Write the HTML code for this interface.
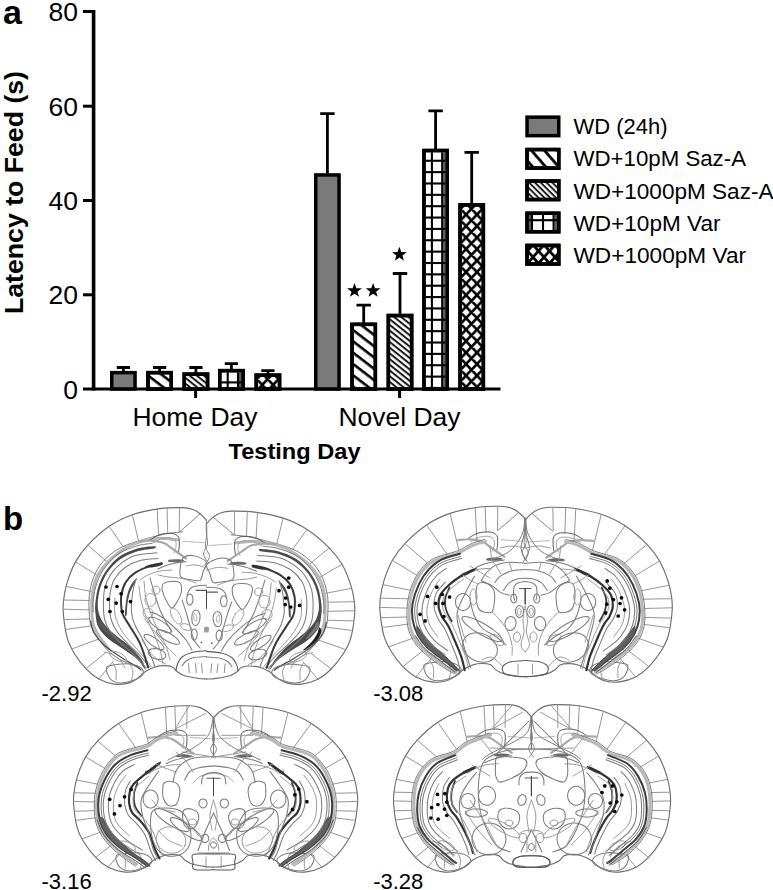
<!DOCTYPE html>
<html><head><meta charset="utf-8">
<style>
html,body{margin:0;padding:0;background:#fff;}
body{width:773px;height:890px;overflow:hidden;}
svg{display:block;}
text{font-family:"Liberation Sans",sans-serif;fill:#000;}
</style></head>
<body>
<svg width="773" height="890" viewBox="0 0 773 890">
<defs>
<pattern id="sazBar" patternUnits="userSpaceOnUse" x="0.00" y="0.00" width="40" height="8.950" patternTransform="rotate(37.60)"><rect x="0" y="0" width="40" height="2.60" fill="#000"/></pattern>
<pattern id="sazLeg" patternUnits="userSpaceOnUse" x="0.00" y="0.00" width="40" height="9.800" patternTransform="rotate(49.00)"><rect x="0" y="0" width="40" height="2.80" fill="#000"/></pattern>
<pattern id="saz1kBar" patternUnits="userSpaceOnUse" x="0.00" y="0.00" width="40" height="4.450" patternTransform="rotate(38.70)"><rect x="0" y="0" width="40" height="2.00" fill="#1a1a1a"/></pattern>
<pattern id="saz1kLeg" patternUnits="userSpaceOnUse" x="0.00" y="0.00" width="40" height="4.100" patternTransform="rotate(45.00)"><rect x="0" y="0" width="40" height="1.90" fill="#1a1a1a"/></pattern>
<clipPath id="c1"><rect x="146.20" y="370.90" width="26.80" height="18.10"/></clipPath>
<clipPath id="c2"><rect x="182.50" y="372.40" width="26.80" height="16.60"/></clipPath>
<clipPath id="c3"><rect x="255.50" y="374.40" width="24.80" height="14.60"/></clipPath>
<pattern id="xh3" patternUnits="userSpaceOnUse" x="251.35" y="373.40" width="10.90" height="11.50"><path d="M0,0 L10.90,11.50 M10.90,0 L0,11.50 M-5.45,5.75 L0,0 M10.90,0.00 L16.35,5.75" stroke="#000" stroke-width="2.60" stroke-linecap="square"/></pattern>
<clipPath id="c4"><rect x="350.30" y="322.60" width="26.80" height="66.40"/></clipPath>
<clipPath id="c5"><rect x="386.60" y="313.80" width="26.80" height="75.20"/></clipPath>
<clipPath id="c6"><rect x="459.30" y="204.10" width="24.80" height="184.90"/></clipPath>
<pattern id="xh6" patternUnits="userSpaceOnUse" x="455.15" y="203.10" width="10.90" height="11.50"><path d="M0,0 L10.90,11.50 M10.90,0 L0,11.50 M-5.45,5.75 L0,0 M10.90,0.00 L16.35,5.75" stroke="#000" stroke-width="2.60" stroke-linecap="square"/></pattern>
<clipPath id="c7"><rect x="525.30" y="147.80" width="35.20" height="22.00"/></clipPath>
<clipPath id="c8"><rect x="525.30" y="179.30" width="35.20" height="22.00"/></clipPath>
<clipPath id="c9"><rect x="525.30" y="211.50" width="35.20" height="22.00"/></clipPath>
<clipPath id="c10"><rect x="525.30" y="243.70" width="35.20" height="22.00"/></clipPath>
<pattern id="xhl" patternUnits="userSpaceOnUse" x="522.00" y="244.80" width="11.00" height="12.40"><path d="M0,0 L11.00,12.40 M11.00,0 L0,12.40 M-5.50,6.20 L0,0 M11.00,0.00 L16.50,6.20" stroke="#000" stroke-width="2.70" stroke-linecap="square"/></pattern>
</defs>

<!-- ===== Panel a ===== -->
<text x="3" y="24" font-size="34" font-weight="bold">a</text>
<text transform="translate(22.8,314) rotate(-90)" font-size="25.5" font-weight="bold" textLength="243" lengthAdjust="spacingAndGlyphs">Latency to Feed (s)</text>
<g font-size="26.5" text-anchor="end">
  <text x="78" y="21">80</text>
  <text x="78" y="115.7">60</text>
  <text x="78" y="210">40</text>
  <text x="78" y="304.4">20</text>
  <text x="78" y="398.6">0</text>
</g>
<g stroke="#000" fill="none">
  <line x1="93.6" y1="10" x2="93.6" y2="390.5" stroke-width="3.6"/>
  <g stroke-width="3">
    <line x1="83" y1="11.5" x2="95" y2="11.5"/>
    <line x1="83" y1="106.2" x2="95" y2="106.2"/>
    <line x1="83" y1="200.5" x2="95" y2="200.5"/>
    <line x1="83" y1="294.8" x2="95" y2="294.8"/>
    <line x1="83" y1="389" x2="500.5" y2="389"/>
    <line x1="195.6" y1="389" x2="195.6" y2="398"/>
    <line x1="399.6" y1="389" x2="399.6" y2="398"/>
  </g>
</g>
<g fill="#000">
  <path id="star" d="M0,-7 L1.75,-2.2 L6.8,-2.1 L2.8,0.95 L4.2,5.8 L0,2.9 L-4.2,5.8 L-2.8,0.95 L-6.8,-2.1 L-1.75,-2.2 Z" transform="translate(354.5,290.6) scale(1.08)"/>
  <use href="#star" x="18.6" y="0"/>
  <use href="#star" x="44.9" y="-36.2"/>
</g>
<text x="132.5" y="425.5" font-size="25" textLength="125" lengthAdjust="spacingAndGlyphs">Home Day</text>
<text x="338.5" y="425.5" font-size="25" textLength="122" lengthAdjust="spacingAndGlyphs">Novel Day</text>
<text x="228.5" y="459" font-size="22" font-weight="bold" textLength="132" lengthAdjust="spacingAndGlyphs">Testing Day</text>
<g font-size="21.5">
  <text x="573.5" y="134" textLength="94" lengthAdjust="spacingAndGlyphs">WD (24h)</text>
  <text x="573.5" y="166.3" textLength="172.5" lengthAdjust="spacingAndGlyphs">WD+10pM Saz-A</text>
  <text x="573.5" y="198.5" textLength="200" lengthAdjust="spacingAndGlyphs">WD+1000pM Saz-A</text>
  <text x="573.5" y="230.8" textLength="147" lengthAdjust="spacingAndGlyphs">WD+10pM Var</text>
  <text x="573.5" y="263" textLength="172.5" lengthAdjust="spacingAndGlyphs">WD+1000pM Var</text>
</g>
<!-- ===== Panel b ===== -->
<text x="3" y="530" font-size="33" font-weight="bold">b</text>
<g font-size="22">
  <text x="41.5" y="701.2">-2.92</text>
  <text x="373.2" y="701.2">-3.08</text>
  <text x="41.5" y="888.8">-3.16</text>
  <text x="373.2" y="888.8">-3.28</text>
</g>

<g>
<rect x="111.75" y="372.65" width="23.30" height="16.35" fill="#7a7a7a" stroke="#000" stroke-width="3.50"/>
<path d="M123.40,371.90 V367.50 M116.80,367.50 H130.00" stroke="#000" stroke-width="2.8" fill="none"/>
<rect x="147.95" y="372.65" width="23.30" height="16.35" fill="#fff" stroke="#000" stroke-width="3.50"/>
<rect x="146.20" y="370.90" width="26.80" height="18.10" fill="url(#sazBar)" clip-path="url(#c1)"/>
<rect x="147.95" y="372.65" width="23.30" height="16.35" fill="none" stroke="#000" stroke-width="3.50"/>
<path d="M159.60,371.90 V367.50 M153.00,367.50 H166.20" stroke="#000" stroke-width="2.8" fill="none"/>
<rect x="184.25" y="374.15" width="23.30" height="14.85" fill="#fff" stroke="#000" stroke-width="3.50"/>
<rect x="182.50" y="372.40" width="26.80" height="16.60" fill="url(#saz1kBar)" clip-path="url(#c2)"/>
<rect x="184.25" y="374.15" width="23.30" height="14.85" fill="none" stroke="#000" stroke-width="3.50"/>
<path d="M195.90,373.40 V367.50 M189.30,367.50 H202.50" stroke="#000" stroke-width="2.8" fill="none"/>
<rect x="219.75" y="370.65" width="23.30" height="18.35" fill="#fff" stroke="#000" stroke-width="3.50"/>
<rect x="239.00" y="372.40" width="3.60" height="16.60" fill="#5c5c5c"/>
<rect x="226.65" y="372.40" width="2.1" height="16.60" fill="#000"/>
<rect x="236.95" y="372.40" width="2.1" height="16.60" fill="#000"/>
<rect x="221.50" y="381.35" width="19.80" height="2.10" fill="#000"/>
<rect x="219.75" y="370.65" width="23.30" height="18.35" fill="none" stroke="#000" stroke-width="3.50"/>
<path d="M231.40,369.90 V363.60 M224.80,363.60 H238.00" stroke="#000" stroke-width="2.8" fill="none"/>
<rect x="256.25" y="375.15" width="23.30" height="13.85" fill="#fff" stroke="#000" stroke-width="3.50"/>
<rect x="254.50" y="373.40" width="26.80" height="15.60" fill="url(#xh3)" clip-path="url(#c3)"/>
<rect x="256.25" y="375.15" width="23.30" height="13.85" fill="none" stroke="#000" stroke-width="3.50"/>
<path d="M267.90,374.40 V370.60 M261.30,370.60 H274.50" stroke="#000" stroke-width="2.8" fill="none"/>
<rect x="315.75" y="174.95" width="23.30" height="214.05" fill="#7a7a7a" stroke="#000" stroke-width="3.50"/>
<path d="M327.40,174.20 V113.60 M320.20,113.60 H334.60" stroke="#000" stroke-width="2.8" fill="none"/>
<rect x="352.05" y="324.35" width="23.30" height="64.65" fill="#fff" stroke="#000" stroke-width="3.50"/>
<rect x="350.30" y="322.60" width="26.80" height="66.40" fill="url(#sazBar)" clip-path="url(#c4)"/>
<rect x="352.05" y="324.35" width="23.30" height="64.65" fill="none" stroke="#000" stroke-width="3.50"/>
<path d="M363.70,323.60 V305.20 M356.50,305.20 H370.90" stroke="#000" stroke-width="2.8" fill="none"/>
<rect x="388.35" y="315.55" width="23.30" height="73.45" fill="#fff" stroke="#000" stroke-width="3.50"/>
<rect x="386.60" y="313.80" width="26.80" height="75.20" fill="url(#saz1kBar)" clip-path="url(#c5)"/>
<rect x="388.35" y="315.55" width="23.30" height="73.45" fill="none" stroke="#000" stroke-width="3.50"/>
<path d="M400.00,314.80 V273.50 M392.80,273.50 H407.20" stroke="#000" stroke-width="2.8" fill="none"/>
<rect x="423.95" y="150.55" width="23.30" height="238.45" fill="#fff" stroke="#000" stroke-width="3.50"/>
<rect x="443.20" y="152.30" width="3.60" height="236.70" fill="#5c5c5c"/>
<rect x="430.85" y="152.30" width="2.1" height="236.70" fill="#000"/>
<rect x="441.15" y="152.30" width="2.1" height="236.70" fill="#000"/>
<rect x="425.70" y="159.71" width="19.80" height="2.10" fill="#000"/>
<rect x="425.70" y="171.07" width="19.80" height="2.10" fill="#000"/>
<rect x="425.70" y="182.43" width="19.80" height="2.10" fill="#000"/>
<rect x="425.70" y="193.79" width="19.80" height="2.10" fill="#000"/>
<rect x="425.70" y="205.15" width="19.80" height="2.10" fill="#000"/>
<rect x="425.70" y="216.51" width="19.80" height="2.10" fill="#000"/>
<rect x="425.70" y="227.87" width="19.80" height="2.10" fill="#000"/>
<rect x="425.70" y="239.23" width="19.80" height="2.10" fill="#000"/>
<rect x="425.70" y="250.59" width="19.80" height="2.10" fill="#000"/>
<rect x="425.70" y="261.95" width="19.80" height="2.10" fill="#000"/>
<rect x="425.70" y="273.31" width="19.80" height="2.10" fill="#000"/>
<rect x="425.70" y="284.67" width="19.80" height="2.10" fill="#000"/>
<rect x="425.70" y="296.03" width="19.80" height="2.10" fill="#000"/>
<rect x="425.70" y="307.39" width="19.80" height="2.10" fill="#000"/>
<rect x="425.70" y="318.75" width="19.80" height="2.10" fill="#000"/>
<rect x="425.70" y="330.11" width="19.80" height="2.10" fill="#000"/>
<rect x="425.70" y="341.47" width="19.80" height="2.10" fill="#000"/>
<rect x="425.70" y="352.83" width="19.80" height="2.10" fill="#000"/>
<rect x="425.70" y="364.19" width="19.80" height="2.10" fill="#000"/>
<rect x="425.70" y="375.55" width="19.80" height="2.10" fill="#000"/>
<rect x="425.70" y="386.91" width="19.80" height="2.09" fill="#000"/>
<rect x="423.95" y="150.55" width="23.30" height="238.45" fill="none" stroke="#000" stroke-width="3.50"/>
<path d="M435.60,149.80 V110.80 M428.40,110.80 H442.80" stroke="#000" stroke-width="2.8" fill="none"/>
<rect x="460.05" y="204.85" width="23.30" height="184.15" fill="#fff" stroke="#000" stroke-width="3.50"/>
<rect x="458.30" y="203.10" width="26.80" height="185.90" fill="url(#xh6)" clip-path="url(#c6)"/>
<rect x="460.05" y="204.85" width="23.30" height="184.15" fill="none" stroke="#000" stroke-width="3.50"/>
<path d="M471.70,204.10 V152.30 M464.50,152.30 H478.90" stroke="#000" stroke-width="2.8" fill="none"/>
<rect x="527.05" y="117.15" width="31.70" height="18.50" fill="#7a7a7a" stroke="#000" stroke-width="3.50"/>
<rect x="527.05" y="149.55" width="31.70" height="18.50" fill="#fff" stroke="#000" stroke-width="3.50"/>
<rect x="525.30" y="147.80" width="35.20" height="22.00" fill="url(#sazLeg)" clip-path="url(#c7)"/>
<rect x="527.05" y="149.55" width="31.70" height="18.50" fill="none" stroke="#000" stroke-width="3.50"/>
<rect x="527.05" y="181.05" width="31.70" height="18.50" fill="#fff" stroke="#000" stroke-width="3.50"/>
<rect x="525.30" y="179.30" width="35.20" height="22.00" fill="url(#saz1kLeg)" clip-path="url(#c8)"/>
<rect x="527.05" y="181.05" width="31.70" height="18.50" fill="none" stroke="#000" stroke-width="3.50"/>
<rect x="527.05" y="213.25" width="31.70" height="18.50" fill="#fff" stroke="#000" stroke-width="3.50"/>
<rect x="528.40" y="215.00" width="2.60" height="15.00" fill="#5c5c5c"/>
<rect x="554.70" y="215.00" width="3.30" height="15.00" fill="#5c5c5c"/>
<rect x="530.95" y="215.00" width="2.1" height="15.00" fill="#000"/>
<rect x="541.95" y="215.00" width="2.1" height="15.00" fill="#000"/>
<rect x="552.55" y="215.00" width="2.1" height="15.00" fill="#000"/>
<rect x="528.80" y="219.15" width="28.20" height="2.1" fill="#000"/>
<rect x="527.05" y="213.25" width="31.70" height="18.50" fill="none" stroke="#000" stroke-width="3.50"/>
<rect x="527.05" y="245.45" width="31.70" height="18.50" fill="#fff" stroke="#000" stroke-width="3.50"/>
<rect x="525.30" y="243.70" width="35.20" height="22.00" fill="url(#xhl)" clip-path="url(#c10)"/>
<rect x="527.05" y="245.45" width="31.70" height="18.50" fill="none" stroke="#000" stroke-width="3.50"/>
</g>

<g stroke-linecap="round" stroke-linejoin="round">
<g>
<path d="M206.5,520.5 C205.6,519.5 203.2,516.3 201.0,514.5 C198.8,512.7 196.2,510.6 193.0,509.5 C189.8,508.4 187.5,507.8 182.0,507.6 C176.5,507.5 168.3,507.4 160.0,508.6 C151.7,509.8 140.9,511.8 132.4,514.7 C123.9,517.7 116.6,521.2 109.2,526.3 C101.8,531.4 93.4,539.2 87.8,545.1 C82.2,551.0 79.0,555.6 75.5,561.9 C72.0,568.1 69.1,576.2 67.1,582.6 C65.1,589.0 64.2,594.7 63.6,600.0 C63.0,605.3 62.8,608.1 63.4,614.4 C64.0,620.7 65.3,631.2 67.1,637.7 C68.9,644.2 71.1,648.0 74.2,653.2 C77.3,658.4 81.8,664.4 85.9,668.7 C90.0,673.0 94.1,676.5 98.8,679.1 C103.5,681.7 109.5,683.4 114.3,684.1 C119.0,684.8 123.7,684.2 127.3,683.4 C130.9,682.6 133.0,681.5 136.0,679.5 C139.0,677.5 142.3,673.6 145.5,671.5 C148.7,669.4 151.9,668.0 155.0,667.0 C158.1,666.0 161.3,665.6 164.2,665.6 C167.1,665.6 170.4,665.9 172.5,666.9 C174.6,667.9 175.1,670.1 177.0,671.5 C178.9,672.9 180.6,674.4 184.0,675.5 C187.4,676.6 193.6,677.7 197.3,678.3 C201.1,678.9 205.0,678.9 206.5,679.0" fill="none" stroke="#6e6e6e" stroke-width="1.15"/>
<path d="M182.7,531.8 C180.6,532.0 173.8,532.6 170.0,533.2 C166.2,533.8 165.4,533.9 160.0,535.2 C154.6,536.5 144.6,538.9 137.6,541.2 C130.6,543.5 124.0,545.5 118.2,549.0 C112.4,552.5 106.8,557.2 102.7,561.9 C98.6,566.6 95.8,571.8 93.6,577.4 C91.4,583.0 90.0,589.4 89.3,595.6 C88.6,601.8 89.0,609.3 89.3,614.4 C89.6,619.5 89.6,621.9 91.2,626.0 C92.8,630.1 96.2,635.1 98.8,639.0 C101.4,642.9 103.7,646.3 106.6,649.3 C109.5,652.3 112.4,654.6 116.0,657.0 C119.6,659.4 124.0,661.8 128.0,663.5 C132.0,665.2 138.0,666.8 140.0,667.5" fill="none" stroke="#7c7c7c" stroke-width="1.00"/>
<path d="M157.2,508.8 L158.5,534.6" fill="none" stroke="#8a8a8a" stroke-width="0.90"/>
<path d="M167.0,507.9 L167.8,533.6" fill="none" stroke="#8a8a8a" stroke-width="0.90"/>
<path d="M179.5,507.7 L179.2,531.6" fill="none" stroke="#8a8a8a" stroke-width="0.90"/>
<path d="M132.4,514.7 L138.5,541.0" fill="none" stroke="#8a8a8a" stroke-width="0.90"/>
<path d="M109.2,526.3 L123.4,547.0" fill="none" stroke="#8a8a8a" stroke-width="0.90"/>
<path d="M87.8,545.1 L107.9,562.6" fill="none" stroke="#8a8a8a" stroke-width="0.90"/>
<path d="M75.5,561.9 L97.5,575.5" fill="none" stroke="#8a8a8a" stroke-width="0.90"/>
<path d="M66.6,586.5 L91.2,591.5" fill="none" stroke="#8a8a8a" stroke-width="0.90"/>
<path d="M63.6,600.0 L89.3,600.5" fill="none" stroke="#8a8a8a" stroke-width="0.90"/>
<path d="M63.5,609.2 L89.3,609.9" fill="none" stroke="#8a8a8a" stroke-width="0.90"/>
<path d="M64.6,619.6 L89.5,618.9" fill="none" stroke="#8a8a8a" stroke-width="0.90"/>
<path d="M66.5,629.3 L90.6,626.0" fill="none" stroke="#8a8a8a" stroke-width="0.90"/>
<path d="M72.3,648.8 L98.8,639.0" fill="none" stroke="#8a8a8a" stroke-width="0.90"/>
<path d="M85.9,668.7 L105.5,652.8" fill="none" stroke="#8a8a8a" stroke-width="0.90"/>
<path d="M98.8,679.1 L113.5,661.0" fill="none" stroke="#8a8a8a" stroke-width="0.90"/>
<path d="M179.9,531.6 L192.0,521.0 L199.8,514.0" fill="none" stroke="#7c7c7c" stroke-width="0.90"/>
<path d="M182.7,541.3 L204.0,542.7" fill="none" stroke="#b0b0b0" stroke-width="0.90"/>
<path d="M206.4,520.5 C206.4,522.2 206.0,527.1 206.2,531.0 C206.4,534.9 207.9,540.2 207.5,544.0 C207.1,547.8 203.3,550.8 203.5,554.0 C203.7,557.2 207.8,561.5 208.6,563.0" fill="none" stroke="#7c7c7c" stroke-width="0.90"/>
<path d="M178.0,540.0 C175.8,539.8 169.2,538.7 165.0,538.5 C160.8,538.3 157.0,537.9 152.5,538.6 C148.0,539.3 142.3,541.1 137.8,542.6 C133.3,544.1 130.6,544.6 125.7,547.7 C120.8,550.8 113.2,556.3 108.3,561.3 C103.4,566.3 99.3,572.0 96.6,577.6 C93.9,583.2 93.0,589.1 92.2,595.2 C91.4,601.3 91.7,608.9 91.9,614.0 C92.2,619.1 92.3,622.0 93.7,626.0 C95.1,630.0 98.0,634.5 100.5,638.3 C103.0,642.0 107.2,646.8 108.5,648.5" fill="none" stroke="#b8b8b8" stroke-width="3.00"/>
<path d="M150.0,540.0 C151.7,539.1 156.3,535.6 160.0,534.5 C163.7,533.4 168.9,533.1 172.0,533.5 C175.1,533.9 177.3,535.1 178.5,537.0 C179.7,538.9 179.3,542.5 179.3,545.0 C179.3,547.5 178.6,550.8 178.5,552.0" fill="none" stroke="#5a5a5a" stroke-width="1.00"/>
<path d="M153.0,543.0 C154.5,542.2 159.0,539.3 162.0,538.5 C165.0,537.7 168.8,537.6 171.0,538.0 C173.2,538.4 174.7,539.5 175.5,541.0 C176.3,542.5 176.2,545.0 176.0,547.0 C175.8,549.0 174.3,552.0 174.0,553.0" fill="none" stroke="#9a9a9a" stroke-width="0.90"/>
<path d="M140.0,541.5 C142.0,541.4 148.0,540.5 152.0,540.8 C156.0,541.0 160.7,541.7 164.0,543.0 C167.3,544.3 169.5,546.8 172.0,548.5 C174.5,550.2 176.7,551.8 179.0,553.5 C181.3,555.2 184.8,557.7 186.0,558.5" fill="none" stroke="#a8a8a8" stroke-width="2.20"/>
<path d="M154.0,546.2 C151.2,546.2 143.1,546.9 137.4,548.6 C131.7,550.3 125.0,552.9 119.9,556.3 C114.9,559.7 110.6,564.5 107.1,569.2 C103.6,573.9 101.0,578.9 99.0,584.4 C97.0,589.9 96.0,597.2 95.4,602.2 C94.8,607.2 95.1,610.2 95.6,614.4 C96.1,618.6 96.3,623.4 98.6,627.6 C100.9,631.8 104.8,635.9 109.2,639.6 C113.6,643.3 120.0,646.7 124.7,650.0 C129.4,653.3 134.1,656.2 137.5,659.5 C140.9,662.8 143.8,667.9 145.2,669.5 C146.5,671.1 146.2,670.7 145.6,669.3 C145.0,667.9 144.3,664.9 141.5,661.0 C138.7,657.1 133.1,650.3 128.6,645.8 C124.1,641.3 118.5,637.8 114.5,634.2 C110.5,630.6 107.0,627.5 104.5,624.2 C102.0,620.9 100.3,618.0 99.2,614.4 C98.1,610.8 97.5,607.1 97.8,602.5 C98.0,597.9 99.0,591.7 100.7,586.5 C102.5,581.3 105.0,575.9 108.3,571.3 C111.6,566.7 115.7,562.4 120.6,559.0 C125.5,555.6 132.0,553.0 137.6,551.2 C143.2,549.5 151.3,549.3 154.0,548.5 C156.7,547.7 156.8,546.2 154.0,546.2 Z" fill="#4a4a4a"/>
<path d="M98.6,624.0 C99.2,625.8 101.6,628.6 104.0,631.0 C106.4,633.4 109.5,635.8 113.0,638.5 C116.5,641.2 121.0,644.2 125.0,647.2 C129.0,650.2 133.9,653.4 137.0,656.5 C140.1,659.6 142.7,665.4 143.5,666.0 C144.3,666.6 144.3,663.3 142.0,660.0 C139.7,656.7 133.9,650.1 129.5,646.0 C125.1,641.9 119.4,638.7 115.5,635.5 C111.6,632.3 108.5,629.6 106.0,627.0 C103.5,624.4 101.7,620.5 100.5,620.0 C99.3,619.5 98.0,622.2 98.6,624.0 Z" fill="#555"/>
<path d="M152.0,543.4 C149.5,543.8 142.5,544.1 137.0,545.8 C131.5,547.5 124.2,550.0 119.0,553.5 C113.8,557.0 109.2,562.0 105.5,566.8 C101.8,571.6 99.0,577.0 97.0,582.5 C95.0,588.0 93.8,595.1 93.2,600.0 C92.6,604.9 93.2,610.0 93.2,612.0" fill="none" stroke="#6a6a6a" stroke-width="0.90"/>
<path d="M90.6,621.0 C91.2,623.0 91.6,628.9 94.0,633.0 C96.4,637.1 100.0,641.6 104.8,645.8 C109.6,650.0 117.6,655.0 122.8,658.4 C128.0,661.8 133.0,664.3 136.0,666.2 C139.0,668.1 140.2,669.4 141.0,670.0" fill="none" stroke="#4a4a4a" stroke-width="1.20"/>
<path d="M157.0,552.8 C153.3,553.3 141.2,553.7 135.0,555.6 C128.8,557.5 124.0,561.1 119.9,564.3 C115.8,567.5 113.1,570.6 110.6,574.6 C108.1,578.6 106.0,583.1 104.8,588.2 C103.6,593.3 103.4,599.7 103.4,605.0 C103.4,610.3 103.6,615.5 104.8,620.0 C106.0,624.5 107.9,628.2 110.5,632.0 C113.1,635.8 116.6,639.2 120.5,643.0 C124.4,646.8 129.7,650.8 134.0,655.0 C138.3,659.2 144.4,665.8 146.5,668.0" fill="none" stroke="#7c7c7c" stroke-width="1.05"/>
<path d="M158.0,558.6 C155.0,558.9 145.5,559.1 140.0,560.6 C134.5,562.1 129.3,564.4 125.0,567.5 C120.7,570.6 116.9,575.1 114.4,579.2 C112.0,583.3 111.1,587.7 110.3,592.0 C109.5,596.3 109.2,600.3 109.4,605.0 C109.6,609.7 110.0,615.5 111.3,620.0 C112.6,624.5 114.5,628.0 117.3,632.0 C120.1,636.0 124.4,640.0 128.2,644.0 C132.0,648.0 136.8,652.2 140.3,656.0 C143.8,659.8 147.7,665.2 149.2,667.0" fill="none" stroke="#7c7c7c" stroke-width="1.05"/>
<path d="M114.8,598.0 C114.8,600.3 114.3,608.0 114.7,612.0 C115.1,616.0 115.7,618.3 117.2,622.0 C118.8,625.7 121.2,630.0 124.0,634.0 C126.8,638.0 130.7,642.2 134.0,646.0 C137.3,649.8 141.1,653.5 144.0,657.0 C146.9,660.5 150.2,665.3 151.5,667.0" fill="none" stroke="#9a9a9a" stroke-width="1.00"/>
<path d="M161.5,563.6 C159.6,564.0 154.6,564.4 150.2,565.9 C145.8,567.4 139.1,570.2 135.0,572.9 C130.9,575.6 128.0,578.5 125.7,582.2 C123.4,585.9 122.0,590.6 121.3,595.2 C120.6,599.8 121.2,606.5 121.6,610.0 C122.0,613.5 122.2,613.2 123.6,616.0 C125.0,618.8 127.2,621.8 130.0,626.5 C132.8,631.2 137.3,637.4 140.3,644.2 C143.3,651.0 146.9,663.5 148.2,667.4" fill="none" stroke="#3a3a3a" stroke-width="2.00"/>
<path d="M161.8,562.4 C160.2,562.3 154.8,563.6 152.0,564.3 C149.2,565.0 145.0,566.3 145.0,566.8 C145.0,567.3 149.2,567.7 152.0,567.4 C154.8,567.1 160.2,565.8 161.8,565.0 C163.4,564.2 163.4,562.5 161.8,562.4 Z" fill="#333"/>
<path d="M136.4,578.6 C135.8,578.9 132.5,582.4 131.0,585.0 C129.5,587.6 128.3,590.7 127.4,594.0 C126.5,597.3 126.0,601.5 125.6,605.0 C125.2,608.5 124.8,613.3 125.0,615.0 C125.2,616.7 126.2,617.0 126.6,615.0 C127.0,613.0 127.0,606.8 127.6,603.0 C128.2,599.2 129.0,595.2 130.2,592.0 C131.3,588.8 133.5,585.7 134.5,583.5 C135.5,581.3 137.0,578.4 136.4,578.6 Z" fill="#505050"/>
<path d="M136.4,578.6 C135.9,580.2 134.3,584.4 133.5,588.0 C132.7,591.6 132.1,596.0 131.8,600.0 C131.5,604.0 131.1,608.0 131.5,612.0 C131.9,616.0 132.8,619.7 134.5,624.0 C136.2,628.3 139.3,632.8 142.0,638.0 C144.7,643.2 148.3,650.2 150.5,655.0 C152.7,659.8 154.2,665.0 155.0,667.0" fill="none" stroke="#7c7c7c" stroke-width="1.05"/>
<path d="M158.0,569.0 C159.3,568.4 163.0,566.5 166.0,565.5 C169.0,564.5 172.7,563.7 176.0,563.0 C179.3,562.3 184.3,561.8 186.0,561.5" fill="none" stroke="#7c7c7c" stroke-width="1.05"/>
<path d="M169.0,559.8 C170.5,559.3 175.4,559.1 178.0,559.2 C180.6,559.3 184.5,560.1 184.5,560.6 C184.5,561.1 180.6,562.1 178.0,562.3 C175.4,562.5 170.5,562.4 169.0,562.0 C167.5,561.6 167.5,560.3 169.0,559.8 Z" fill="#6a6a6a"/>
<path d="M140.0,580.0 C141.3,579.2 144.7,576.5 148.0,575.0 C151.3,573.5 156.0,571.8 160.0,571.0 C164.0,570.2 170.0,570.2 172.0,570.0" fill="none" stroke="#9a9a9a" stroke-width="1.00"/>
<path d="M139.0,586.0 C139.3,588.3 139.8,594.8 141.0,600.0 C142.2,605.2 143.8,611.3 146.0,617.0 C148.2,622.7 151.7,628.5 154.0,634.0 C156.3,639.5 158.5,645.0 160.0,650.0 C161.5,655.0 162.5,661.7 163.0,664.0" fill="none" stroke="#9a9a9a" stroke-width="1.00"/>
<path d="M144.0,581.0 C144.3,583.8 144.8,592.5 146.0,598.0 C147.2,603.5 149.0,608.7 151.0,614.0 C153.0,619.3 155.5,624.7 158.0,630.0 C160.5,635.3 164.0,641.0 166.0,646.0 C168.0,651.0 169.3,657.7 170.0,660.0" fill="none" stroke="#9a9a9a" stroke-width="1.00"/>
<path d="M183.6,557.5 C185.8,555.8 190.2,555.0 194.0,555.8 C197.8,556.5 204.7,559.3 206.2,562.0 C207.7,564.7 204.0,568.9 203.0,572.0 C202.0,575.1 202.2,579.1 200.0,580.4 C197.8,581.6 193.2,580.1 190.0,579.5 C186.8,578.9 182.3,578.9 180.7,576.6 C179.1,574.4 180.0,569.2 180.5,566.0 C181.0,562.8 181.3,559.2 183.6,557.5 Z" fill="none" stroke="#7c7c7c" stroke-width="1.05"/>
<path d="M186.0,566.0 C187.7,565.8 192.6,564.7 196.0,565.0 C199.4,565.3 204.6,567.5 206.3,568.0" fill="none" stroke="#9a9a9a" stroke-width="1.00"/>
<path d="M163.0,584.0 C164.4,582.4 168.2,581.7 171.0,581.5 C173.8,581.3 178.3,581.2 180.0,583.0 C181.7,584.8 181.8,588.8 181.3,592.0 C180.8,595.2 178.6,599.3 177.0,602.0 C175.4,604.7 173.3,608.3 171.5,608.0 C169.7,607.7 167.5,602.8 166.0,600.0 C164.5,597.2 163.0,593.7 162.5,591.0 C162.0,588.3 161.6,585.6 163.0,584.0 Z" fill="none" stroke="#7c7c7c" stroke-width="1.05"/>
<path d="M150.0,578.0 C150.8,580.8 153.3,589.7 155.0,595.0 C156.7,600.3 158.2,605.5 160.0,610.0 C161.8,614.5 164.0,618.3 166.0,622.0 C168.0,625.7 171.0,630.3 172.0,632.0" fill="none" stroke="#7c7c7c" stroke-width="1.05"/>
<path d="M158.0,575.0 C159.7,575.3 164.0,576.4 168.0,577.0 C172.0,577.6 177.3,577.5 182.0,578.5 C186.7,579.5 193.7,582.2 196.0,583.0" fill="none" stroke="#9a9a9a" stroke-width="1.00"/>
<path d="M182.0,600.0 C182.7,602.0 184.7,607.7 186.0,612.0 C187.3,616.3 188.7,621.3 190.0,626.0 C191.3,630.7 192.3,636.3 194.0,640.0 C195.7,643.7 199.0,646.7 200.0,648.0" fill="none" stroke="#7c7c7c" stroke-width="1.05"/>
<path d="M156.0,600.0 C156.0,601.1 155.7,602.3 155.3,603.2 C154.8,604.2 154.0,605.1 153.2,605.6 C152.5,606.2 151.4,606.5 150.5,606.5 C149.6,606.5 148.5,606.2 147.8,605.6 C147.0,605.1 146.2,604.2 145.7,603.2 C145.3,602.3 145.0,601.1 145.0,600.0 C145.0,598.9 145.3,597.7 145.7,596.8 C146.2,595.8 147.0,594.9 147.8,594.4 C148.5,593.8 149.6,593.5 150.5,593.5 C151.4,593.5 152.5,593.8 153.2,594.4 C154.0,594.9 154.8,595.8 155.3,596.8 C155.7,597.7 156.0,598.9 156.0,600.0 Z" fill="none" stroke="#9a9a9a" stroke-width="1.00"/>
<path d="M153.0,613.0 C153.0,613.8 152.7,614.8 152.3,615.5 C151.9,616.2 151.2,616.9 150.5,617.3 C149.8,617.7 148.8,618.0 148.0,618.0 C147.2,618.0 146.2,617.7 145.5,617.3 C144.8,616.9 144.1,616.2 143.7,615.5 C143.3,614.8 143.0,613.8 143.0,613.0 C143.0,612.2 143.3,611.2 143.7,610.5 C144.1,609.8 144.8,609.1 145.5,608.7 C146.2,608.3 147.2,608.0 148.0,608.0 C148.8,608.0 149.8,608.3 150.5,608.7 C151.2,609.1 151.9,609.8 152.3,610.5 C152.7,611.2 153.0,612.2 153.0,613.0 Z" fill="none" stroke="#9a9a9a" stroke-width="1.00"/>
<path d="M160.0,590.0 C160.0,590.8 159.7,591.7 159.2,592.4 C158.8,593.0 158.0,593.6 157.2,593.8 C156.5,594.0 155.5,594.0 154.8,593.8 C154.0,593.6 153.2,593.0 152.8,592.4 C152.3,591.7 152.0,590.8 152.0,590.0 C152.0,589.2 152.3,588.3 152.8,587.6 C153.2,587.0 154.0,586.4 154.8,586.2 C155.5,586.0 156.5,586.0 157.2,586.2 C158.0,586.4 158.8,587.0 159.2,587.6 C159.7,588.3 160.0,589.2 160.0,590.0 Z" fill="none" stroke="#9a9a9a" stroke-width="1.00"/>
<path d="M206.5,585.2 C205.2,585.3 201.4,585.2 199.0,585.6 C196.6,586.0 193.8,586.3 192.0,587.3 C190.2,588.3 189.2,590.0 188.4,591.5 C187.6,593.0 187.4,595.2 187.2,596.0" fill="none" stroke="#7c7c7c" stroke-width="1.05"/>
<path d="M196.0,590.3 L206.5,590.3" fill="none" stroke="#5a5a5a" stroke-width="1.20"/>
<path d="M206.5,590.3 L206.5,607.0" fill="none" stroke="#444" stroke-width="1.00"/>
<path d="M193.0,599.5 C193.0,600.4 192.8,601.5 192.6,602.3 C192.3,603.1 191.9,603.9 191.4,604.3 C190.9,604.8 190.3,605.1 189.8,605.1 C189.3,605.1 188.7,604.8 188.2,604.3 C187.7,603.9 187.3,603.1 187.0,602.3 C186.8,601.5 186.6,600.4 186.6,599.5 C186.6,598.6 186.8,597.5 187.0,596.7 C187.3,595.9 187.7,595.1 188.2,594.7 C188.7,594.2 189.3,593.9 189.8,593.9 C190.3,593.9 190.9,594.2 191.4,594.7 C191.9,595.1 192.3,595.9 192.6,596.7 C192.8,597.5 193.0,598.6 193.0,599.5 Z" fill="none" stroke="#7c7c7c" stroke-width="1.05"/>
<path d="M196.0,610.0 C197.1,610.2 198.9,611.3 199.5,613.0 C200.1,614.7 200.2,618.0 199.8,620.0 C199.4,622.0 198.1,624.3 197.0,625.0 C195.9,625.7 193.9,625.3 193.0,624.0 C192.1,622.7 191.8,619.0 191.8,617.0 C191.8,615.0 192.3,613.2 193.0,612.0 C193.7,610.8 194.9,609.8 196.0,610.0 Z" fill="none" stroke="#7c7c7c" stroke-width="1.05"/>
<path d="M194.5,613.5 C195.0,613.5 196.5,614.8 196.8,616.0 C197.1,617.2 196.7,620.3 196.3,621.0 C195.9,621.7 194.7,620.8 194.3,620.0 C193.9,619.2 193.8,617.1 193.8,616.0 C193.8,614.9 194.0,613.5 194.5,613.5 Z" fill="none" stroke="#9a9a9a" stroke-width="0.80"/>
<path d="M197.2,634.5 C197.2,635.4 197.0,636.5 196.8,637.2 C196.5,638.0 196.1,638.8 195.7,639.3 C195.3,639.7 194.7,640.0 194.2,640.0 C193.7,640.0 193.1,639.7 192.7,639.3 C192.3,638.8 191.9,638.0 191.6,637.2 C191.4,636.5 191.2,635.4 191.2,634.5 C191.2,633.6 191.4,632.5 191.6,631.8 C191.9,631.0 192.3,630.2 192.7,629.7 C193.1,629.3 193.7,629.0 194.2,629.0 C194.7,629.0 195.3,629.3 195.7,629.7 C196.1,630.2 196.5,631.0 196.8,631.8 C197.0,632.5 197.2,633.6 197.2,634.5 Z" fill="none" stroke="#7c7c7c" stroke-width="1.05"/>
<path d="M191.2,628.9 C191.0,629.4 190.5,629.8 190.0,630.0 C189.4,630.3 188.5,630.4 187.7,630.4 C186.9,630.3 185.8,630.1 185.0,629.8 C184.1,629.5 183.2,629.0 182.5,628.5 C181.9,628.0 181.3,627.3 181.0,626.8 C180.7,626.2 180.7,625.6 180.8,625.1 C181.0,624.6 181.5,624.2 182.0,624.0 C182.6,623.7 183.5,623.6 184.3,623.6 C185.1,623.7 186.2,623.9 187.0,624.2 C187.9,624.5 188.8,625.0 189.5,625.5 C190.1,626.0 190.7,626.7 191.0,627.2 C191.3,627.8 191.3,628.4 191.2,628.9 Z" fill="none" stroke="#9a9a9a" stroke-width="1.00"/>
<rect x="204.4" y="626.8" width="4.2" height="4.6" fill="#9a9a9a"/>
<circle cx="201.4" cy="642.4" r="0.90" fill="#666"/>
<path d="M171.0,631.9 C170.7,632.3 170.1,632.6 169.3,632.7 C168.5,632.8 167.4,632.7 166.2,632.4 C165.0,632.1 163.6,631.6 162.2,630.9 C160.8,630.3 159.2,629.4 157.8,628.6 C156.4,627.7 154.9,626.6 153.7,625.7 C152.5,624.7 151.4,623.6 150.6,622.6 C149.8,621.7 149.2,620.8 149.0,620.0 C148.7,619.2 148.7,618.6 149.0,618.1 C149.3,617.7 149.9,617.4 150.7,617.3 C151.5,617.2 152.6,617.3 153.8,617.6 C155.0,617.9 156.4,618.4 157.8,619.1 C159.2,619.7 160.8,620.6 162.2,621.4 C163.6,622.3 165.1,623.4 166.3,624.3 C167.5,625.3 168.6,626.4 169.4,627.4 C170.2,628.3 170.8,629.2 171.0,630.0 C171.3,630.8 171.3,631.4 171.0,631.9 Z" fill="none" stroke="#7c7c7c" stroke-width="1.05"/>
<path d="M179.3,643.5 C179.0,643.9 178.4,644.2 177.6,644.3 C176.9,644.4 175.7,644.3 174.5,644.0 C173.4,643.8 171.9,643.3 170.5,642.7 C169.0,642.1 167.4,641.3 166.0,640.5 C164.6,639.6 163.1,638.6 161.8,637.7 C160.6,636.8 159.5,635.8 158.6,634.9 C157.8,634.0 157.1,633.0 156.8,632.3 C156.5,631.6 156.5,630.9 156.7,630.5 C157.0,630.1 157.6,629.8 158.4,629.7 C159.1,629.6 160.3,629.7 161.5,630.0 C162.6,630.2 164.1,630.7 165.5,631.3 C167.0,631.9 168.6,632.7 170.0,633.5 C171.4,634.4 172.9,635.4 174.2,636.3 C175.4,637.2 176.5,638.2 177.4,639.1 C178.2,640.0 178.9,641.0 179.2,641.7 C179.5,642.4 179.5,643.1 179.3,643.5 Z" fill="none" stroke="#7c7c7c" stroke-width="1.05"/>
<path d="M163.7,649.1 C163.4,649.4 162.9,649.7 162.1,649.7 C161.4,649.7 160.4,649.5 159.3,649.2 C158.2,648.8 156.9,648.2 155.7,647.5 C154.4,646.9 153.0,646.0 151.8,645.1 C150.5,644.2 149.3,643.1 148.2,642.1 C147.2,641.2 146.2,640.1 145.6,639.2 C144.9,638.3 144.4,637.4 144.2,636.7 C144.0,636.0 144.0,635.3 144.3,634.9 C144.6,634.6 145.1,634.3 145.9,634.3 C146.6,634.3 147.6,634.5 148.7,634.8 C149.8,635.2 151.1,635.8 152.3,636.5 C153.6,637.1 155.0,638.0 156.2,638.9 C157.5,639.8 158.7,640.9 159.8,641.9 C160.8,642.8 161.8,643.9 162.4,644.8 C163.1,645.7 163.6,646.6 163.8,647.3 C164.0,648.0 164.0,648.7 163.7,649.1 Z" fill="none" stroke="#7c7c7c" stroke-width="1.05"/>
<path d="M180.5,623.8 C180.1,624.0 179.5,624.1 178.8,624.0 C178.2,623.8 177.5,623.4 176.7,622.9 C176.0,622.4 175.2,621.7 174.5,620.8 C173.8,620.0 173.1,619.0 172.5,618.0 C172.0,617.0 171.4,615.9 171.1,614.9 C170.7,613.8 170.5,612.8 170.4,611.9 C170.3,611.0 170.3,610.2 170.5,609.6 C170.7,608.9 171.1,608.5 171.5,608.2 C171.9,608.0 172.5,607.9 173.2,608.0 C173.8,608.2 174.5,608.6 175.3,609.1 C176.0,609.6 176.8,610.3 177.5,611.2 C178.2,612.0 178.9,613.0 179.5,614.0 C180.0,615.0 180.6,616.1 180.9,617.1 C181.3,618.2 181.5,619.2 181.6,620.1 C181.7,621.0 181.7,621.8 181.5,622.4 C181.3,623.1 180.9,623.5 180.5,623.8 Z" fill="none" stroke="#9a9a9a" stroke-width="1.00"/>
<path d="M150.0,612.0 C151.7,612.7 155.8,613.3 160.0,616.0 C164.2,618.7 170.7,624.0 175.0,628.0 C179.3,632.0 183.2,636.3 186.0,640.0 C188.8,643.7 191.0,648.3 192.0,650.0" fill="none" stroke="#7c7c7c" stroke-width="1.05"/>
<path d="M144.0,618.0 C145.7,620.2 150.3,626.3 154.0,631.0 C157.7,635.7 162.3,641.8 166.0,646.0 C169.7,650.2 174.3,654.3 176.0,656.0" fill="none" stroke="#9a9a9a" stroke-width="1.00"/>
<path d="M142.0,640.0 C143.3,642.0 147.3,648.7 150.0,652.0 C152.7,655.3 155.3,658.0 158.0,660.0 C160.7,662.0 164.7,663.3 166.0,664.0" fill="none" stroke="#9a9a9a" stroke-width="1.00"/>
<path d="M165.7,656.3 C165.5,657.0 165.0,657.7 164.3,658.2 C163.6,658.7 162.5,659.1 161.4,659.2 C160.3,659.4 158.9,659.4 157.7,659.2 C156.4,659.1 155.0,658.7 153.8,658.2 C152.6,657.7 151.4,657.0 150.6,656.3 C149.7,655.6 149.0,654.8 148.6,654.0 C148.2,653.2 148.1,652.4 148.3,651.7 C148.5,651.0 149.0,650.3 149.7,649.8 C150.4,649.3 151.5,648.9 152.6,648.8 C153.7,648.6 155.1,648.6 156.3,648.8 C157.6,648.9 159.0,649.3 160.2,649.8 C161.4,650.3 162.6,651.0 163.4,651.7 C164.3,652.4 165.0,653.2 165.4,654.0 C165.8,654.8 165.9,655.6 165.7,656.3 Z" fill="none" stroke="#7c7c7c" stroke-width="1.05"/>
<path d="M206.5,650.8 C204.1,651.1 196.1,651.5 192.0,652.5 C187.9,653.5 184.4,655.1 182.0,657.0 C179.6,658.9 178.5,661.8 177.5,664.0 C176.5,666.2 176.2,669.4 176.0,670.5" fill="none" stroke="#5a5a5a" stroke-width="1.05"/>
<path d="M206.5,656.5 C204.4,656.7 197.4,656.8 194.0,657.5 C190.6,658.2 188.0,659.6 186.0,661.0 C184.0,662.4 182.7,665.2 182.0,666.0" fill="none" stroke="#7c7c7c" stroke-width="1.05"/>
<path d="M188.5,663.5 L189.3,672.5" fill="none" stroke="#808080" stroke-width="0.90"/>
<path d="M195.5,663.5 L196.3,672.5" fill="none" stroke="#808080" stroke-width="0.90"/>
<path d="M201.5,663.5 L202.3,672.5" fill="none" stroke="#808080" stroke-width="0.90"/>
<path d="M106.6,667.4 C107.6,665.1 112.1,665.2 116.0,664.6 C119.9,664.0 125.8,663.4 130.0,664.0 C134.2,664.6 138.9,666.2 141.0,668.0 C143.1,669.8 144.0,672.5 142.8,674.5 C141.6,676.5 137.8,678.6 134.0,680.0 C130.2,681.4 124.0,683.2 120.0,683.0 C116.0,682.8 112.2,681.1 110.0,678.5 C107.8,675.9 105.6,669.7 106.6,667.4 Z" fill="none" stroke="#7c7c7c" stroke-width="1.05"/>
<path d="M104.0,652.0 C105.2,652.3 108.3,652.7 111.0,654.0 C113.7,655.3 117.7,657.7 120.0,660.0 C122.3,662.3 124.2,666.7 125.0,668.0" fill="none" stroke="#9a9a9a" stroke-width="1.00"/>
<path d="M113.0,663.0 C113.5,664.2 115.5,667.2 116.0,670.0 C116.5,672.8 116.0,678.3 116.0,680.0" fill="none" stroke="#9a9a9a" stroke-width="1.00"/>
<path d="M126.2,660.3 C125.9,660.8 125.3,661.3 124.6,661.5 C123.9,661.7 122.8,661.8 121.8,661.7 C120.7,661.6 119.4,661.3 118.2,660.9 C117.0,660.5 115.6,659.8 114.5,659.2 C113.4,658.5 112.4,657.7 111.6,657.0 C110.8,656.2 110.2,655.4 109.9,654.6 C109.6,653.9 109.6,653.2 109.8,652.7 C110.1,652.2 110.7,651.7 111.4,651.5 C112.1,651.3 113.2,651.2 114.2,651.3 C115.3,651.4 116.6,651.7 117.8,652.1 C119.0,652.5 120.4,653.2 121.5,653.8 C122.6,654.5 123.6,655.3 124.4,656.0 C125.2,656.8 125.8,657.6 126.1,658.4 C126.4,659.1 126.4,659.8 126.2,660.3 Z" fill="none" stroke="#9a9a9a" stroke-width="1.00"/>
<path d="M130.0,664.0 C130.5,665.3 132.8,669.0 133.0,672.0 C133.2,675.0 131.3,680.3 131.0,682.0" fill="none" stroke="#9a9a9a" stroke-width="1.00"/>
<path d="M206.5,523.7 C207.4,522.8 209.9,519.7 212.2,517.9 C214.5,516.1 217.2,514.1 220.5,513.0 C223.7,511.8 226.1,511.2 231.8,511.1 C237.5,511.0 246.0,510.9 254.6,512.1 C263.1,513.2 274.4,515.2 283.1,518.1 C291.9,520.9 299.4,524.5 307.1,529.4 C314.8,534.4 323.4,542.0 329.2,547.9 C335.0,553.7 338.4,558.2 342.0,564.3 C345.5,570.4 348.6,578.4 350.6,584.6 C352.7,590.8 353.6,596.5 354.3,601.7 C354.9,606.9 355.1,609.6 354.5,615.8 C353.9,621.9 352.5,632.3 350.6,638.6 C348.8,645.0 346.5,648.7 343.3,653.8 C340.1,658.9 335.4,664.8 331.2,669.0 C327.0,673.2 322.8,676.7 317.9,679.2 C313.0,681.7 306.7,683.4 301.8,684.1 C296.9,684.8 292.1,684.2 288.4,683.4 C284.7,682.7 282.5,681.5 279.4,679.6 C276.3,677.6 272.8,673.8 269.6,671.8 C266.3,669.7 263.0,668.3 259.8,667.3 C256.5,666.4 253.3,666.0 250.2,666.0 C247.2,666.0 243.9,666.3 241.7,667.2 C239.5,668.2 239.0,670.3 237.0,671.8 C235.0,673.2 233.3,674.6 229.8,675.7 C226.3,676.8 219.9,677.8 216.0,678.4 C212.1,679.0 208.1,679.0 206.5,679.1" fill="none" stroke="#6e6e6e" stroke-width="1.15"/>
<path d="M231.1,534.8 C233.3,535.0 240.3,535.6 244.2,536.2 C248.2,536.7 249.0,536.8 254.6,538.2 C260.2,539.5 270.5,541.8 277.7,544.0 C284.9,546.3 291.8,548.3 297.8,551.7 C303.8,555.1 309.6,559.7 313.8,564.3 C318.1,569.0 320.9,574.0 323.2,579.5 C325.5,585.0 326.9,591.3 327.7,597.4 C328.4,603.4 328.0,610.8 327.7,615.8 C327.4,620.7 327.4,623.1 325.7,627.2 C324.1,631.2 320.5,636.1 317.9,639.9 C315.2,643.7 312.8,647.1 309.8,650.0 C306.8,652.9 303.8,655.2 300.1,657.5 C296.4,659.9 291.8,662.2 287.7,663.9 C283.5,665.6 277.3,667.2 275.3,667.8" fill="none" stroke="#7c7c7c" stroke-width="1.00"/>
<path d="M257.5,512.3 L256.1,537.6" fill="none" stroke="#8a8a8a" stroke-width="0.90"/>
<path d="M247.3,511.4 L246.5,536.6" fill="none" stroke="#8a8a8a" stroke-width="0.90"/>
<path d="M234.4,511.2 L234.7,534.6" fill="none" stroke="#8a8a8a" stroke-width="0.90"/>
<path d="M283.1,518.1 L276.8,543.8" fill="none" stroke="#8a8a8a" stroke-width="0.90"/>
<path d="M307.1,529.4 L292.4,549.7" fill="none" stroke="#8a8a8a" stroke-width="0.90"/>
<path d="M329.2,547.9 L308.5,565.0" fill="none" stroke="#8a8a8a" stroke-width="0.90"/>
<path d="M342.0,564.3 L319.2,577.7" fill="none" stroke="#8a8a8a" stroke-width="0.90"/>
<path d="M351.2,588.4 L325.7,593.3" fill="none" stroke="#8a8a8a" stroke-width="0.90"/>
<path d="M354.3,601.7 L327.7,602.2" fill="none" stroke="#8a8a8a" stroke-width="0.90"/>
<path d="M354.4,610.7 L327.7,611.4" fill="none" stroke="#8a8a8a" stroke-width="0.90"/>
<path d="M353.2,620.9 L327.5,620.2" fill="none" stroke="#8a8a8a" stroke-width="0.90"/>
<path d="M351.3,630.4 L326.3,627.2" fill="none" stroke="#8a8a8a" stroke-width="0.90"/>
<path d="M345.3,649.5 L317.9,639.9" fill="none" stroke="#8a8a8a" stroke-width="0.90"/>
<path d="M331.2,669.0 L310.9,653.4" fill="none" stroke="#8a8a8a" stroke-width="0.90"/>
<path d="M317.9,679.2 L302.7,661.5" fill="none" stroke="#8a8a8a" stroke-width="0.90"/>
<path d="M234.0,534.6 L221.5,524.2 L213.4,517.4" fill="none" stroke="#7c7c7c" stroke-width="0.90"/>
<path d="M231.1,544.1 L209.1,545.5" fill="none" stroke="#b0b0b0" stroke-width="0.90"/>
<path d="M206.6,523.7 C206.6,525.5 207.0,530.2 206.8,534.0 C206.6,537.9 205.0,543.0 205.5,546.8 C205.9,550.5 209.8,553.5 209.6,556.6 C209.4,559.7 205.2,563.9 204.3,565.4" fill="none" stroke="#7c7c7c" stroke-width="0.90"/>
<path d="M236.0,542.9 C238.2,542.6 245.0,541.6 249.4,541.4 C253.8,541.2 257.6,540.8 262.3,541.5 C267.0,542.2 272.9,543.9 277.5,545.4 C282.2,546.9 285.0,547.3 290.0,550.4 C295.1,553.5 303.0,558.8 308.0,563.7 C313.1,568.6 317.4,574.2 320.1,579.7 C322.9,585.2 323.9,591.0 324.7,597.0 C325.5,602.9 325.3,610.4 325.0,615.4 C324.7,620.4 324.6,623.2 323.1,627.2 C321.7,631.1 318.7,635.5 316.1,639.2 C313.6,642.9 309.2,647.5 307.8,649.2" fill="none" stroke="#b8b8b8" stroke-width="3.00"/>
<path d="M264.9,542.9 C263.2,542.0 258.4,538.5 254.6,537.5 C250.8,536.4 245.4,536.1 242.2,536.5 C239.0,536.9 236.7,538.0 235.5,539.9 C234.2,541.8 234.6,545.3 234.6,547.8 C234.6,550.2 235.3,553.5 235.5,554.6" fill="none" stroke="#5a5a5a" stroke-width="1.00"/>
<path d="M261.8,545.8 C260.3,545.1 255.6,542.2 252.5,541.4 C249.4,540.6 245.5,540.5 243.2,540.9 C240.9,541.3 239.4,542.4 238.6,543.8 C237.7,545.3 237.8,547.8 238.0,549.7 C238.3,551.7 239.8,554.6 240.1,555.6" fill="none" stroke="#9a9a9a" stroke-width="0.90"/>
<path d="M275.3,544.3 C273.2,544.2 267.0,543.4 262.9,543.6 C258.7,543.9 253.9,544.5 250.4,545.8 C247.0,547.1 244.8,549.5 242.2,551.2 C239.6,552.9 237.3,554.5 234.9,556.1 C232.5,557.7 228.9,560.2 227.7,561.0" fill="none" stroke="#a8a8a8" stroke-width="2.20"/>
<path d="M260.8,548.9 C263.6,548.9 272.1,549.6 277.9,551.3 C283.8,552.9 290.8,555.5 296.0,558.8 C301.3,562.2 305.7,566.9 309.3,571.5 C312.9,576.1 315.6,581.0 317.7,586.4 C319.7,591.8 320.8,598.9 321.4,603.8 C322.0,608.7 321.7,611.6 321.2,615.8 C320.6,619.9 320.4,624.6 318.1,628.7 C315.7,632.8 311.6,636.8 307.1,640.5 C302.6,644.1 296.0,647.4 291.1,650.7 C286.2,653.9 281.4,656.8 277.8,660.0 C274.3,663.2 271.3,668.2 269.9,669.8 C268.5,671.4 268.8,671.0 269.5,669.6 C270.1,668.2 270.8,665.3 273.7,661.5 C276.6,657.6 282.4,650.9 287.0,646.6 C291.7,642.2 297.5,638.7 301.6,635.2 C305.8,631.7 309.3,628.6 312.0,625.4 C314.6,622.2 316.3,619.3 317.4,615.8 C318.6,612.2 319.2,608.7 318.9,604.1 C318.6,599.6 317.7,593.5 315.9,588.4 C314.1,583.3 311.5,578.0 308.0,573.5 C304.6,569.0 300.4,564.8 295.3,561.5 C290.3,558.2 283.5,555.5 277.7,553.8 C272.0,552.1 263.6,552.0 260.8,551.2 C258.0,550.4 257.9,548.9 260.8,548.9 Z" fill="#4a4a4a"/>
<path d="M262.9,546.2 C265.4,546.6 272.7,546.9 278.4,548.5 C284.1,550.2 291.5,552.7 297.0,556.1 C302.4,559.5 307.1,564.4 310.9,569.1 C314.7,573.9 317.6,579.1 319.7,584.5 C321.8,589.9 323.0,596.8 323.7,601.7 C324.3,606.5 323.7,611.5 323.7,613.4" fill="none" stroke="#6a6a6a" stroke-width="0.90"/>
<path d="M326.3,622.3 C325.8,624.2 325.3,630.0 322.8,634.0 C320.4,638.1 316.6,642.4 311.7,646.6 C306.7,650.7 298.4,655.6 293.0,658.9 C287.7,662.2 282.5,664.7 279.4,666.6 C276.3,668.5 275.1,669.7 274.2,670.3" fill="none" stroke="#4a4a4a" stroke-width="1.20"/>
<path d="M257.7,555.4 C261.5,555.9 274.0,556.3 280.4,558.1 C286.8,560.0 291.8,563.6 296.0,566.7 C300.2,569.8 303.1,572.9 305.7,576.8 C308.3,580.7 310.4,585.1 311.7,590.1 C312.9,595.1 313.1,601.4 313.1,606.6 C313.1,611.8 312.9,616.9 311.7,621.3 C310.4,625.7 308.5,629.3 305.8,633.0 C303.1,636.8 299.5,640.1 295.4,643.8 C291.4,647.6 285.9,651.5 281.5,655.6 C277.0,659.7 270.7,666.2 268.5,668.3" fill="none" stroke="#7c7c7c" stroke-width="1.05"/>
<path d="M256.6,561.1 C259.8,561.4 269.6,561.6 275.3,563.0 C280.9,564.5 286.4,566.8 290.8,569.8 C295.2,572.9 299.2,577.3 301.7,581.3 C304.3,585.3 305.1,589.6 306.0,593.8 C306.8,598.0 307.1,602.0 306.9,606.6 C306.7,611.1 306.3,616.9 304.9,621.3 C303.6,625.7 301.6,629.1 298.7,633.0 C295.8,637.0 291.4,640.9 287.5,644.8 C283.5,648.7 278.6,652.8 275.0,656.6 C271.3,660.3 267.3,665.5 265.7,667.3" fill="none" stroke="#7c7c7c" stroke-width="1.05"/>
<path d="M301.3,599.7 C301.3,602.0 301.8,609.5 301.4,613.4 C301.0,617.4 300.4,619.6 298.8,623.2 C297.2,626.8 294.7,631.1 291.8,635.0 C288.9,638.9 284.9,643.0 281.5,646.8 C278.0,650.5 274.1,654.1 271.1,657.5 C268.1,661.0 264.7,665.7 263.4,667.3" fill="none" stroke="#9a9a9a" stroke-width="1.00"/>
<path d="M253.0,566.0 C255.0,566.4 260.1,566.7 264.7,568.2 C269.3,569.8 276.2,572.4 280.4,575.1 C284.7,577.8 287.7,580.6 290.0,584.2 C292.4,587.9 293.9,592.4 294.6,597.0 C295.3,601.5 294.7,608.1 294.3,611.5 C293.9,614.9 293.7,614.7 292.2,617.4 C290.8,620.0 288.5,623.0 285.6,627.6 C282.7,632.2 278.1,638.3 275.0,645.0 C271.8,651.7 268.1,663.9 266.8,667.7" fill="none" stroke="#3a3a3a" stroke-width="2.00"/>
<path d="M252.7,564.8 C254.4,564.7 260.0,566.0 262.9,566.7 C265.7,567.4 270.1,568.6 270.1,569.1 C270.1,569.6 265.7,570.0 262.9,569.7 C260.0,569.4 254.4,568.2 252.7,567.4 C251.0,566.5 251.0,564.9 252.7,564.8 Z" fill="#333"/>
<path d="M279.0,580.7 C279.6,580.9 283.0,584.4 284.6,587.0 C286.1,589.5 287.4,592.5 288.3,595.8 C289.2,599.1 289.7,603.1 290.2,606.6 C290.6,610.0 290.9,614.7 290.8,616.4 C290.6,618.0 289.6,618.3 289.1,616.4 C288.7,614.4 288.7,608.4 288.1,604.6 C287.5,600.9 286.6,597.0 285.4,593.8 C284.2,590.6 282.0,587.7 280.9,585.5 C279.9,583.3 278.4,580.4 279.0,580.7 Z" fill="#505050"/>
<path d="M279.0,580.7 C279.5,582.2 281.2,586.4 282.0,589.9 C282.8,593.4 283.4,597.7 283.7,601.7 C284.1,605.6 284.5,609.5 284.1,613.4 C283.6,617.4 282.8,620.9 280.9,625.2 C279.1,629.4 276.0,633.9 273.2,638.9 C270.4,644.0 266.6,650.8 264.4,655.6 C262.2,660.3 260.5,665.4 259.8,667.3" fill="none" stroke="#7c7c7c" stroke-width="1.05"/>
<path d="M256.6,571.3 C255.3,570.7 251.5,568.8 248.4,567.9 C245.3,566.9 241.5,566.1 238.0,565.4 C234.6,564.7 229.4,564.2 227.7,563.9" fill="none" stroke="#7c7c7c" stroke-width="1.05"/>
<path d="M245.3,562.3 C243.7,561.8 238.6,561.5 236.0,561.7 C233.3,561.8 229.2,562.5 229.2,563.0 C229.2,563.6 233.3,564.5 236.0,564.7 C238.6,564.9 243.7,564.8 245.3,564.4 C246.8,564.0 246.8,562.7 245.3,562.3 Z" fill="#6a6a6a"/>
<path d="M275.3,582.1 C273.9,581.2 270.4,578.6 267.0,577.2 C263.5,575.7 258.7,574.1 254.6,573.2 C250.4,572.4 244.2,572.4 242.2,572.3" fill="none" stroke="#9a9a9a" stroke-width="1.00"/>
<path d="M276.3,587.9 C276.0,590.2 275.4,596.6 274.2,601.7 C273.0,606.7 271.3,612.8 269.1,618.3 C266.8,623.9 263.2,629.6 260.8,635.0 C258.4,640.4 256.1,645.8 254.6,650.7 C253.0,655.6 252.0,662.1 251.5,664.4" fill="none" stroke="#9a9a9a" stroke-width="1.00"/>
<path d="M271.1,583.0 C270.8,585.8 270.3,594.3 269.1,599.7 C267.9,605.1 266.0,610.2 263.9,615.4 C261.8,620.6 259.2,625.8 256.6,631.1 C254.1,636.3 250.4,641.9 248.4,646.8 C246.3,651.7 244.9,658.2 244.2,660.5" fill="none" stroke="#9a9a9a" stroke-width="1.00"/>
<path d="M230.2,560.0 C227.9,558.3 223.3,557.6 219.4,558.3 C215.5,559.1 208.4,561.8 206.8,564.4 C205.3,567.1 209.1,571.2 210.1,574.2 C211.2,577.2 211.0,581.2 213.2,582.5 C215.5,583.7 220.2,582.2 223.6,581.6 C226.9,581.0 231.5,580.9 233.2,578.7 C234.8,576.5 233.9,571.5 233.4,568.3 C232.9,565.2 232.5,561.7 230.2,560.0 Z" fill="none" stroke="#7c7c7c" stroke-width="1.05"/>
<path d="M227.7,568.3 C226.0,568.2 220.9,567.0 217.4,567.4 C213.9,567.7 208.5,569.8 206.7,570.3" fill="none" stroke="#9a9a9a" stroke-width="1.00"/>
<path d="M251.5,586.0 C250.0,584.4 246.1,583.7 243.2,583.5 C240.3,583.4 235.7,583.3 233.9,585.0 C232.1,586.7 232.0,590.7 232.6,593.8 C233.1,596.9 235.3,601.0 237.0,603.6 C238.7,606.2 240.8,609.8 242.7,609.5 C244.6,609.2 246.8,604.4 248.4,601.7 C249.9,598.9 251.5,595.5 252.0,592.8 C252.5,590.2 252.9,587.5 251.5,586.0 Z" fill="none" stroke="#7c7c7c" stroke-width="1.05"/>
<path d="M264.9,580.1 C264.1,582.9 261.5,591.5 259.8,596.8 C258.0,602.0 256.5,607.1 254.6,611.5 C252.7,615.9 250.4,619.6 248.4,623.2 C246.3,626.8 243.2,631.4 242.2,633.0" fill="none" stroke="#7c7c7c" stroke-width="1.05"/>
<path d="M256.6,577.2 C254.9,577.5 250.4,578.6 246.3,579.1 C242.2,579.7 236.7,579.6 231.8,580.6 C227.0,581.6 219.8,584.3 217.4,585.0" fill="none" stroke="#9a9a9a" stroke-width="1.00"/>
<path d="M231.8,601.7 C231.1,603.6 229.1,609.2 227.7,613.4 C226.3,617.7 224.9,622.6 223.6,627.2 C222.2,631.7 221.1,637.3 219.4,640.9 C217.7,644.5 214.3,647.4 213.2,648.7" fill="none" stroke="#7c7c7c" stroke-width="1.05"/>
<path d="M258.7,601.7 C258.7,602.7 259.0,603.9 259.5,604.9 C260.0,605.8 260.7,606.7 261.6,607.2 C262.4,607.7 263.5,608.0 264.4,608.0 C265.4,608.0 266.4,607.7 267.2,607.2 C268.1,606.7 268.9,605.8 269.3,604.9 C269.8,603.9 270.1,602.7 270.1,601.7 C270.1,600.6 269.8,599.4 269.3,598.5 C268.9,597.6 268.1,596.7 267.2,596.2 C266.4,595.6 265.4,595.3 264.4,595.3 C263.5,595.3 262.4,595.6 261.6,596.2 C260.7,596.7 260.0,597.6 259.5,598.5 C259.0,599.4 258.7,600.6 258.7,601.7 Z" fill="none" stroke="#9a9a9a" stroke-width="1.00"/>
<path d="M261.8,614.4 C261.8,615.2 262.1,616.2 262.5,616.9 C262.9,617.6 263.7,618.2 264.4,618.7 C265.2,619.1 266.1,619.3 267.0,619.3 C267.9,619.3 268.8,619.1 269.6,618.7 C270.3,618.2 271.0,617.6 271.5,616.9 C271.9,616.2 272.2,615.2 272.2,614.4 C272.2,613.6 271.9,612.7 271.5,612.0 C271.0,611.3 270.3,610.6 269.6,610.2 C268.8,609.8 267.9,609.5 267.0,609.5 C266.1,609.5 265.2,609.8 264.4,610.2 C263.7,610.6 262.9,611.3 262.5,612.0 C262.1,612.7 261.8,613.6 261.8,614.4 Z" fill="none" stroke="#9a9a9a" stroke-width="1.00"/>
<path d="M254.6,591.9 C254.6,592.6 254.9,593.5 255.4,594.2 C255.8,594.8 256.7,595.4 257.4,595.6 C258.2,595.8 259.2,595.8 260.0,595.6 C260.8,595.4 261.6,594.8 262.1,594.2 C262.5,593.5 262.9,592.6 262.9,591.9 C262.9,591.1 262.5,590.2 262.1,589.6 C261.6,588.9 260.8,588.4 260.0,588.1 C259.2,587.9 258.2,587.9 257.4,588.1 C256.7,588.4 255.8,588.9 255.4,589.6 C254.9,590.2 254.6,591.1 254.6,591.9 Z" fill="none" stroke="#9a9a9a" stroke-width="1.00"/>
<path d="M206.5,587.2 C207.8,587.2 211.8,587.2 214.3,587.6 C216.8,587.9 219.7,588.3 221.5,589.2 C223.3,590.2 224.4,591.9 225.2,593.3 C226.0,594.8 226.2,597.0 226.5,597.7" fill="none" stroke="#7c7c7c" stroke-width="1.05"/>
<path d="M217.4,592.2 L206.5,592.2" fill="none" stroke="#5a5a5a" stroke-width="1.20"/>
<path d="M206.5,592.2 L206.5,608.5" fill="none" stroke="#444" stroke-width="1.00"/>
<path d="M220.5,601.2 C220.5,602.1 220.6,603.1 220.9,603.9 C221.2,604.7 221.6,605.5 222.1,605.9 C222.6,606.4 223.2,606.7 223.8,606.7 C224.3,606.7 224.9,606.4 225.4,605.9 C225.9,605.5 226.4,604.7 226.6,603.9 C226.9,603.1 227.1,602.1 227.1,601.2 C227.1,600.3 226.9,599.2 226.6,598.4 C226.4,597.6 225.9,596.9 225.4,596.4 C224.9,596.0 224.3,595.7 223.8,595.7 C223.2,595.7 222.6,596.0 222.1,596.4 C221.6,596.9 221.2,597.6 220.9,598.4 C220.6,599.2 220.5,600.3 220.5,601.2 Z" fill="none" stroke="#7c7c7c" stroke-width="1.05"/>
<path d="M217.4,611.5 C216.2,611.6 214.4,612.8 213.7,614.4 C213.1,616.0 213.0,619.3 213.4,621.3 C213.9,623.2 215.2,625.5 216.3,626.2 C217.5,626.8 219.6,626.5 220.5,625.2 C221.4,623.9 221.7,620.3 221.7,618.3 C221.7,616.4 221.2,614.6 220.5,613.4 C219.7,612.3 218.5,611.3 217.4,611.5 Z" fill="none" stroke="#7c7c7c" stroke-width="1.05"/>
<path d="M218.9,614.9 C218.4,614.9 216.8,616.1 216.5,617.4 C216.2,618.6 216.6,621.6 217.0,622.3 C217.5,622.9 218.7,622.1 219.1,621.3 C219.5,620.5 219.7,618.4 219.6,617.4 C219.6,616.3 219.4,614.9 218.9,614.9 Z" fill="none" stroke="#9a9a9a" stroke-width="0.80"/>
<path d="M216.1,635.5 C216.1,636.4 216.3,637.4 216.5,638.2 C216.8,639.0 217.2,639.7 217.7,640.2 C218.1,640.6 218.7,640.9 219.2,640.9 C219.7,640.9 220.3,640.6 220.8,640.2 C221.2,639.7 221.6,639.0 221.9,638.2 C222.2,637.4 222.3,636.4 222.3,635.5 C222.3,634.6 222.2,633.6 221.9,632.8 C221.6,632.0 221.2,631.3 220.8,630.8 C220.3,630.4 219.7,630.1 219.2,630.1 C218.7,630.1 218.1,630.4 217.7,630.8 C217.2,631.3 216.8,632.0 216.5,632.8 C216.3,633.6 216.1,634.6 216.1,635.5 Z" fill="none" stroke="#7c7c7c" stroke-width="1.05"/>
<path d="M222.4,630.0 C222.5,630.4 223.0,630.9 223.6,631.1 C224.2,631.4 225.1,631.5 225.9,631.4 C226.8,631.4 227.9,631.2 228.8,630.9 C229.6,630.6 230.6,630.1 231.3,629.6 C232.0,629.1 232.6,628.5 232.9,627.9 C233.1,627.4 233.2,626.7 233.0,626.3 C232.9,625.8 232.4,625.4 231.8,625.2 C231.2,624.9 230.3,624.8 229.5,624.8 C228.6,624.9 227.5,625.1 226.6,625.4 C225.7,625.7 224.8,626.2 224.1,626.7 C223.4,627.2 222.8,627.8 222.5,628.3 C222.2,628.9 222.2,629.5 222.4,630.0 Z" fill="none" stroke="#9a9a9a" stroke-width="1.00"/>
<rect x="204.3" y="627.9" width="4.3" height="4.5" fill="#9a9a9a"/>
<circle cx="211.8" cy="643.2" r="0.90" fill="#666"/>
<path d="M243.2,632.9 C243.5,633.4 244.1,633.7 244.9,633.7 C245.8,633.8 246.9,633.7 248.1,633.4 C249.4,633.1 250.9,632.6 252.3,632.0 C253.8,631.4 255.4,630.5 256.9,629.7 C258.3,628.8 259.8,627.8 261.1,626.8 C262.3,625.8 263.4,624.8 264.3,623.9 C265.1,622.9 265.7,622.0 266.0,621.3 C266.3,620.5 266.3,619.9 266.0,619.4 C265.7,619.0 265.1,618.7 264.2,618.6 C263.4,618.5 262.3,618.6 261.0,618.9 C259.8,619.2 258.3,619.7 256.8,620.4 C255.4,621.0 253.7,621.8 252.3,622.7 C250.8,623.5 249.3,624.6 248.1,625.5 C246.9,626.5 245.7,627.6 244.9,628.5 C244.1,629.4 243.5,630.3 243.2,631.1 C242.9,631.8 242.9,632.5 243.2,632.9 Z" fill="none" stroke="#7c7c7c" stroke-width="1.05"/>
<path d="M234.7,644.3 C234.9,644.7 235.5,645.0 236.3,645.1 C237.2,645.2 238.3,645.1 239.5,644.8 C240.8,644.6 242.3,644.1 243.8,643.5 C245.2,642.9 246.9,642.1 248.4,641.3 C249.9,640.5 251.4,639.6 252.7,638.6 C253.9,637.7 255.1,636.7 256.0,635.8 C256.9,634.9 257.5,634.1 257.9,633.3 C258.2,632.6 258.2,632.0 258.0,631.6 C257.7,631.1 257.1,630.8 256.3,630.7 C255.5,630.7 254.3,630.8 253.1,631.0 C251.8,631.3 250.3,631.8 248.9,632.4 C247.4,632.9 245.7,633.7 244.2,634.5 C242.8,635.4 241.2,636.3 239.9,637.2 C238.7,638.2 237.5,639.2 236.6,640.0 C235.8,640.9 235.1,641.8 234.8,642.5 C234.4,643.2 234.4,643.9 234.7,644.3 Z" fill="none" stroke="#7c7c7c" stroke-width="1.05"/>
<path d="M250.7,649.7 C251.0,650.1 251.6,650.4 252.4,650.4 C253.2,650.4 254.2,650.2 255.3,649.9 C256.4,649.5 257.8,648.9 259.1,648.3 C260.4,647.6 261.8,646.7 263.1,645.8 C264.4,645.0 265.7,643.9 266.8,643.0 C267.8,642.0 268.8,641.0 269.5,640.1 C270.2,639.2 270.7,638.3 270.9,637.6 C271.2,636.9 271.1,636.3 270.8,635.9 C270.5,635.5 269.9,635.3 269.2,635.3 C268.4,635.3 267.4,635.5 266.3,635.8 C265.1,636.2 263.8,636.7 262.5,637.4 C261.2,638.1 259.8,638.9 258.5,639.8 C257.2,640.7 255.9,641.7 254.8,642.7 C253.7,643.7 252.8,644.7 252.1,645.6 C251.4,646.5 250.8,647.4 250.6,648.1 C250.4,648.8 250.5,649.4 250.7,649.7 Z" fill="none" stroke="#7c7c7c" stroke-width="1.05"/>
<path d="M233.4,625.0 C233.8,625.2 234.5,625.3 235.1,625.2 C235.8,625.0 236.5,624.7 237.3,624.1 C238.0,623.6 238.8,622.9 239.6,622.1 C240.3,621.3 241.0,620.3 241.6,619.3 C242.2,618.3 242.8,617.2 243.1,616.2 C243.5,615.2 243.8,614.2 243.9,613.3 C244.0,612.5 243.9,611.6 243.7,611.0 C243.5,610.4 243.1,610.0 242.7,609.7 C242.2,609.5 241.6,609.4 241.0,609.5 C240.3,609.7 239.5,610.1 238.8,610.6 C238.1,611.1 237.2,611.8 236.5,612.6 C235.8,613.4 235.0,614.4 234.5,615.4 C233.9,616.4 233.3,617.5 232.9,618.5 C232.6,619.5 232.3,620.5 232.2,621.4 C232.1,622.2 232.2,623.1 232.4,623.7 C232.6,624.3 232.9,624.7 233.4,625.0 Z" fill="none" stroke="#9a9a9a" stroke-width="1.00"/>
<path d="M264.9,613.4 C263.2,614.1 258.9,614.7 254.6,617.4 C250.3,620.0 243.6,625.2 239.1,629.1 C234.6,633.0 230.6,637.3 227.7,640.9 C224.8,644.5 222.5,649.0 221.5,650.7" fill="none" stroke="#7c7c7c" stroke-width="1.05"/>
<path d="M271.1,619.3 C269.4,621.4 264.6,627.5 260.8,632.1 C257.0,636.6 252.2,642.7 248.4,646.8 C244.6,650.8 239.8,654.9 238.0,656.6" fill="none" stroke="#9a9a9a" stroke-width="1.00"/>
<path d="M273.2,640.9 C271.8,642.8 267.7,649.4 264.9,652.6 C262.2,655.9 259.4,658.5 256.6,660.5 C253.9,662.4 249.8,663.7 248.4,664.4" fill="none" stroke="#9a9a9a" stroke-width="1.00"/>
<path d="M248.7,656.9 C248.9,657.6 249.4,658.2 250.2,658.7 C250.9,659.2 252.0,659.6 253.1,659.7 C254.3,659.9 255.7,659.9 257.0,659.7 C258.3,659.6 259.8,659.2 261.0,658.7 C262.2,658.2 263.4,657.6 264.3,656.9 C265.2,656.2 266.0,655.4 266.4,654.6 C266.8,653.8 266.9,653.0 266.7,652.3 C266.5,651.6 265.9,651.0 265.2,650.5 C264.5,650.0 263.4,649.6 262.2,649.5 C261.1,649.3 259.7,649.3 258.4,649.5 C257.1,649.6 255.6,650.0 254.4,650.5 C253.2,651.0 251.9,651.6 251.0,652.3 C250.1,653.0 249.4,653.8 249.0,654.6 C248.6,655.4 248.5,656.2 248.7,656.9 Z" fill="none" stroke="#7c7c7c" stroke-width="1.05"/>
<path d="M206.5,651.5 C209.0,651.7 217.3,652.1 221.5,653.1 C225.7,654.1 229.3,655.7 231.8,657.5 C234.3,659.4 235.5,662.2 236.5,664.4 C237.5,666.6 237.8,669.7 238.0,670.8" fill="none" stroke="#5a5a5a" stroke-width="1.05"/>
<path d="M206.5,657.0 C208.7,657.2 215.9,657.3 219.4,658.0 C223.0,658.8 225.6,660.1 227.7,661.5 C229.8,662.8 231.1,665.5 231.8,666.4" fill="none" stroke="#7c7c7c" stroke-width="1.05"/>
<path d="M225.1,663.9 L224.3,672.7" fill="none" stroke="#808080" stroke-width="0.90"/>
<path d="M217.9,663.9 L217.0,672.7" fill="none" stroke="#808080" stroke-width="0.90"/>
<path d="M211.7,663.9 L210.8,672.7" fill="none" stroke="#808080" stroke-width="0.90"/>
<path d="M309.8,667.7 C308.8,665.5 304.1,665.5 300.1,665.0 C296.0,664.4 289.9,663.8 285.6,664.4 C281.3,665.0 276.4,666.6 274.2,668.3 C272.0,670.0 271.2,672.7 272.4,674.7 C273.6,676.7 277.5,678.7 281.5,680.1 C285.4,681.5 291.8,683.3 295.9,683.0 C300.1,682.8 304.0,681.2 306.3,678.6 C308.6,676.1 310.8,670.0 309.8,667.7 Z" fill="none" stroke="#7c7c7c" stroke-width="1.05"/>
<path d="M312.5,652.6 C311.3,653.0 308.0,653.3 305.2,654.6 C302.5,655.9 298.4,658.2 295.9,660.5 C293.5,662.8 291.6,667.0 290.8,668.3" fill="none" stroke="#9a9a9a" stroke-width="1.00"/>
<path d="M303.2,663.4 C302.7,664.6 300.6,667.5 300.1,670.3 C299.6,673.1 300.1,678.4 300.1,680.1" fill="none" stroke="#9a9a9a" stroke-width="1.00"/>
<path d="M289.6,660.8 C289.8,661.3 290.4,661.7 291.2,661.9 C291.9,662.2 293.0,662.3 294.1,662.2 C295.2,662.1 296.6,661.8 297.8,661.3 C299.1,660.9 300.5,660.3 301.6,659.7 C302.7,659.0 303.8,658.2 304.6,657.5 C305.4,656.8 306.1,655.9 306.4,655.2 C306.7,654.5 306.7,653.8 306.4,653.3 C306.2,652.8 305.6,652.4 304.8,652.1 C304.1,651.9 303.0,651.8 301.9,651.9 C300.8,652.0 299.4,652.3 298.2,652.8 C296.9,653.2 295.6,653.8 294.4,654.4 C293.3,655.1 292.2,655.9 291.4,656.6 C290.6,657.3 290.0,658.2 289.7,658.9 C289.4,659.6 289.3,660.3 289.6,660.8 Z" fill="none" stroke="#9a9a9a" stroke-width="1.00"/>
<path d="M285.6,664.4 C285.1,665.7 282.7,669.3 282.5,672.2 C282.3,675.2 284.2,680.4 284.6,682.0" fill="none" stroke="#9a9a9a" stroke-width="1.00"/>
<path d="M321.4,631.1 C321.3,632.9 320.0,635.8 318.7,637.9 C317.4,640.1 315.6,641.9 313.5,643.8 C311.5,645.7 308.0,648.1 306.3,649.2 C304.6,650.3 302.8,650.8 303.2,650.2 C303.5,649.5 306.5,647.2 308.3,645.3 C310.2,643.4 312.5,641.0 314.0,638.9 C315.6,636.8 316.8,634.5 317.7,632.5 C318.5,630.6 318.6,627.4 319.2,627.2 C319.8,626.9 321.5,629.3 321.4,631.1 Z" fill="#1e1e1e"/>
<path d="M319.2,623.2 C319.3,624.4 318.3,627.2 317.1,629.1 C316.0,631.0 314.3,632.8 312.5,634.5 C310.7,636.2 307.0,639.3 306.3,639.4 C305.6,639.5 307.1,636.7 308.3,635.0 C309.6,633.3 312.1,631.2 313.5,629.1 C314.9,627.0 315.7,623.2 316.6,622.3 C317.6,621.3 319.1,622.1 319.2,623.2 Z" fill="#777"/>
<circle cx="106.0" cy="587.0" r="1.85" fill="#0a0a0a"/>
<circle cx="117.0" cy="586.5" r="1.85" fill="#0a0a0a"/>
<circle cx="121.1" cy="593.8" r="1.85" fill="#0a0a0a"/>
<circle cx="108.3" cy="599.3" r="1.85" fill="#0a0a0a"/>
<circle cx="116.2" cy="603.1" r="1.85" fill="#0a0a0a"/>
<circle cx="110.0" cy="611.5" r="1.85" fill="#0a0a0a"/>
<circle cx="122.3" cy="611.5" r="1.85" fill="#0a0a0a"/>
<circle cx="130.5" cy="601.6" r="1.85" fill="#0a0a0a"/>
<circle cx="288.7" cy="578.0" r="1.85" fill="#0a0a0a"/>
<circle cx="288.7" cy="587.2" r="1.85" fill="#0a0a0a"/>
<circle cx="279.0" cy="590.7" r="1.85" fill="#0a0a0a"/>
<circle cx="285.6" cy="598.0" r="1.85" fill="#0a0a0a"/>
<circle cx="285.2" cy="604.6" r="1.85" fill="#0a0a0a"/>
<circle cx="290.7" cy="607.0" r="1.85" fill="#0a0a0a"/>
<circle cx="299.6" cy="605.4" r="1.85" fill="#0a0a0a"/>
</g>
<g>
<path d="M525.2,519.1 C524.3,518.1 521.9,515.0 519.6,513.2 C517.3,511.3 514.7,509.3 511.5,508.2 C508.3,507.0 505.9,506.4 500.4,506.3 C494.8,506.2 486.4,506.1 478.1,507.3 C469.7,508.5 458.7,510.4 450.1,513.4 C441.5,516.3 434.1,519.9 426.5,524.9 C419.0,529.9 410.5,537.7 404.9,543.6 C399.2,549.5 395.9,554.1 392.4,560.3 C388.9,566.5 385.9,574.6 383.9,580.9 C381.9,587.2 380.9,593.0 380.3,598.2 C379.7,603.5 379.5,606.3 380.1,612.6 C380.7,618.8 382.0,629.3 383.9,635.7 C385.7,642.2 387.9,646.0 391.1,651.2 C394.2,656.3 398.8,662.3 402.9,666.6 C407.1,670.9 411.2,674.4 416.0,676.9 C420.8,679.5 426.9,681.2 431.7,681.9 C436.5,682.6 441.2,682.0 444.9,681.2 C448.6,680.4 450.6,679.3 453.7,677.3 C456.8,675.4 460.1,671.4 463.4,669.4 C466.6,667.3 469.8,665.9 473.0,664.9 C476.1,663.9 479.4,663.5 482.3,663.5 C485.3,663.5 488.6,663.8 490.7,664.8 C492.9,665.8 493.3,667.9 495.3,669.4 C497.2,670.8 499.0,672.2 502.4,673.3 C505.8,674.5 512.1,675.5 515.9,676.1 C519.7,676.7 523.6,676.7 525.2,676.8" fill="none" stroke="#6e6e6e" stroke-width="1.15"/>
<path d="M475.2,507.5 L477.0,541.7" fill="none" stroke="#8a8a8a" stroke-width="0.90"/>
<path d="M485.2,506.6 L486.0,532.2" fill="none" stroke="#8a8a8a" stroke-width="0.90"/>
<path d="M497.8,506.4 L497.5,530.2" fill="none" stroke="#8a8a8a" stroke-width="0.90"/>
<path d="M450.1,513.4 L458.8,550.2" fill="none" stroke="#8a8a8a" stroke-width="0.90"/>
<path d="M426.5,524.9 L447.2,554.4" fill="none" stroke="#8a8a8a" stroke-width="0.90"/>
<path d="M404.9,543.6 L428.1,563.5" fill="none" stroke="#8a8a8a" stroke-width="0.90"/>
<path d="M392.4,560.3 L417.0,575.3" fill="none" stroke="#8a8a8a" stroke-width="0.90"/>
<path d="M383.4,584.8 L410.7,590.3" fill="none" stroke="#8a8a8a" stroke-width="0.90"/>
<path d="M380.3,598.2 L408.7,598.8" fill="none" stroke="#8a8a8a" stroke-width="0.90"/>
<path d="M380.2,607.4 L407.5,608.1" fill="none" stroke="#8a8a8a" stroke-width="0.90"/>
<path d="M381.3,617.7 L407.3,617.0" fill="none" stroke="#8a8a8a" stroke-width="0.90"/>
<path d="M383.3,627.4 L408.0,624.1" fill="none" stroke="#8a8a8a" stroke-width="0.90"/>
<path d="M389.1,646.8 L412.8,638.2" fill="none" stroke="#8a8a8a" stroke-width="0.90"/>
<path d="M402.9,666.6 L422.6,650.9" fill="none" stroke="#8a8a8a" stroke-width="0.90"/>
<path d="M416.0,676.9 L431.1,658.7" fill="none" stroke="#8a8a8a" stroke-width="0.90"/>
<path d="M498.2,530.2 L510.5,519.6 L518.4,512.7" fill="none" stroke="#7c7c7c" stroke-width="0.90"/>
<path d="M501.1,539.8 L522.7,541.2" fill="none" stroke="#b0b0b0" stroke-width="0.90"/>
<path d="M525.1,519.1 C525.1,520.9 524.7,525.7 524.9,529.6 C525.1,533.5 526.7,538.7 526.2,542.5 C525.8,546.3 522.0,549.3 522.2,552.5 C522.3,555.6 526.5,559.9 527.3,561.4" fill="none" stroke="#7c7c7c" stroke-width="0.90"/>
<path d="M467.9,538.5 C469.6,537.6 474.3,534.1 478.1,533.1 C481.8,532.0 487.1,531.7 490.2,532.1 C493.3,532.5 495.6,533.6 496.8,535.5 C498.0,537.5 497.6,541.0 497.6,543.5 C497.6,546.0 496.9,549.3 496.8,550.5" fill="none" stroke="#5a5a5a" stroke-width="1.00"/>
<path d="M471.0,541.5 C472.5,540.8 477.0,537.9 480.1,537.0 C483.1,536.2 486.9,536.1 489.2,536.5 C491.5,537.0 492.9,538.0 493.8,539.5 C494.6,541.0 494.5,543.5 494.3,545.5 C494.0,547.5 492.6,550.5 492.2,551.5" fill="none" stroke="#9a9a9a" stroke-width="0.90"/>
<path d="M457.8,540.0 C459.8,539.9 465.9,539.1 469.9,539.3 C474.0,539.6 478.7,540.2 482.1,541.5 C485.5,542.8 487.7,545.3 490.2,547.0 C492.8,548.7 495.0,550.3 497.3,552.0 C499.7,553.6 503.2,556.1 504.4,556.9" fill="none" stroke="#a8a8a8" stroke-width="2.20"/>
<path d="M476.0,567.4 C477.4,566.8 481.1,564.9 484.1,563.9 C487.2,562.9 490.9,562.1 494.3,561.4 C497.7,560.8 502.7,560.2 504.4,559.9" fill="none" stroke="#7c7c7c" stroke-width="1.05"/>
<path d="M487.2,558.2 C488.7,557.8 493.7,557.5 496.3,557.6 C498.9,557.8 502.9,558.5 502.9,559.0 C502.9,559.5 498.9,560.5 496.3,560.7 C493.7,561.0 488.7,560.8 487.2,560.4 C485.7,560.0 485.7,558.7 487.2,558.2 Z" fill="#6a6a6a"/>
<path d="M457.8,578.3 C459.1,577.5 462.5,574.8 465.9,573.4 C469.3,571.9 474.0,570.2 478.1,569.4 C482.1,568.5 488.2,568.5 490.2,568.4" fill="none" stroke="#9a9a9a" stroke-width="1.00"/>
<path d="M423.9,665.3 C424.9,663.0 429.5,663.1 433.4,662.5 C437.4,661.9 443.4,661.3 447.6,661.9 C451.9,662.5 456.6,664.1 458.8,665.9 C461.0,667.6 461.8,670.4 460.6,672.3 C459.4,674.3 455.5,676.4 451.7,677.8 C447.8,679.2 441.6,681.1 437.5,680.8 C433.4,680.6 429.6,678.9 427.4,676.3 C425.1,673.7 422.9,667.6 423.9,665.3 Z" fill="none" stroke="#7c7c7c" stroke-width="1.05"/>
<path d="M421.3,650.0 C422.5,650.3 425.7,650.6 428.4,652.0 C431.1,653.3 435.1,655.6 437.5,657.9 C439.9,660.2 441.7,664.6 442.6,665.9" fill="none" stroke="#9a9a9a" stroke-width="1.00"/>
<path d="M430.4,660.9 C430.9,662.1 432.9,665.1 433.4,667.9 C434.0,670.7 433.4,676.2 433.4,677.8" fill="none" stroke="#9a9a9a" stroke-width="1.00"/>
<path d="M443.7,658.2 C443.5,658.7 442.9,659.2 442.2,659.4 C441.4,659.6 440.4,659.7 439.3,659.6 C438.2,659.5 436.9,659.2 435.6,658.8 C434.4,658.4 433.1,657.8 432.0,657.1 C430.8,656.5 429.8,655.7 429.0,654.9 C428.2,654.1 427.6,653.3 427.3,652.6 C427.0,651.9 427.0,651.2 427.2,650.7 C427.4,650.1 428.0,649.7 428.8,649.5 C429.5,649.2 430.6,649.2 431.7,649.3 C432.7,649.4 434.1,649.7 435.3,650.1 C436.5,650.5 437.9,651.1 439.0,651.8 C440.1,652.4 441.2,653.2 442.0,654.0 C442.7,654.7 443.4,655.6 443.7,656.3 C444.0,657.0 444.0,657.7 443.7,658.2 Z" fill="none" stroke="#9a9a9a" stroke-width="1.00"/>
<path d="M447.6,661.9 C448.1,663.2 450.5,666.9 450.7,669.9 C450.8,672.8 449.0,678.2 448.7,679.8" fill="none" stroke="#9a9a9a" stroke-width="1.00"/>
<path d="M485.0,539.5 C483.2,540.0 477.2,541.3 474.0,542.5 C470.8,543.7 468.9,545.0 466.0,546.5 C463.1,548.0 462.1,549.1 456.5,551.3 C450.9,553.4 438.6,555.6 432.1,559.4 C425.6,563.2 421.3,568.4 417.5,574.1 C413.7,579.8 411.1,587.1 409.3,593.6 C407.5,600.1 407.0,607.2 406.9,613.2 C406.8,619.2 407.0,624.4 408.5,629.5 C410.0,634.6 412.4,639.5 415.8,644.1 C419.2,648.7 424.0,653.0 428.9,657.1 C433.8,661.2 440.8,665.8 445.1,668.6 C449.5,671.4 453.4,673.1 455.0,674.0" fill="none" stroke="#7c7c7c" stroke-width="1.00"/>
<path d="M485.6,541.6 C483.8,542.1 477.9,543.4 474.8,544.6 C471.7,545.7 469.9,547.0 467.0,548.5 C464.1,549.9 462.9,551.2 457.3,553.4 C451.7,555.5 439.5,557.6 433.2,561.3 C426.9,565.0 423.0,569.8 419.3,575.3 C415.7,580.8 413.1,587.9 411.4,594.2 C409.7,600.5 409.2,607.5 409.1,613.2 C409.0,619.0 409.2,624.0 410.6,628.9 C412.0,633.8 414.3,638.4 417.6,642.8 C420.9,647.2 425.5,651.4 430.3,655.4 C435.1,659.4 442.0,664.0 446.3,666.8 C450.6,669.5 454.4,671.2 456.1,672.1" fill="none" stroke="#b8b8b8" stroke-width="3.00"/>
<path d="M460.0,553.8 C457.0,554.7 447.1,556.8 441.9,559.4 C436.7,562.0 432.7,565.1 428.9,569.2 C425.1,573.3 421.8,578.2 419.1,583.9 C416.4,589.6 413.7,597.4 412.6,603.4 C411.5,609.4 411.8,614.6 412.6,619.7 C413.4,624.9 415.1,629.7 417.5,634.3 C419.9,638.9 423.1,643.3 427.2,647.4 C431.3,651.5 437.0,655.0 441.9,658.8 C446.8,662.6 454.1,668.3 456.5,670.2" fill="none" stroke="#3c3c3c" stroke-width="2.00"/>
<path d="M460.8,556.5 C457.9,557.4 448.1,559.5 443.1,561.9 C438.2,564.3 434.5,567.2 430.9,571.1 C427.4,575.0 424.2,579.6 421.6,585.1 C419.0,590.6 416.4,598.2 415.4,603.9 C414.3,609.6 414.6,614.4 415.4,619.3 C416.1,624.1 417.7,628.6 420.0,633.0 C422.3,637.4 427.6,643.4 429.2,645.4" fill="none" stroke="#6a6a6a" stroke-width="0.90"/>
<path d="M417.5,634.3 C419.2,637.9 423.1,643.3 427.2,647.4 C431.3,651.5 437.0,655.0 441.9,658.8 C446.8,662.6 453.5,668.2 456.5,670.2 C459.5,672.2 461.2,672.4 459.8,670.6 C458.4,668.8 452.8,663.4 448.4,659.3 C444.0,655.2 438.0,650.6 433.7,646.2 C429.4,641.9 425.1,636.6 422.3,633.2 C419.5,629.8 417.6,625.8 416.8,626.0 C416.0,626.2 415.8,630.7 417.5,634.3 Z" fill="#606060"/>
<path d="M416.8,626.0 C417.7,627.2 419.5,629.8 422.3,633.2 C425.1,636.6 429.4,641.9 433.7,646.2 C438.0,650.6 444.0,655.2 448.4,659.3 C452.8,663.4 457.9,668.7 459.8,670.6" fill="none" stroke="#444" stroke-width="1.00"/>
<path d="M415.4,635.8 C417.1,638.1 421.2,645.1 425.4,649.2 C429.5,653.4 435.4,657.0 440.3,660.9 C445.2,664.7 452.5,670.3 454.9,672.2" fill="none" stroke="#555" stroke-width="1.00"/>
<path d="M461.5,558.6 C458.6,559.5 448.9,561.5 444.1,563.9 C439.3,566.2 436.0,568.9 432.6,572.6 C429.1,576.3 426.1,580.8 423.6,586.1 C421.1,591.3 418.5,598.8 417.5,604.3 C416.5,609.8 416.8,614.3 417.5,618.9 C418.3,623.5 419.7,627.8 421.9,632.0 C424.1,636.1 426.9,640.1 430.7,643.9 C434.6,647.7 442.6,653.0 445.0,654.9" fill="none" stroke="#7c7c7c" stroke-width="1.05"/>
<path d="M446.3,568.4 C444.7,569.6 439.3,572.7 436.2,576.0 C433.2,579.3 430.4,583.3 428.1,588.2 C425.8,593.1 423.4,600.2 422.4,605.2 C421.5,610.2 421.8,614.1 422.5,618.1 C423.1,622.2 424.4,625.9 426.3,629.6 C428.3,633.3 430.7,636.8 434.3,640.3 C437.9,643.9 445.7,649.1 448.0,650.9" fill="none" stroke="#7c7c7c" stroke-width="1.05"/>
<path d="M439.9,579.4 C438.7,581.2 434.7,585.9 432.6,590.4 C430.6,594.8 428.2,601.6 427.4,606.1 C426.5,610.6 426.8,613.8 427.4,617.4 C428.0,620.9 429.0,624.1 430.8,627.3 C432.5,630.5 436.7,635.2 437.8,636.8" fill="none" stroke="#9a9a9a" stroke-width="1.00"/>
<path d="M474.5,569.2 C472.3,570.3 465.8,573.0 461.4,575.7 C457.0,578.4 451.9,582.2 448.4,585.5 C444.9,588.8 441.9,591.8 440.3,595.3 C438.7,598.8 438.3,603.2 438.6,606.7 C438.9,610.2 440.3,613.1 441.9,616.4 C443.5,619.6 446.2,622.1 448.4,626.2 C450.6,630.3 452.7,635.8 454.9,640.9 C457.1,646.0 459.8,652.2 461.4,657.1 C463.0,662.0 464.1,668.0 464.7,670.2" fill="none" stroke="#333" stroke-width="2.20"/>
<path d="M475.1,568.0 C472.8,568.6 463.6,573.1 461.4,574.1 C459.2,575.1 461.9,573.5 461.9,574.0 C461.9,574.5 459.2,577.7 461.4,577.1 C463.6,576.5 472.8,571.9 475.1,570.4 C477.4,568.9 477.4,567.4 475.1,568.0 Z" fill="#333"/>
<path d="M449.5,587.5 C448.9,589.1 446.3,594.1 445.6,597.0 C444.9,599.9 444.8,602.3 445.1,605.0 C445.4,607.7 446.2,610.3 447.3,613.0 C448.4,615.7 451.0,619.9 451.7,621.3" fill="none" stroke="#3a3a3a" stroke-width="1.80"/>
<path d="M463.5,579.1 C461.5,580.6 454.4,585.4 451.1,588.4 C447.9,591.4 445.4,594.0 443.9,597.0 C442.5,600.0 442.3,603.5 442.6,606.4 C442.8,609.3 443.9,611.6 445.5,614.6 C447.0,617.6 449.7,620.2 451.9,624.3 C454.1,628.4 456.4,634.1 458.6,639.3 C460.8,644.6 463.5,650.9 465.2,655.8 C466.9,660.8 468.0,667.0 468.6,669.2" fill="none" stroke="#9a9a9a" stroke-width="1.00"/>
<path d="M445.3,582.2 C443.8,584.1 438.1,589.3 436.2,593.4 C434.3,597.6 433.8,602.9 434.1,607.0 C434.4,611.2 436.2,614.9 437.9,618.4 C439.6,622.0 442.3,624.3 444.4,628.3 C446.6,632.3 448.6,637.6 450.8,642.6 C452.9,647.7 455.5,653.8 457.1,658.5 C458.7,663.3 459.8,669.2 460.3,671.3" fill="none" stroke="#7c7c7c" stroke-width="1.05"/>
<path d="M481.2,580.7 C482.2,579.2 484.6,574.6 487.0,572.0 C489.4,569.4 492.0,566.8 495.7,565.2 C499.4,563.6 504.4,562.6 509.3,562.3 C514.2,562.0 522.6,563.1 525.2,563.3" fill="none" stroke="#7c7c7c" stroke-width="1.05"/>
<path d="M494.8,582.7 C495.8,581.6 497.5,577.9 500.6,575.9 C503.7,573.9 509.1,571.5 513.2,570.5 C517.3,569.5 523.2,569.8 525.2,569.6" fill="none" stroke="#7c7c7c" stroke-width="1.05"/>
<path d="M503.5,590.4 C504.5,589.1 506.9,584.6 509.3,582.7 C511.7,580.8 515.4,579.5 518.0,578.8 C520.6,578.0 524.0,578.3 525.2,578.2" fill="none" stroke="#7c7c7c" stroke-width="1.05"/>
<path d="M481.2,580.7 C483.0,581.5 488.7,583.7 491.9,585.6 C495.1,587.5 497.7,590.8 500.6,592.4 C503.5,594.0 507.9,594.8 509.3,595.3" fill="none" stroke="#7c7c7c" stroke-width="1.05"/>
<path d="M495.7,565.2 L501.0,573.8" fill="none" stroke="#9a9a9a" stroke-width="1.00"/>
<path d="M509.3,562.3 L512.0,571.0" fill="none" stroke="#9a9a9a" stroke-width="1.00"/>
<path d="M478.0,584.0 C479.8,581.9 484.4,582.4 487.0,583.5 C489.6,584.6 492.6,587.5 493.8,590.4 C495.1,593.3 494.8,597.4 494.5,601.0 C494.2,604.6 493.6,610.0 491.9,611.8 C490.1,613.6 486.3,612.6 484.0,612.0 C481.7,611.4 479.6,610.6 478.3,607.9 C477.0,605.2 476.1,600.0 476.0,596.0 C475.9,592.0 476.2,586.1 478.0,584.0 Z" fill="none" stroke="#7c7c7c" stroke-width="1.05"/>
<path d="M525.2,581.5 C524.2,581.7 520.8,581.8 519.0,582.5 C517.2,583.2 515.4,584.1 514.5,586.0 C513.6,587.9 513.5,591.7 513.5,594.0 C513.5,596.3 514.3,599.0 514.5,600.0" fill="none" stroke="#7c7c7c" stroke-width="1.05"/>
<path d="M519.5,588.5 L525.2,588.5" fill="none" stroke="#5a5a5a" stroke-width="1.10"/>
<path d="M525.2,588.5 L525.2,604.0" fill="none" stroke="#444" stroke-width="1.00"/>
<path d="M516.8,598.5 C516.8,599.2 516.6,600.1 516.4,600.8 C516.1,601.4 515.7,602.0 515.3,602.4 C514.9,602.8 514.3,603.0 513.8,603.0 C513.3,603.0 512.7,602.8 512.3,602.4 C511.9,602.0 511.5,601.4 511.2,600.8 C511.0,600.1 510.8,599.2 510.8,598.5 C510.8,597.8 511.0,596.9 511.2,596.2 C511.5,595.6 511.9,595.0 512.3,594.6 C512.7,594.2 513.3,594.0 513.8,594.0 C514.3,594.0 514.9,594.2 515.3,594.6 C515.7,595.0 516.1,595.6 516.4,596.2 C516.6,596.9 516.8,597.8 516.8,598.5 Z" fill="none" stroke="#7c7c7c" stroke-width="1.05"/>
<path d="M523.5,611.5 C523.5,612.5 523.3,613.6 523.0,614.5 C522.6,615.4 522.1,616.2 521.5,616.7 C520.9,617.2 520.2,617.5 519.5,617.5 C518.8,617.5 518.1,617.2 517.5,616.7 C516.9,616.2 516.4,615.4 516.0,614.5 C515.7,613.6 515.5,612.5 515.5,611.5 C515.5,610.5 515.7,609.4 516.0,608.5 C516.4,607.6 516.9,606.8 517.5,606.3 C518.1,605.8 518.8,605.5 519.5,605.5 C520.2,605.5 520.9,605.8 521.5,606.3 C522.1,606.8 522.6,607.6 523.0,608.5 C523.3,609.4 523.5,610.5 523.5,611.5 Z" fill="none" stroke="#7c7c7c" stroke-width="1.05"/>
<path d="M521.2,611.8 C521.2,612.5 521.0,613.3 520.8,613.9 C520.6,614.4 520.2,614.9 519.8,615.1 C519.4,615.3 519.0,615.3 518.6,615.1 C518.2,614.9 517.8,614.4 517.6,613.9 C517.4,613.3 517.2,612.5 517.2,611.8 C517.2,611.1 517.4,610.3 517.6,609.7 C517.8,609.2 518.2,608.7 518.6,608.5 C519.0,608.3 519.4,608.3 519.8,608.5 C520.2,608.7 520.6,609.2 520.8,609.7 C521.0,610.3 521.2,611.1 521.2,611.8 Z" fill="none" stroke="#9a9a9a" stroke-width="1.00"/>
<path d="M515.9,624.5 C515.7,625.5 515.4,626.5 514.9,627.4 C514.4,628.2 513.6,629.0 512.9,629.5 C512.2,630.0 511.3,630.3 510.5,630.4 C509.7,630.5 508.8,630.4 508.1,630.0 C507.4,629.7 506.7,629.0 506.2,628.3 C505.7,627.6 505.3,626.6 505.1,625.6 C504.9,624.7 504.9,623.5 505.1,622.5 C505.3,621.5 505.6,620.5 506.1,619.6 C506.6,618.8 507.4,618.0 508.1,617.5 C508.8,617.0 509.7,616.7 510.5,616.6 C511.3,616.5 512.2,616.6 512.9,617.0 C513.6,617.3 514.3,618.0 514.8,618.7 C515.3,619.4 515.7,620.4 515.9,621.4 C516.1,622.3 516.1,623.5 515.9,624.5 Z" fill="none" stroke="#7c7c7c" stroke-width="1.05"/>
<path d="M525.2,606.0 C524.8,608.3 523.2,615.7 523.0,620.0 C522.8,624.3 524.3,627.8 524.0,632.0 C523.7,636.2 520.8,641.7 521.0,645.0 C521.2,648.3 524.5,650.8 525.2,652.0" fill="none" stroke="#9a9a9a" stroke-width="1.00"/>
<path d="M520.5,637.0 C520.5,638.0 520.2,639.1 519.8,639.9 C519.4,640.7 518.7,641.5 518.1,641.8 C517.4,642.1 516.6,642.1 515.9,641.8 C515.3,641.5 514.6,640.7 514.2,639.9 C513.8,639.1 513.5,638.0 513.5,637.0 C513.5,636.0 513.8,634.9 514.2,634.1 C514.6,633.3 515.3,632.5 515.9,632.2 C516.6,631.9 517.4,631.9 518.1,632.2 C518.7,632.5 519.4,633.3 519.8,634.1 C520.2,634.9 520.5,636.0 520.5,637.0 Z" fill="none" stroke="#9a9a9a" stroke-width="1.00"/>
<path d="M496.3,655.1 C495.6,656.6 494.6,657.9 493.3,659.0 C492.0,660.1 490.4,660.9 488.7,661.5 C487.0,662.0 485.0,662.3 483.0,662.3 C481.1,662.3 479.0,661.9 477.0,661.3 C475.1,660.7 473.1,659.8 471.3,658.7 C469.6,657.6 468.0,656.2 466.7,654.7 C465.4,653.2 464.4,651.5 463.7,649.8 C463.0,648.2 462.6,646.3 462.6,644.7 C462.6,643.0 463.0,641.3 463.7,639.9 C464.4,638.4 465.4,637.1 466.7,636.0 C468.0,634.9 469.6,634.1 471.3,633.5 C473.0,633.0 475.0,632.7 477.0,632.7 C478.9,632.7 481.0,633.1 483.0,633.7 C484.9,634.3 486.9,635.2 488.7,636.3 C490.4,637.4 492.0,638.8 493.3,640.3 C494.6,641.8 495.6,643.5 496.3,645.2 C497.0,646.8 497.4,648.7 497.4,650.3 C497.4,652.0 497.0,653.7 496.3,655.1 Z" fill="none" stroke="#7c7c7c" stroke-width="1.05"/>
<path d="M503.6,644.6 C503.2,645.1 502.4,645.5 501.5,645.6 C500.7,645.7 499.4,645.5 498.3,645.1 C497.2,644.7 495.8,644.0 494.7,643.3 C493.6,642.5 492.5,641.5 491.7,640.5 C491.0,639.6 490.4,638.5 490.2,637.7 C490.0,636.8 490.1,636.0 490.4,635.4 C490.8,634.9 491.6,634.5 492.5,634.4 C493.3,634.3 494.6,634.5 495.7,634.9 C496.8,635.3 498.2,636.0 499.3,636.7 C500.4,637.5 501.5,638.5 502.3,639.5 C503.0,640.4 503.6,641.5 503.8,642.3 C504.0,643.2 503.9,644.0 503.6,644.6 Z" fill="none" stroke="#9a9a9a" stroke-width="1.00"/>
<path d="M470.0,600.0 C470.7,602.5 472.0,610.3 474.0,615.0 C476.0,619.7 478.5,624.5 482.0,628.0 C485.5,631.5 491.0,633.2 495.0,636.0 C499.0,638.8 504.2,643.5 506.0,645.0" fill="none" stroke="#7c7c7c" stroke-width="1.05"/>
<path d="M458.0,615.0 C458.7,617.5 460.7,625.5 462.0,630.0 C463.3,634.5 465.3,640.0 466.0,642.0" fill="none" stroke="#9a9a9a" stroke-width="1.00"/>
<path d="M492.0,612.0 C493.3,613.3 497.3,616.7 500.0,620.0 C502.7,623.3 506.0,627.8 508.0,632.0 C510.0,636.2 511.3,641.2 512.0,645.0 C512.7,648.8 512.0,653.3 512.0,655.0" fill="none" stroke="#9a9a9a" stroke-width="1.00"/>
<path d="M463.0,575.0 C464.2,575.8 467.5,578.5 470.0,580.0 C472.5,581.5 476.7,583.3 478.0,584.0" fill="none" stroke="#9a9a9a" stroke-width="1.00"/>
<path d="M525.2,660.5 C523.0,660.7 515.5,660.8 512.0,661.5 C508.5,662.2 505.6,663.7 504.0,665.0 C502.4,666.3 502.2,668.0 502.4,669.5 C502.6,671.0 502.9,672.9 505.0,674.0 C507.1,675.1 511.6,675.6 515.0,676.0 C518.4,676.4 523.5,676.4 525.2,676.5" fill="none" stroke="#5a5a5a" stroke-width="1.05"/>
<path d="M518.0,664.0 L518.0,674.0" fill="none" stroke="#9a9a9a" stroke-width="1.00"/>
<path d="M502.0,666.0 C501.0,665.0 498.0,661.5 496.0,660.0 C494.0,658.5 492.3,657.0 490.0,657.0 C487.7,657.0 483.3,659.5 482.0,660.0" fill="none" stroke="#9a9a9a" stroke-width="1.00"/>
<path d="M525.2,520.0 C525.0,522.5 524.7,530.3 524.0,535.0 C523.3,539.7 520.8,543.8 521.0,548.0 C521.2,552.2 524.5,558.0 525.2,560.0" fill="none" stroke="#7c7c7c" stroke-width="1.05"/>
<path d="M490.0,545.8 C490.3,548.1 490.9,556.2 491.9,559.4 C492.8,562.6 495.1,564.2 495.7,565.2" fill="none" stroke="#9a9a9a" stroke-width="1.00"/>
<path d="M500.0,548.0 C502.0,547.7 507.8,546.0 512.0,546.0 C516.2,546.0 523.0,547.7 525.2,548.0" fill="none" stroke="#9a9a9a" stroke-width="1.00"/>
<path d="M474.5,576.2 C472.9,579.1 467.9,587.4 465.0,593.7 C462.1,600.0 457.7,607.0 457.0,614.0 C456.3,621.0 459.4,628.9 461.0,635.6 C462.6,642.4 464.8,649.1 466.4,654.5 C468.0,659.9 469.8,665.8 470.5,668.0" fill="none" stroke="#7c7c7c" stroke-width="1.05"/>
<path d="M470.5,602.0 C470.5,603.2 470.2,604.6 469.8,605.7 C469.3,606.8 468.5,607.9 467.7,608.6 C466.8,609.4 465.7,610.0 464.7,610.3 C463.6,610.6 462.4,610.6 461.3,610.3 C460.3,610.0 459.2,609.4 458.3,608.6 C457.5,607.9 456.7,606.8 456.2,605.7 C455.8,604.6 455.5,603.2 455.5,602.0 C455.5,600.8 455.8,599.4 456.2,598.3 C456.7,597.2 457.5,596.1 458.3,595.4 C459.2,594.6 460.3,594.0 461.3,593.7 C462.4,593.4 463.6,593.4 464.7,593.7 C465.7,594.0 466.8,594.6 467.7,595.4 C468.5,596.1 469.3,597.2 469.8,598.3 C470.2,599.4 470.5,600.8 470.5,602.0 Z" fill="none" stroke="#7c7c7c" stroke-width="1.05"/>
<path d="M477.0,597.0 C477.0,598.3 476.8,599.8 476.5,601.0 C476.2,602.2 475.8,603.3 475.2,603.9 C474.7,604.6 474.1,605.0 473.5,605.0 C472.9,605.0 472.3,604.6 471.8,603.9 C471.2,603.3 470.8,602.2 470.5,601.0 C470.2,599.8 470.0,598.3 470.0,597.0 C470.0,595.7 470.2,594.2 470.5,593.0 C470.8,591.8 471.2,590.7 471.8,590.1 C472.3,589.4 472.9,589.0 473.5,589.0 C474.1,589.0 474.7,589.4 475.2,590.1 C475.8,590.7 476.2,591.8 476.5,593.0 C476.8,594.2 477.0,595.7 477.0,597.0 Z" fill="none" stroke="#9a9a9a" stroke-width="1.00"/>
<path d="M501.9,640.5 C501.6,641.0 500.8,641.4 499.8,641.4 C498.7,641.5 497.2,641.3 495.5,640.9 C493.8,640.4 491.7,639.7 489.6,638.9 C487.5,638.0 485.0,636.9 482.8,635.7 C480.5,634.5 478.0,633.1 475.8,631.7 C473.7,630.3 471.5,628.8 469.7,627.4 C467.8,626.0 466.2,624.5 465.0,623.3 C463.8,622.0 462.8,620.8 462.3,619.8 C461.9,618.9 461.8,618.0 462.1,617.5 C462.4,617.0 463.2,616.6 464.2,616.6 C465.3,616.5 466.8,616.7 468.5,617.1 C470.2,617.6 472.3,618.3 474.4,619.1 C476.5,620.0 479.0,621.1 481.2,622.3 C483.5,623.5 486.0,624.9 488.2,626.3 C490.3,627.7 492.5,629.2 494.3,630.6 C496.2,632.0 497.8,633.5 499.0,634.7 C500.2,636.0 501.2,637.2 501.7,638.2 C502.1,639.1 502.2,640.0 501.9,640.5 Z" fill="none" stroke="#7c7c7c" stroke-width="1.05"/>
<path d="M470.0,566.0 C471.7,567.0 476.7,570.0 480.0,572.0 C483.3,574.0 488.3,577.0 490.0,578.0" fill="none" stroke="#9a9a9a" stroke-width="1.00"/>
<path d="M524.6,518.0 C524.4,520.0 524.5,526.6 523.5,530.3 C522.5,534.0 521.1,537.0 518.9,540.4 C516.7,543.8 513.3,548.0 510.5,550.5 C507.7,553.0 504.8,554.1 502.0,555.5 C499.2,556.9 495.0,558.3 493.6,558.9" fill="none" stroke="#7c7c7c" stroke-width="1.00"/>
<path d="M525.2,520.1 C526.1,519.1 528.5,515.9 530.8,514.1 C533.1,512.3 535.8,510.3 539.0,509.2 C542.3,508.0 544.7,507.4 550.3,507.3 C556.0,507.2 564.4,507.1 572.9,508.3 C581.4,509.5 592.5,511.4 601.2,514.3 C609.9,517.2 617.4,520.8 625.0,525.8 C632.6,530.8 641.2,538.5 646.9,544.4 C652.7,550.3 656.0,554.8 659.6,561.0 C663.1,567.2 666.1,575.2 668.2,581.5 C670.2,587.8 671.1,593.5 671.8,598.7 C672.4,603.9 672.6,606.7 672.0,613.0 C671.4,619.2 670.0,629.6 668.2,636.0 C666.3,642.4 664.1,646.2 660.9,651.3 C657.7,656.4 653.1,662.4 648.9,666.7 C644.7,670.9 640.5,674.4 635.7,677.0 C630.8,679.5 624.6,681.2 619.8,681.9 C614.9,682.6 610.1,682.0 606.4,681.2 C602.7,680.5 600.6,679.3 597.5,677.4 C594.4,675.4 591.0,671.5 587.8,669.4 C584.5,667.4 581.2,666.0 578.0,665.0 C574.8,664.0 571.6,663.6 568.6,663.6 C565.6,663.6 562.3,663.9 560.1,664.9 C557.9,665.9 557.4,668.0 555.5,669.4 C553.5,670.9 551.7,672.3 548.3,673.4 C544.8,674.5 538.5,675.6 534.6,676.2 C530.8,676.7 526.8,676.7 525.2,676.9" fill="none" stroke="#6e6e6e" stroke-width="1.15"/>
<path d="M575.8,508.5 L574.0,541.7" fill="none" stroke="#8a8a8a" stroke-width="0.90"/>
<path d="M565.7,507.6 L564.9,533.0" fill="none" stroke="#8a8a8a" stroke-width="0.90"/>
<path d="M552.9,507.4 L553.2,531.0" fill="none" stroke="#8a8a8a" stroke-width="0.90"/>
<path d="M601.2,514.3 L592.6,550.2" fill="none" stroke="#8a8a8a" stroke-width="0.90"/>
<path d="M625.0,525.8 L604.6,554.5" fill="none" stroke="#8a8a8a" stroke-width="0.90"/>
<path d="M646.9,544.4 L623.8,563.8" fill="none" stroke="#8a8a8a" stroke-width="0.90"/>
<path d="M659.6,561.0 L634.9,575.7" fill="none" stroke="#8a8a8a" stroke-width="0.90"/>
<path d="M668.7,585.4 L641.2,590.7" fill="none" stroke="#8a8a8a" stroke-width="0.90"/>
<path d="M671.8,598.7 L643.1,599.2" fill="none" stroke="#8a8a8a" stroke-width="0.90"/>
<path d="M671.9,607.8 L644.3,608.5" fill="none" stroke="#8a8a8a" stroke-width="0.90"/>
<path d="M670.7,618.1 L644.5,617.4" fill="none" stroke="#8a8a8a" stroke-width="0.90"/>
<path d="M668.8,627.7 L643.8,624.4" fill="none" stroke="#8a8a8a" stroke-width="0.90"/>
<path d="M662.8,647.0 L638.8,638.4" fill="none" stroke="#8a8a8a" stroke-width="0.90"/>
<path d="M648.9,666.7 L628.9,651.0" fill="none" stroke="#8a8a8a" stroke-width="0.90"/>
<path d="M635.7,677.0 L620.3,658.7" fill="none" stroke="#8a8a8a" stroke-width="0.90"/>
<path d="M552.5,531.0 L540.1,520.6 L532.1,513.6" fill="none" stroke="#7c7c7c" stroke-width="0.90"/>
<path d="M549.6,540.6 L527.8,542.0" fill="none" stroke="#b0b0b0" stroke-width="0.90"/>
<path d="M525.3,520.1 C525.3,521.8 525.7,526.6 525.5,530.4 C525.3,534.3 523.7,539.5 524.2,543.3 C524.6,547.1 528.5,550.1 528.3,553.2 C528.1,556.3 523.9,560.6 523.0,562.1" fill="none" stroke="#7c7c7c" stroke-width="0.90"/>
<path d="M583.2,539.4 C581.4,538.4 576.7,535.0 572.9,533.9 C569.1,532.8 563.7,532.5 560.6,532.9 C557.4,533.3 555.2,534.5 553.9,536.4 C552.7,538.3 553.1,541.8 553.1,544.3 C553.1,546.8 553.8,550.1 553.9,551.2" fill="none" stroke="#5a5a5a" stroke-width="1.00"/>
<path d="M580.1,542.3 C578.5,541.6 573.9,538.7 570.8,537.9 C567.8,537.0 563.9,537.0 561.6,537.4 C559.3,537.8 557.9,538.9 557.0,540.3 C556.1,541.8 556.2,544.3 556.5,546.3 C556.7,548.3 558.2,551.2 558.5,552.2" fill="none" stroke="#9a9a9a" stroke-width="0.90"/>
<path d="M593.4,540.8 C591.4,540.7 585.2,539.9 581.1,540.1 C577.0,540.4 572.2,541.0 568.8,542.3 C565.4,543.6 563.2,546.0 560.6,547.8 C558.0,549.5 555.8,551.1 553.4,552.7 C551.0,554.4 547.4,556.8 546.2,557.7" fill="none" stroke="#a8a8a8" stroke-width="2.20"/>
<path d="M574.9,568.0 C573.6,567.5 569.8,565.6 566.7,564.6 C563.7,563.6 559.9,562.8 556.5,562.1 C553.1,561.4 547.9,560.9 546.2,560.6" fill="none" stroke="#7c7c7c" stroke-width="1.05"/>
<path d="M563.7,558.9 C562.1,558.5 557.1,558.2 554.4,558.3 C551.8,558.5 547.8,559.2 547.8,559.7 C547.8,560.2 551.8,561.2 554.4,561.4 C557.1,561.6 562.1,561.5 563.7,561.1 C565.2,560.7 565.2,559.4 563.7,558.9 Z" fill="#6a6a6a"/>
<path d="M593.4,578.9 C592.0,578.1 588.6,575.5 585.2,574.0 C581.8,572.5 577.0,570.8 572.9,570.0 C568.8,569.2 562.6,569.2 560.6,569.0" fill="none" stroke="#9a9a9a" stroke-width="1.00"/>
<path d="M627.7,665.4 C626.6,663.1 622.0,663.2 618.0,662.6 C614.0,662.1 607.9,661.5 603.7,662.0 C599.4,662.6 594.6,664.2 592.4,666.0 C590.2,667.7 589.3,670.4 590.5,672.4 C591.7,674.4 595.7,676.4 599.6,677.8 C603.5,679.2 609.8,681.1 613.9,680.8 C618.0,680.6 621.9,678.9 624.2,676.4 C626.5,673.8 628.7,667.7 627.7,665.4 Z" fill="none" stroke="#7c7c7c" stroke-width="1.05"/>
<path d="M630.3,650.1 C629.1,650.5 625.9,650.8 623.2,652.1 C620.4,653.4 616.3,655.8 613.9,658.1 C611.5,660.4 609.6,664.7 608.8,666.0" fill="none" stroke="#9a9a9a" stroke-width="1.00"/>
<path d="M621.1,661.0 C620.6,662.2 618.5,665.1 618.0,668.0 C617.5,670.8 618.0,676.2 618.0,677.8" fill="none" stroke="#9a9a9a" stroke-width="1.00"/>
<path d="M607.6,658.4 C607.9,658.9 608.4,659.3 609.2,659.5 C609.9,659.8 611.0,659.8 612.1,659.7 C613.2,659.6 614.6,659.3 615.8,658.9 C617.0,658.5 618.4,657.9 619.5,657.3 C620.6,656.6 621.8,655.8 622.5,655.1 C623.3,654.3 624.0,653.5 624.3,652.8 C624.6,652.1 624.6,651.4 624.3,650.8 C624.1,650.3 623.5,649.9 622.8,649.7 C622.0,649.4 620.9,649.3 619.8,649.4 C618.7,649.6 617.4,649.8 616.1,650.3 C614.9,650.7 613.5,651.3 612.4,651.9 C611.3,652.6 610.2,653.4 609.4,654.1 C608.6,654.9 608.0,655.7 607.7,656.4 C607.4,657.1 607.4,657.8 607.6,658.4 Z" fill="none" stroke="#9a9a9a" stroke-width="1.00"/>
<path d="M603.7,662.0 C603.2,663.3 600.8,667.0 600.6,669.9 C600.4,672.9 602.3,678.2 602.6,679.8" fill="none" stroke="#9a9a9a" stroke-width="1.00"/>
<path d="M565.9,539.5 C567.7,540.0 573.8,541.3 577.0,542.5 C580.2,543.7 582.1,545.0 585.1,546.5 C588.0,548.0 589.0,549.1 594.7,551.3 C600.4,553.4 612.8,555.6 619.4,559.4 C626.0,563.2 630.3,568.4 634.2,574.1 C638.0,579.8 640.7,587.1 642.4,593.6 C644.2,600.1 644.7,607.2 644.9,613.2 C645.0,619.2 644.8,624.4 643.3,629.5 C641.8,634.6 639.3,639.5 635.9,644.1 C632.4,648.7 627.6,653.0 622.6,657.1 C617.7,661.2 610.6,665.8 606.2,668.6 C601.8,671.4 597.9,673.1 596.2,674.0" fill="none" stroke="#7c7c7c" stroke-width="1.00"/>
<path d="M565.3,541.6 C567.1,542.1 573.1,543.4 576.2,544.6 C579.4,545.7 581.1,547.0 584.1,548.5 C587.0,549.9 588.2,551.2 593.9,553.4 C599.6,555.5 611.9,557.6 618.3,561.3 C624.7,565.0 628.6,569.8 632.3,575.3 C636.0,580.8 638.6,587.9 640.3,594.2 C642.0,600.5 642.5,607.5 642.7,613.2 C642.8,619.0 642.5,624.0 641.1,628.9 C639.7,633.8 637.4,638.4 634.1,642.8 C630.8,647.2 626.0,651.4 621.2,655.4 C616.3,659.4 609.4,664.0 605.0,666.8 C600.7,669.5 596.8,671.2 595.2,672.1" fill="none" stroke="#b8b8b8" stroke-width="3.00"/>
<path d="M591.2,553.8 C594.2,554.7 604.2,556.8 609.5,559.4 C614.7,562.0 618.8,565.1 622.6,569.2 C626.5,573.3 629.8,578.2 632.5,583.9 C635.3,589.6 638.0,597.4 639.1,603.4 C640.2,609.4 639.9,614.6 639.1,619.7 C638.3,624.9 636.6,629.7 634.2,634.3 C631.7,638.9 628.5,643.3 624.3,647.4 C620.2,651.5 614.4,655.0 609.5,658.8 C604.5,662.6 597.2,668.3 594.7,670.2" fill="none" stroke="#3c3c3c" stroke-width="2.00"/>
<path d="M590.3,556.5 C593.3,557.4 603.2,559.5 608.2,561.9 C613.2,564.3 616.9,567.2 620.5,571.1 C624.2,575.0 627.3,579.6 630.0,585.1 C632.6,590.6 635.3,598.2 636.3,603.9 C637.4,609.6 637.1,614.4 636.3,619.3 C635.5,624.1 634.0,628.6 631.6,633.0 C629.3,637.4 623.9,643.4 622.3,645.4" fill="none" stroke="#6a6a6a" stroke-width="0.90"/>
<path d="M634.2,634.3 C632.4,637.9 628.5,643.3 624.3,647.4 C620.2,651.5 614.4,655.0 609.5,658.8 C604.5,662.6 597.7,668.2 594.7,670.2 C591.7,672.2 590.0,672.4 591.4,670.6 C592.7,668.8 598.5,663.4 602.9,659.3 C607.3,655.2 613.4,650.6 617.8,646.2 C622.2,641.9 626.4,636.6 629.3,633.2 C632.1,629.8 634.1,625.8 634.9,626.0 C635.7,626.2 635.9,630.7 634.2,634.3 Z" fill="#606060"/>
<path d="M634.9,626.0 C633.9,627.2 632.1,629.8 629.3,633.2 C626.4,636.6 622.2,641.9 617.8,646.2 C613.4,650.6 607.3,655.2 602.9,659.3 C598.5,663.4 593.3,668.7 591.4,670.6" fill="none" stroke="#444" stroke-width="1.00"/>
<path d="M636.3,635.8 C634.6,638.1 630.4,645.1 626.2,649.2 C622.0,653.4 616.1,657.0 611.1,660.9 C606.1,664.7 598.8,670.3 596.3,672.2" fill="none" stroke="#555" stroke-width="1.00"/>
<path d="M589.7,558.6 C592.6,559.5 602.3,561.5 607.2,563.9 C612.1,566.2 615.5,568.9 618.9,572.6 C622.4,576.3 625.4,580.8 628.0,586.1 C630.5,591.3 633.1,598.8 634.1,604.3 C635.2,609.8 634.9,614.3 634.1,618.9 C633.4,623.5 631.9,627.8 629.7,632.0 C627.5,636.1 624.6,640.1 620.8,643.9 C616.9,647.7 608.8,653.0 606.4,654.9" fill="none" stroke="#7c7c7c" stroke-width="1.05"/>
<path d="M605.0,568.4 C606.7,569.6 612.1,572.7 615.2,576.0 C618.3,579.3 621.1,583.3 623.4,588.2 C625.7,593.1 628.2,600.2 629.2,605.2 C630.1,610.2 629.8,614.1 629.1,618.1 C628.5,622.2 627.2,625.9 625.2,629.6 C623.2,633.3 620.8,636.8 617.2,640.3 C613.5,643.9 605.6,649.1 603.3,650.9" fill="none" stroke="#7c7c7c" stroke-width="1.05"/>
<path d="M611.5,579.4 C612.7,581.2 616.7,585.9 618.8,590.4 C620.9,594.8 623.3,601.6 624.2,606.1 C625.1,610.6 624.7,613.8 624.1,617.4 C623.5,620.9 622.5,624.1 620.7,627.3 C619.0,630.5 614.8,635.2 613.6,636.8" fill="none" stroke="#9a9a9a" stroke-width="1.00"/>
<path d="M576.5,569.2 C578.7,570.3 585.3,573.0 589.7,575.7 C594.1,578.4 599.3,582.2 602.9,585.5 C606.5,588.8 609.4,591.8 611.1,595.3 C612.7,598.8 613.1,603.2 612.8,606.7 C612.5,610.2 611.1,613.1 609.5,616.4 C607.8,619.6 605.1,622.1 602.9,626.2 C600.7,630.3 598.5,635.8 596.3,640.9 C594.1,646.0 591.4,652.2 589.7,657.1 C588.1,662.0 587.0,668.0 586.4,670.2" fill="none" stroke="#333" stroke-width="2.20"/>
<path d="M575.9,568.0 C578.2,568.6 587.5,573.1 589.7,574.1 C592.0,575.1 589.2,573.5 589.2,574.0 C589.2,574.5 592.0,577.7 589.7,577.1 C587.5,576.5 578.2,571.9 575.9,570.4 C573.6,568.9 573.6,567.4 575.9,568.0 Z" fill="#333"/>
<path d="M601.8,587.5 C602.4,589.1 605.0,594.1 605.7,597.0 C606.5,599.9 606.5,602.3 606.2,605.0 C605.9,607.7 605.1,610.3 604.0,613.0 C602.9,615.7 600.3,619.9 599.6,621.3" fill="none" stroke="#3a3a3a" stroke-width="1.80"/>
<path d="M587.6,579.1 C589.7,580.6 596.8,585.4 600.1,588.4 C603.4,591.4 606.0,594.0 607.4,597.0 C608.9,600.0 609.0,603.5 608.8,606.4 C608.5,609.3 607.4,611.6 605.9,614.6 C604.3,617.6 601.5,620.2 599.3,624.3 C597.1,628.4 594.8,634.1 592.6,639.3 C590.4,644.6 587.6,650.9 585.9,655.8 C584.2,660.8 583.1,667.0 582.5,669.2" fill="none" stroke="#9a9a9a" stroke-width="1.00"/>
<path d="M606.0,582.2 C607.5,584.1 613.3,589.3 615.2,593.4 C617.1,597.6 617.6,602.9 617.3,607.0 C617.1,611.2 615.3,614.9 613.5,618.4 C611.8,622.0 609.1,624.3 606.9,628.3 C604.7,632.3 602.7,637.6 600.5,642.6 C598.4,647.7 595.7,653.8 594.1,658.5 C592.4,663.3 591.4,669.2 590.8,671.3" fill="none" stroke="#7c7c7c" stroke-width="1.05"/>
<path d="M569.7,580.7 C568.7,579.2 566.3,574.6 563.8,572.0 C561.4,569.4 558.8,566.8 555.0,565.2 C551.3,563.6 546.3,562.6 541.3,562.3 C536.3,562.0 527.9,563.1 525.2,563.3" fill="none" stroke="#7c7c7c" stroke-width="1.05"/>
<path d="M556.0,582.7 C555.0,581.6 553.2,577.9 550.1,575.9 C547.0,573.9 541.5,571.5 537.3,570.5 C533.2,569.5 527.2,569.8 525.2,569.6" fill="none" stroke="#7c7c7c" stroke-width="1.05"/>
<path d="M547.2,590.4 C546.2,589.1 543.7,584.6 541.3,582.7 C538.8,580.8 535.2,579.5 532.5,578.8 C529.8,578.0 526.4,578.3 525.2,578.2" fill="none" stroke="#7c7c7c" stroke-width="1.05"/>
<path d="M569.7,580.7 C567.9,581.5 562.2,583.7 558.9,585.6 C555.6,587.5 553.0,590.8 550.1,592.4 C547.2,594.0 542.8,594.8 541.3,595.3" fill="none" stroke="#7c7c7c" stroke-width="1.05"/>
<path d="M555.0,565.2 L549.7,573.8" fill="none" stroke="#9a9a9a" stroke-width="1.00"/>
<path d="M541.3,562.3 L538.6,571.0" fill="none" stroke="#9a9a9a" stroke-width="1.00"/>
<path d="M572.9,584.0 C571.1,581.9 566.5,582.4 563.8,583.5 C561.2,584.6 558.2,587.5 557.0,590.4 C555.7,593.3 555.9,597.4 556.3,601.0 C556.6,604.6 557.1,610.0 558.9,611.8 C560.7,613.6 564.6,612.6 566.9,612.0 C569.2,611.4 571.3,610.6 572.6,607.9 C574.0,605.2 574.9,600.0 575.0,596.0 C575.0,592.0 574.8,586.1 572.9,584.0 Z" fill="none" stroke="#7c7c7c" stroke-width="1.05"/>
<path d="M525.2,581.5 C526.2,581.7 529.7,581.8 531.5,582.5 C533.3,583.2 535.1,584.1 536.0,586.0 C537.0,587.9 537.0,591.7 537.0,594.0 C537.0,596.3 536.2,599.0 536.0,600.0" fill="none" stroke="#7c7c7c" stroke-width="1.05"/>
<path d="M531.0,588.5 L525.2,588.5" fill="none" stroke="#5a5a5a" stroke-width="1.10"/>
<path d="M525.2,588.5 L525.2,604.0" fill="none" stroke="#444" stroke-width="1.00"/>
<path d="M533.7,598.5 C533.7,599.2 533.9,600.1 534.1,600.8 C534.4,601.4 534.8,602.0 535.2,602.4 C535.7,602.8 536.2,603.0 536.7,603.0 C537.2,603.0 537.8,602.8 538.3,602.4 C538.7,602.0 539.1,601.4 539.4,600.8 C539.6,600.1 539.8,599.2 539.8,598.5 C539.8,597.8 539.6,596.9 539.4,596.2 C539.1,595.6 538.7,595.0 538.3,594.6 C537.8,594.2 537.2,594.0 536.7,594.0 C536.2,594.0 535.7,594.2 535.2,594.6 C534.8,595.0 534.4,595.6 534.1,596.2 C533.9,596.9 533.7,597.8 533.7,598.5 Z" fill="none" stroke="#7c7c7c" stroke-width="1.05"/>
<path d="M526.9,611.5 C526.9,612.5 527.1,613.6 527.5,614.5 C527.8,615.4 528.4,616.2 528.9,616.7 C529.5,617.2 530.3,617.5 531.0,617.5 C531.6,617.5 532.4,617.2 533.0,616.7 C533.6,616.2 534.1,615.4 534.5,614.5 C534.8,613.6 535.0,612.5 535.0,611.5 C535.0,610.5 534.8,609.4 534.5,608.5 C534.1,607.6 533.6,606.8 533.0,606.3 C532.4,605.8 531.6,605.5 531.0,605.5 C530.3,605.5 529.5,605.8 528.9,606.3 C528.4,606.8 527.8,607.6 527.5,608.5 C527.1,609.4 526.9,610.5 526.9,611.5 Z" fill="none" stroke="#7c7c7c" stroke-width="1.05"/>
<path d="M529.2,611.8 C529.2,612.5 529.4,613.3 529.6,613.9 C529.9,614.4 530.3,614.9 530.6,615.1 C531.0,615.3 531.5,615.3 531.9,615.1 C532.3,614.9 532.7,614.4 532.9,613.9 C533.1,613.3 533.3,612.5 533.3,611.8 C533.3,611.1 533.1,610.3 532.9,609.7 C532.7,609.2 532.3,608.7 531.9,608.5 C531.5,608.3 531.0,608.3 530.6,608.5 C530.3,608.7 529.9,609.2 529.6,609.7 C529.4,610.3 529.2,611.1 529.2,611.8 Z" fill="none" stroke="#9a9a9a" stroke-width="1.00"/>
<path d="M534.6,624.5 C534.8,625.5 535.2,626.5 535.7,627.4 C536.2,628.2 536.9,629.0 537.6,629.5 C538.3,630.0 539.2,630.3 540.1,630.4 C540.9,630.5 541.8,630.4 542.5,630.0 C543.2,629.7 543.9,629.0 544.4,628.3 C545.0,627.6 545.4,626.6 545.5,625.6 C545.7,624.7 545.7,623.5 545.6,622.5 C545.4,621.5 545.0,620.5 544.5,619.6 C544.0,618.8 543.3,618.0 542.5,617.5 C541.8,617.0 540.9,616.7 540.1,616.6 C539.3,616.5 538.4,616.6 537.7,617.0 C536.9,617.3 536.2,618.0 535.7,618.7 C535.2,619.4 534.8,620.4 534.6,621.4 C534.4,622.3 534.4,623.5 534.6,624.5 Z" fill="none" stroke="#7c7c7c" stroke-width="1.05"/>
<path d="M525.2,606.0 C525.6,608.3 527.2,615.7 527.4,620.0 C527.6,624.3 526.1,627.8 526.4,632.0 C526.8,636.2 529.7,641.7 529.4,645.0 C529.2,648.3 525.9,650.8 525.2,652.0" fill="none" stroke="#9a9a9a" stroke-width="1.00"/>
<path d="M530.0,637.0 C530.0,638.0 530.2,639.1 530.6,639.9 C531.0,640.7 531.7,641.5 532.4,641.8 C533.1,642.1 533.9,642.1 534.6,641.8 C535.2,641.5 536.0,640.7 536.4,639.9 C536.8,639.1 537.0,638.0 537.0,637.0 C537.0,636.0 536.8,634.9 536.4,634.1 C536.0,633.3 535.2,632.5 534.6,632.2 C533.9,631.9 533.1,631.9 532.4,632.2 C531.7,632.5 531.0,633.3 530.6,634.1 C530.2,634.9 530.0,636.0 530.0,637.0 Z" fill="none" stroke="#9a9a9a" stroke-width="1.00"/>
<path d="M554.4,655.1 C555.1,656.6 556.2,657.9 557.5,659.0 C558.7,660.1 560.4,660.9 562.1,661.5 C563.9,662.0 565.9,662.3 567.9,662.3 C569.8,662.3 572.0,661.9 574.0,661.3 C575.9,660.7 578.0,659.8 579.7,658.7 C581.4,657.6 583.1,656.2 584.4,654.7 C585.6,653.2 586.7,651.5 587.4,649.8 C588.1,648.2 588.5,646.3 588.5,644.7 C588.5,643.0 588.1,641.3 587.4,639.9 C586.7,638.4 585.7,637.1 584.4,636.0 C583.1,634.9 581.5,634.1 579.7,633.5 C578.0,633.0 576.0,632.7 574.0,632.7 C572.0,632.7 569.9,633.1 567.9,633.7 C565.9,634.3 563.9,635.2 562.2,636.3 C560.4,637.4 558.8,638.8 557.5,640.3 C556.2,641.8 555.1,643.5 554.4,645.2 C553.7,646.8 553.4,648.7 553.4,650.3 C553.4,652.0 553.7,653.7 554.4,655.1 Z" fill="none" stroke="#7c7c7c" stroke-width="1.05"/>
<path d="M547.1,644.6 C547.5,645.1 548.3,645.5 549.1,645.6 C550.0,645.7 551.3,645.5 552.4,645.1 C553.6,644.7 554.9,644.0 556.0,643.3 C557.2,642.5 558.3,641.5 559.1,640.5 C559.8,639.6 560.4,638.5 560.6,637.7 C560.8,636.8 560.7,636.0 560.4,635.4 C560.0,634.9 559.2,634.5 558.3,634.4 C557.4,634.3 556.2,634.5 555.0,634.9 C553.9,635.3 552.5,636.0 551.4,636.7 C550.3,637.5 549.2,638.5 548.4,639.5 C547.6,640.4 547.0,641.5 546.8,642.3 C546.6,643.2 546.7,644.0 547.1,644.6 Z" fill="none" stroke="#9a9a9a" stroke-width="1.00"/>
<path d="M581.0,600.0 C580.4,602.5 579.0,610.3 577.0,615.0 C575.0,619.7 572.4,624.5 568.9,628.0 C565.4,631.5 559.8,633.2 555.8,636.0 C551.7,638.8 546.5,643.5 544.6,645.0" fill="none" stroke="#7c7c7c" stroke-width="1.05"/>
<path d="M593.2,615.0 C592.5,617.5 590.5,625.5 589.1,630.0 C587.8,634.5 585.8,640.0 585.1,642.0" fill="none" stroke="#9a9a9a" stroke-width="1.00"/>
<path d="M558.8,612.0 C557.4,613.3 553.4,616.7 550.7,620.0 C548.0,623.3 544.6,627.8 542.6,632.0 C540.6,636.2 539.2,641.2 538.6,645.0 C537.9,648.8 538.6,653.3 538.6,655.0" fill="none" stroke="#9a9a9a" stroke-width="1.00"/>
<path d="M588.1,575.0 C586.9,575.8 583.6,578.5 581.0,580.0 C578.5,581.5 574.3,583.3 572.9,584.0" fill="none" stroke="#9a9a9a" stroke-width="1.00"/>
<path d="M525.2,660.5 C527.4,660.7 535.0,660.8 538.6,661.5 C542.1,662.2 545.0,663.7 546.6,665.0 C548.3,666.3 548.4,668.0 548.3,669.5 C548.1,671.0 547.8,672.9 545.6,674.0 C543.5,675.1 538.9,675.6 535.5,676.0 C532.1,676.4 526.9,676.4 525.2,676.5" fill="none" stroke="#5a5a5a" stroke-width="1.05"/>
<path d="M532.5,664.0 L532.5,674.0" fill="none" stroke="#9a9a9a" stroke-width="1.00"/>
<path d="M548.7,666.0 C549.7,665.0 552.7,661.5 554.7,660.0 C556.8,658.5 558.4,657.0 560.8,657.0 C563.2,657.0 567.6,659.5 568.9,660.0" fill="none" stroke="#9a9a9a" stroke-width="1.00"/>
<path d="M525.2,520.0 C525.4,522.5 525.7,530.3 526.4,535.0 C527.1,539.7 529.7,543.8 529.4,548.0 C529.2,552.2 525.9,558.0 525.2,560.0" fill="none" stroke="#7c7c7c" stroke-width="1.05"/>
<path d="M560.8,545.8 C560.5,548.1 559.8,556.2 558.9,559.4 C557.9,562.6 555.7,564.2 555.0,565.2" fill="none" stroke="#9a9a9a" stroke-width="1.00"/>
<path d="M550.7,548.0 C548.7,547.7 542.8,546.0 538.6,546.0 C534.3,546.0 527.4,547.7 525.2,548.0" fill="none" stroke="#9a9a9a" stroke-width="1.00"/>
<path d="M576.5,576.2 C578.1,579.1 583.1,587.4 586.1,593.7 C589.1,600.0 593.5,607.0 594.2,614.0 C594.9,621.0 591.7,628.9 590.1,635.6 C588.6,642.4 586.3,649.1 584.7,654.5 C583.1,659.9 581.2,665.8 580.5,668.0" fill="none" stroke="#7c7c7c" stroke-width="1.05"/>
<path d="M580.5,602.0 C580.5,603.2 580.8,604.6 581.3,605.7 C581.8,606.8 582.5,607.9 583.4,608.6 C584.3,609.4 585.4,610.0 586.4,610.3 C587.5,610.6 588.7,610.6 589.8,610.3 C590.9,610.0 592.0,609.4 592.9,608.6 C593.7,607.9 594.5,606.8 595.0,605.7 C595.4,604.6 595.7,603.2 595.7,602.0 C595.7,600.8 595.4,599.4 595.0,598.3 C594.5,597.2 593.7,596.1 592.9,595.4 C592.0,594.6 590.9,594.0 589.8,593.7 C588.7,593.4 587.5,593.4 586.4,593.7 C585.4,594.0 584.3,594.6 583.4,595.4 C582.5,596.1 581.8,597.2 581.3,598.3 C580.8,599.4 580.5,600.8 580.5,602.0 Z" fill="none" stroke="#7c7c7c" stroke-width="1.05"/>
<path d="M574.0,597.0 C574.0,598.3 574.1,599.8 574.4,601.0 C574.7,602.2 575.2,603.3 575.7,603.9 C576.2,604.6 576.9,605.0 577.5,605.0 C578.1,605.0 578.8,604.6 579.3,603.9 C579.8,603.3 580.3,602.2 580.6,601.0 C580.9,599.8 581.0,598.3 581.0,597.0 C581.0,595.7 580.9,594.2 580.6,593.0 C580.3,591.8 579.8,590.7 579.3,590.1 C578.8,589.4 578.1,589.0 577.5,589.0 C576.9,589.0 576.2,589.4 575.7,590.1 C575.2,590.7 574.7,591.8 574.4,593.0 C574.1,594.2 574.0,595.7 574.0,597.0 Z" fill="none" stroke="#9a9a9a" stroke-width="1.00"/>
<path d="M548.8,640.5 C549.1,641.0 549.8,641.4 550.9,641.4 C552.0,641.5 553.5,641.3 555.3,640.9 C557.0,640.4 559.1,639.7 561.2,638.9 C563.4,638.0 565.8,636.9 568.1,635.7 C570.5,634.5 572.9,633.1 575.1,631.7 C577.3,630.3 579.6,628.8 581.4,627.4 C583.2,626.0 584.9,624.5 586.1,623.3 C587.4,622.0 588.3,620.8 588.8,619.8 C589.3,618.9 589.4,618.0 589.1,617.5 C588.7,617.0 588.0,616.6 586.9,616.6 C585.8,616.5 584.3,616.7 582.6,617.1 C580.8,617.6 578.7,618.3 576.6,619.1 C574.4,620.0 572.0,621.1 569.7,622.3 C567.3,623.5 564.9,624.9 562.7,626.3 C560.5,627.7 558.2,629.2 556.4,630.6 C554.6,632.0 552.9,633.5 551.7,634.7 C550.4,636.0 549.5,637.2 549.0,638.2 C548.5,639.1 548.4,640.0 548.8,640.5 Z" fill="none" stroke="#7c7c7c" stroke-width="1.05"/>
<path d="M581.0,566.0 C579.4,567.0 574.3,570.0 570.9,572.0 C567.6,574.0 562.5,577.0 560.8,578.0" fill="none" stroke="#9a9a9a" stroke-width="1.00"/>
<path d="M525.8,518.0 C526.0,520.0 526.0,526.6 526.9,530.3 C527.9,534.0 529.4,537.0 531.6,540.4 C533.8,543.8 537.2,548.0 540.1,550.5 C542.9,553.0 545.8,554.1 548.7,555.5 C551.5,556.9 555.8,558.3 557.2,558.9" fill="none" stroke="#7c7c7c" stroke-width="1.00"/>
<circle cx="436.8" cy="587.2" r="1.85" fill="#0a0a0a"/>
<circle cx="427.5" cy="596.4" r="1.85" fill="#0a0a0a"/>
<circle cx="442.2" cy="594.5" r="1.85" fill="#0a0a0a"/>
<circle cx="449.6" cy="597.0" r="1.85" fill="#0a0a0a"/>
<circle cx="435.6" cy="603.4" r="1.85" fill="#0a0a0a"/>
<circle cx="443.0" cy="603.4" r="1.85" fill="#0a0a0a"/>
<circle cx="420.1" cy="614.3" r="1.85" fill="#0a0a0a"/>
<circle cx="425.1" cy="620.9" r="1.85" fill="#0a0a0a"/>
<circle cx="443.8" cy="616.6" r="1.85" fill="#0a0a0a"/>
<circle cx="607.2" cy="580.9" r="1.85" fill="#0a0a0a"/>
<circle cx="609.9" cy="588.2" r="1.85" fill="#0a0a0a"/>
<circle cx="613.4" cy="599.5" r="1.85" fill="#0a0a0a"/>
<circle cx="621.5" cy="597.8" r="1.85" fill="#0a0a0a"/>
<circle cx="606.8" cy="604.2" r="1.85" fill="#0a0a0a"/>
<circle cx="620.0" cy="603.5" r="1.85" fill="#0a0a0a"/>
<circle cx="624.6" cy="609.8" r="1.85" fill="#0a0a0a"/>
<circle cx="605.6" cy="612.9" r="1.85" fill="#0a0a0a"/>
<circle cx="618.2" cy="616.0" r="1.85" fill="#0a0a0a"/>
</g>
<g>
<path d="M213.5,717.9 C212.6,717.0 210.3,714.0 208.1,712.3 C205.9,710.6 203.4,708.7 200.3,707.6 C197.2,706.5 194.9,705.9 189.6,705.8 C184.2,705.7 176.2,705.6 168.1,706.7 C160.0,707.8 149.4,709.7 141.1,712.5 C132.9,715.3 125.8,718.6 118.5,723.4 C111.2,728.2 103.1,735.5 97.6,741.1 C92.1,746.7 89.0,751.0 85.6,756.9 C82.2,762.8 79.3,770.4 77.4,776.4 C75.5,782.4 74.6,787.8 74.0,792.8 C73.4,797.7 73.2,800.4 73.8,806.3 C74.3,812.2 75.6,822.2 77.4,828.2 C79.1,834.3 81.3,838.0 84.3,842.8 C87.4,847.7 91.7,853.3 95.7,857.4 C99.7,861.5 103.7,864.8 108.3,867.2 C113.0,869.6 118.8,871.2 123.5,871.9 C128.1,872.6 132.6,872.0 136.2,871.2 C139.7,870.5 141.7,869.4 144.7,867.6 C147.6,865.7 150.8,862.0 153.9,860.0 C157.0,858.1 160.2,856.7 163.2,855.8 C166.3,854.9 169.4,854.5 172.2,854.5 C175.0,854.5 178.2,854.8 180.3,855.7 C182.4,856.6 182.8,858.7 184.7,860.0 C186.6,861.4 188.2,862.7 191.5,863.8 C194.8,864.9 200.9,865.9 204.5,866.4 C208.2,867.0 212.0,867.0 213.5,867.1" fill="none" stroke="#6e6e6e" stroke-width="1.15"/>
<path d="M165.4,706.9 L166.8,733.5" fill="none" stroke="#8a8a8a" stroke-width="0.90"/>
<path d="M174.9,706.1 L175.7,731.1" fill="none" stroke="#8a8a8a" stroke-width="0.90"/>
<path d="M187.1,705.9 L186.8,728.4" fill="none" stroke="#8a8a8a" stroke-width="0.90"/>
<path d="M141.1,712.5 L148.5,743.1" fill="none" stroke="#8a8a8a" stroke-width="0.90"/>
<path d="M118.5,723.4 L135.6,747.5" fill="none" stroke="#8a8a8a" stroke-width="0.90"/>
<path d="M97.6,741.1 L115.1,755.7" fill="none" stroke="#8a8a8a" stroke-width="0.90"/>
<path d="M85.6,756.9 L104.9,768.4" fill="none" stroke="#8a8a8a" stroke-width="0.90"/>
<path d="M76.9,780.1 L98.0,784.2" fill="none" stroke="#8a8a8a" stroke-width="0.90"/>
<path d="M74.0,792.8 L95.5,793.2" fill="none" stroke="#8a8a8a" stroke-width="0.90"/>
<path d="M73.9,801.4 L94.8,802.0" fill="none" stroke="#8a8a8a" stroke-width="0.90"/>
<path d="M74.9,811.2 L94.6,810.7" fill="none" stroke="#8a8a8a" stroke-width="0.90"/>
<path d="M76.8,820.3 L95.6,817.8" fill="none" stroke="#8a8a8a" stroke-width="0.90"/>
<path d="M82.5,838.7 L100.6,832.2" fill="none" stroke="#8a8a8a" stroke-width="0.90"/>
<path d="M95.7,857.4 L110.6,845.8" fill="none" stroke="#8a8a8a" stroke-width="0.90"/>
<path d="M108.3,867.2 L119.2,854.4" fill="none" stroke="#8a8a8a" stroke-width="0.90"/>
<path d="M190.3,737.5 L211.1,738.8" fill="none" stroke="#b0b0b0" stroke-width="0.90"/>
<path d="M213.4,717.9 C213.4,719.6 213.0,724.1 213.2,727.8 C213.4,731.5 214.9,736.4 214.5,740.1 C214.0,743.7 210.4,746.5 210.6,749.5 C210.7,752.4 214.7,756.5 215.6,757.9" fill="none" stroke="#7c7c7c" stroke-width="0.90"/>
<path d="M158.3,736.3 C160.0,735.4 164.5,732.1 168.1,731.1 C171.7,730.1 176.8,729.8 179.8,730.2 C182.8,730.6 185.0,731.7 186.2,733.5 C187.3,735.3 186.9,738.6 186.9,741.0 C186.9,743.3 186.3,746.5 186.2,747.6" fill="none" stroke="#5a5a5a" stroke-width="1.00"/>
<path d="M161.3,739.1 C162.7,738.4 167.1,735.7 170.0,734.9 C173.0,734.1 176.6,734.0 178.8,734.4 C181.0,734.8 182.4,735.8 183.2,737.2 C184.0,738.6 184.0,741.0 183.7,742.9 C183.5,744.8 182.1,747.6 181.8,748.5" fill="none" stroke="#9a9a9a" stroke-width="0.90"/>
<path d="M148.6,737.7 C150.5,737.6 156.4,736.8 160.3,737.0 C164.2,737.3 168.7,737.9 172.0,739.1 C175.3,740.3 177.4,742.6 179.8,744.3 C182.3,745.9 184.4,747.4 186.6,749.0 C188.9,750.6 192.3,752.9 193.5,753.7" fill="none" stroke="#a8a8a8" stroke-width="2.20"/>
<path d="M166.1,763.6 C167.4,763.0 171.0,761.2 174.0,760.3 C176.9,759.3 180.5,758.6 183.7,757.9 C187.0,757.3 191.9,756.8 193.5,756.5" fill="none" stroke="#7c7c7c" stroke-width="1.05"/>
<path d="M176.9,754.9 C178.3,754.5 183.2,754.2 185.7,754.4 C188.2,754.5 192.0,755.2 192.0,755.7 C192.0,756.2 188.2,757.1 185.7,757.3 C183.2,757.5 178.3,757.4 176.9,757.0 C175.4,756.6 175.4,755.4 176.9,754.9 Z" fill="#6a6a6a"/>
<path d="M148.6,773.9 C149.9,773.1 153.1,770.6 156.4,769.2 C159.6,767.8 164.2,766.2 168.1,765.5 C172.0,764.7 177.9,764.7 179.8,764.5" fill="none" stroke="#9a9a9a" stroke-width="1.00"/>
<path d="M116.0,856.2 C116.9,854.0 121.3,854.1 125.1,853.6 C128.9,853.0 134.7,852.5 138.8,853.0 C142.9,853.5 147.5,855.1 149.5,856.8 C151.6,858.4 152.4,861.0 151.3,862.9 C150.2,864.8 146.4,866.7 142.7,868.0 C139.0,869.4 132.9,871.1 129.0,870.9 C125.1,870.6 121.5,869.1 119.3,866.6 C117.1,864.2 115.0,858.4 116.0,856.2 Z" fill="none" stroke="#7c7c7c" stroke-width="1.05"/>
<path d="M113.4,841.7 C114.6,842.0 117.6,842.3 120.3,843.6 C122.9,844.8 126.8,847.0 129.0,849.2 C131.3,851.4 133.1,855.5 133.9,856.8" fill="none" stroke="#9a9a9a" stroke-width="1.00"/>
<path d="M122.2,852.0 C122.7,853.1 124.6,856.0 125.1,858.6 C125.6,861.3 125.1,866.5 125.1,868.0" fill="none" stroke="#9a9a9a" stroke-width="1.00"/>
<path d="M135.1,849.5 C134.8,850.0 134.3,850.4 133.5,850.6 C132.8,850.9 131.8,850.9 130.8,850.8 C129.7,850.7 128.4,850.4 127.3,850.1 C126.1,849.7 124.8,849.1 123.7,848.5 C122.6,847.8 121.6,847.1 120.8,846.4 C120.1,845.7 119.5,844.9 119.2,844.2 C118.9,843.5 118.9,842.8 119.1,842.4 C119.4,841.9 119.9,841.4 120.6,841.2 C121.3,841.0 122.4,840.9 123.4,841.0 C124.5,841.1 125.7,841.4 126.9,841.8 C128.1,842.2 129.4,842.8 130.5,843.4 C131.5,844.0 132.6,844.8 133.3,845.5 C134.1,846.2 134.7,847.0 135.0,847.7 C135.3,848.3 135.3,849.0 135.1,849.5 Z" fill="none" stroke="#9a9a9a" stroke-width="1.00"/>
<path d="M138.8,853.0 C139.3,854.2 141.6,857.7 141.7,860.5 C141.9,863.3 140.1,868.4 139.8,869.9" fill="none" stroke="#9a9a9a" stroke-width="1.00"/>
<path d="M176.0,731.0 C174.2,731.5 168.5,732.8 165.0,734.0 C161.5,735.2 157.8,736.9 155.0,738.5 C152.2,740.1 150.3,742.2 148.0,743.5 C145.7,744.8 144.6,745.0 141.3,746.0 C138.0,747.0 132.3,748.0 128.0,749.5 C123.7,751.0 119.6,751.7 115.5,755.2 C111.4,758.7 106.7,764.5 103.4,770.3 C100.1,776.1 97.3,783.7 95.8,790.0 C94.3,796.3 94.2,802.5 94.3,808.3 C94.4,814.1 94.8,819.7 96.6,825.0 C98.4,830.3 101.0,835.2 104.9,840.2 C108.8,845.2 115.0,851.0 120.1,855.3 C125.2,859.6 132.8,864.2 135.3,866.0" fill="none" stroke="#7c7c7c" stroke-width="1.00"/>
<path d="M176.6,733.1 C174.8,733.6 169.2,734.9 165.7,736.1 C162.3,737.3 158.9,738.9 156.1,740.4 C153.3,742.0 151.4,744.1 149.1,745.4 C146.7,746.7 145.3,747.1 141.9,748.1 C138.5,749.1 132.9,750.1 128.7,751.6 C124.6,753.0 120.8,753.6 116.9,756.9 C113.0,760.2 108.5,765.8 105.3,771.4 C102.2,777.0 99.4,784.4 97.9,790.5 C96.5,796.7 96.4,802.6 96.5,808.2 C96.6,813.9 97.0,819.2 98.7,824.3 C100.4,829.4 102.8,834.0 106.6,838.9 C110.4,843.7 116.5,849.4 121.5,853.6 C126.5,857.8 134.1,862.4 136.6,864.2" fill="none" stroke="#b8b8b8" stroke-width="3.00"/>
<path d="M147.5,750.3 C144.7,751.1 136.0,752.9 130.7,755.2 C125.4,757.5 119.8,760.2 115.5,764.3 C111.2,768.3 107.7,773.9 104.9,779.5 C102.1,785.1 99.7,791.1 98.8,797.7 C97.9,804.3 98.3,812.8 99.6,818.9 C100.9,825.0 103.0,829.3 106.4,834.1 C109.8,838.9 115.0,843.7 120.1,847.7 C125.2,851.8 132.2,855.4 136.8,858.4 C141.4,861.4 145.6,864.7 147.4,866.0" fill="none" stroke="#3c3c3c" stroke-width="2.00"/>
<path d="M148.3,753.0 C145.5,753.8 137.0,755.5 131.8,757.8 C126.7,760.0 121.5,762.5 117.4,766.3 C113.4,770.2 110.0,775.5 107.4,780.8 C104.8,786.0 102.4,791.8 101.6,798.1 C100.7,804.3 101.2,812.6 102.3,818.3 C103.5,824.1 105.4,827.9 108.7,832.5 C111.9,837.0 119.7,843.3 121.8,845.5" fill="none" stroke="#6a6a6a" stroke-width="0.90"/>
<path d="M99.6,818.9 C100.2,821.6 103.0,829.3 106.4,834.1 C109.8,838.9 115.0,843.7 120.1,847.7 C125.2,851.8 132.2,855.4 136.8,858.4 C141.4,861.4 145.2,864.7 147.4,866.0 C149.6,867.3 150.2,866.7 150.0,866.0 C149.8,865.3 149.2,864.2 146.0,861.8 C142.8,859.3 135.9,855.2 131.0,851.3 C126.1,847.4 120.4,842.3 116.5,838.2 C112.6,834.1 109.8,829.9 107.5,826.5 C105.2,823.1 104.1,819.3 102.8,818.0 C101.5,816.7 99.0,816.2 99.6,818.9 Z" fill="#606060"/>
<path d="M102.8,818.0 C103.6,819.4 105.2,823.1 107.5,826.5 C109.8,829.9 112.6,834.1 116.5,838.2 C120.4,842.3 126.1,847.4 131.0,851.3 C135.9,855.2 142.8,859.3 146.0,861.8 C149.2,864.2 149.3,865.3 150.0,866.0" fill="none" stroke="#444" stroke-width="1.00"/>
<path d="M97.2,820.0 C98.4,822.6 100.7,830.6 104.3,835.6 C107.8,840.6 113.3,845.6 118.5,849.7 C123.7,853.9 130.8,857.5 135.4,860.6 C139.9,863.6 144.1,866.9 145.9,868.1" fill="none" stroke="#555" stroke-width="1.00"/>
<path d="M148.9,755.1 C146.2,755.9 137.7,757.6 132.7,759.8 C127.7,761.9 122.8,764.3 118.9,767.9 C115.0,771.6 111.9,776.7 109.4,781.7 C106.8,786.8 104.6,792.3 103.8,798.4 C102.9,804.4 103.4,812.4 104.5,817.9 C105.6,823.4 107.4,826.9 110.5,831.2 C113.6,835.5 118.4,840.0 123.2,843.8 C128.1,847.6 136.9,852.5 139.6,854.2" fill="none" stroke="#7c7c7c" stroke-width="1.05"/>
<path d="M134.7,764.4 C132.6,765.6 125.8,768.3 122.4,771.6 C118.9,774.8 116.1,779.4 113.8,784.0 C111.6,788.5 109.5,793.6 108.7,799.0 C108.0,804.5 108.4,812.0 109.4,816.9 C110.4,821.7 111.7,824.5 114.5,828.3 C117.4,832.1 121.7,836.3 126.3,839.9 C131.0,843.5 139.7,848.4 142.4,850.1" fill="none" stroke="#7c7c7c" stroke-width="1.05"/>
<path d="M125.8,775.2 C124.5,777.1 120.3,782.1 118.3,786.2 C116.3,790.3 114.3,794.8 113.7,799.7 C113.0,804.6 113.5,811.6 114.3,815.8 C115.1,820.1 116.1,822.0 118.6,825.4 C121.2,828.8 127.7,834.2 129.5,836.0" fill="none" stroke="#9a9a9a" stroke-width="1.00"/>
<path d="M158.8,763.5 C156.7,765.1 150.1,770.0 145.9,773.4 C141.7,776.8 136.4,781.0 133.7,784.0 C131.0,787.0 130.7,788.3 129.9,791.6 C129.2,794.9 128.8,800.2 129.2,803.7 C129.6,807.2 130.4,810.0 132.2,812.8 C134.0,815.6 137.0,817.1 139.8,820.4 C142.6,823.7 146.4,827.8 148.9,832.6 C151.4,837.4 153.2,845.0 155.0,849.3 C156.8,853.6 158.8,856.9 159.5,858.4" fill="none" stroke="#333" stroke-width="2.20"/>
<path d="M159.4,762.3 C157.2,763.5 148.1,770.5 145.9,771.8 C143.7,773.1 146.4,769.5 146.4,770.0 C146.4,770.5 143.7,775.7 145.9,774.8 C148.1,773.9 157.2,766.8 159.4,764.7 C161.7,762.6 161.7,761.1 159.4,762.3 Z" fill="#333"/>
<path d="M137.5,783.0 C136.9,784.8 134.4,789.8 134.0,793.5 C133.6,797.2 133.6,801.8 134.8,805.5 C136.0,809.2 140.2,814.2 141.3,815.9" fill="none" stroke="#3a3a3a" stroke-width="1.80"/>
<path d="M148.4,776.5 C146.5,778.2 139.1,784.0 136.7,786.6 C134.3,789.3 134.4,789.7 133.8,792.5 C133.2,795.3 132.9,800.2 133.2,803.3 C133.5,806.3 134.0,808.2 135.6,810.7 C137.2,813.1 140.0,814.5 142.9,817.8 C145.7,821.2 149.8,825.7 152.4,830.7 C155.1,835.7 156.9,843.5 158.7,847.8 C160.5,852.1 162.4,855.2 163.1,856.6" fill="none" stroke="#9a9a9a" stroke-width="1.00"/>
<path d="M130.3,781.0 C129.5,782.6 126.4,786.7 125.5,790.6 C124.6,794.5 124.2,800.1 124.7,804.2 C125.2,808.3 126.5,812.0 128.4,815.2 C130.3,818.4 133.6,820.1 136.4,823.3 C139.1,826.5 142.5,830.1 144.9,834.7 C147.3,839.3 149.1,846.7 150.8,851.0 C152.6,855.3 154.7,858.8 155.5,860.4" fill="none" stroke="#7c7c7c" stroke-width="1.05"/>
<path d="M158.7,771.2 C157.1,773.5 152.2,780.0 149.3,784.7 C146.4,789.4 142.3,794.3 141.2,799.5 C140.1,804.7 141.4,810.5 142.5,815.7 C143.6,820.9 146.2,825.0 148.0,830.6 C149.8,836.2 151.7,845.0 153.3,849.5 C154.9,854.0 156.7,856.2 157.4,857.6" fill="none" stroke="#7c7c7c" stroke-width="1.05"/>
<path d="M158.1,799.0 C158.1,800.3 157.8,801.7 157.4,802.9 C156.9,804.1 156.1,805.2 155.3,806.0 C154.4,806.8 153.3,807.5 152.3,807.8 C151.2,808.1 150.0,808.1 148.9,807.8 C147.9,807.5 146.8,806.8 145.9,806.0 C145.1,805.2 144.3,804.1 143.8,802.9 C143.4,801.7 143.1,800.3 143.1,799.0 C143.1,797.7 143.4,796.3 143.8,795.1 C144.3,793.9 145.1,792.8 145.9,792.0 C146.8,791.2 147.9,790.5 148.9,790.2 C150.0,789.9 151.2,789.9 152.3,790.2 C153.3,790.5 154.4,791.2 155.3,792.0 C156.1,792.8 156.9,793.9 157.4,795.1 C157.8,796.3 158.1,797.7 158.1,799.0 Z" fill="none" stroke="#7c7c7c" stroke-width="1.05"/>
<path d="M189.0,830.6 C188.6,831.1 187.9,831.5 186.9,831.6 C186.0,831.6 184.6,831.5 183.1,831.1 C181.6,830.7 179.8,830.1 178.0,829.3 C176.1,828.6 174.0,827.5 172.1,826.4 C170.1,825.3 168.0,824.0 166.2,822.8 C164.3,821.5 162.5,820.1 161.0,818.7 C159.5,817.4 158.1,816.1 157.1,814.9 C156.1,813.7 155.4,812.5 155.1,811.6 C154.7,810.7 154.7,809.9 155.0,809.4 C155.4,808.9 156.1,808.5 157.1,808.4 C158.0,808.4 159.4,808.5 160.9,808.9 C162.4,809.3 164.2,809.9 166.0,810.7 C167.9,811.4 170.0,812.5 171.9,813.6 C173.9,814.7 176.0,816.0 177.8,817.2 C179.7,818.5 181.5,819.9 183.0,821.3 C184.5,822.6 185.9,823.9 186.9,825.1 C187.9,826.3 188.6,827.5 188.9,828.4 C189.3,829.3 189.3,830.1 189.0,830.6 Z" fill="none" stroke="#7c7c7c" stroke-width="1.05"/>
<path d="M185.1,845.1 C184.5,846.7 183.5,848.2 182.3,849.4 C181.1,850.6 179.5,851.6 177.8,852.3 C176.2,852.9 174.2,853.3 172.3,853.2 C170.4,853.2 168.4,852.9 166.6,852.2 C164.8,851.6 162.9,850.5 161.5,849.3 C160.1,848.1 158.8,846.6 157.9,845.0 C157.0,843.4 156.4,841.6 156.3,839.9 C156.1,838.2 156.3,836.4 156.9,834.9 C157.5,833.3 158.5,831.8 159.7,830.6 C160.9,829.4 162.5,828.4 164.2,827.7 C165.8,827.1 167.8,826.7 169.7,826.8 C171.6,826.8 173.6,827.1 175.4,827.8 C177.2,828.4 179.1,829.5 180.5,830.7 C181.9,831.9 183.2,833.4 184.1,835.0 C185.0,836.6 185.6,838.4 185.7,840.1 C185.9,841.8 185.7,843.6 185.1,845.1 Z" fill="none" stroke="#9a9a9a" stroke-width="1.00"/>
<path d="M156.0,764.0 C157.5,764.7 161.7,766.7 165.0,768.0 C168.3,769.3 174.2,771.3 176.0,772.0" fill="none" stroke="#9a9a9a" stroke-width="1.00"/>
<path d="M213.5,813.0 L205.0,832.0 L198.0,850.5" fill="none" stroke="#7c7c7c" stroke-width="1.05"/>
<path d="M213.5,838.0 C212.8,838.8 210.3,840.4 209.5,842.5 C208.7,844.6 208.6,849.2 208.4,850.5" fill="none" stroke="#9a9a9a" stroke-width="1.00"/>
<path d="M201.6,839.9 C201.2,840.4 200.4,840.6 199.3,840.6 C198.2,840.5 196.7,840.1 195.1,839.5 C193.4,838.9 191.4,837.9 189.4,836.8 C187.4,835.7 185.2,834.3 183.2,832.9 C181.3,831.5 179.2,829.9 177.5,828.5 C175.8,827.0 174.2,825.4 173.0,824.1 C171.9,822.7 171.0,821.4 170.6,820.4 C170.1,819.4 170.1,818.6 170.4,818.1 C170.8,817.6 171.6,817.4 172.7,817.4 C173.8,817.5 175.3,817.9 176.9,818.5 C178.6,819.1 180.6,820.1 182.6,821.2 C184.6,822.3 186.8,823.7 188.8,825.1 C190.7,826.5 192.8,828.1 194.5,829.5 C196.2,831.0 197.8,832.6 199.0,833.9 C200.1,835.3 201.0,836.6 201.4,837.6 C201.9,838.6 201.9,839.4 201.6,839.9 Z" fill="none" stroke="#7c7c7c" stroke-width="1.05"/>
<path d="M198.0,852.9 L213.5,852.9" fill="none" stroke="#9a9a9a" stroke-width="1.00"/>
<path d="M170.0,812.0 C171.7,813.0 176.7,815.7 180.0,818.0 C183.3,820.3 186.8,823.0 190.0,826.0 C193.2,829.0 197.5,834.3 199.0,836.0" fill="none" stroke="#9a9a9a" stroke-width="1.00"/>
<path d="M173.0,782.1 C173.6,780.1 174.3,773.5 176.5,770.0 C178.7,766.5 182.4,763.1 186.0,761.0 C189.6,758.9 193.6,758.0 198.2,757.3 C202.8,756.6 210.9,756.7 213.5,756.6" fill="none" stroke="#7c7c7c" stroke-width="1.05"/>
<path d="M184.6,780.0 C185.5,778.6 187.4,773.6 190.0,771.5 C192.6,769.4 196.1,768.4 200.0,767.5 C203.9,766.6 211.2,766.2 213.5,766.0" fill="none" stroke="#7c7c7c" stroke-width="1.05"/>
<path d="M194.0,782.0 C195.2,781.0 197.8,777.5 201.0,776.0 C204.2,774.5 211.4,773.5 213.5,773.0" fill="none" stroke="#9a9a9a" stroke-width="1.00"/>
<path d="M186.0,761.0 L193.0,772.0" fill="none" stroke="#9a9a9a" stroke-width="1.00"/>
<path d="M176.0,752.0 L186.0,761.0" fill="none" stroke="#9a9a9a" stroke-width="1.00"/>
<path d="M164.0,783.0 C165.5,781.8 169.5,781.0 172.0,781.5 C174.5,782.0 177.6,783.8 178.8,786.0 C180.1,788.2 180.0,791.9 179.5,795.0 C179.0,798.1 177.8,802.8 176.0,804.5 C174.2,806.2 170.6,806.5 168.5,805.4 C166.4,804.3 164.2,800.7 163.3,798.0 C162.4,795.3 162.7,791.5 162.8,789.0 C162.9,786.5 162.5,784.2 164.0,783.0 Z" fill="none" stroke="#7c7c7c" stroke-width="1.05"/>
<path d="M213.5,772.4 C212.4,772.6 208.8,772.7 207.0,773.5 C205.2,774.3 203.4,775.2 202.5,777.0 C201.6,778.8 201.7,782.8 201.5,784.0" fill="none" stroke="#7c7c7c" stroke-width="1.05"/>
<path d="M207.0,778.2 L213.5,778.2" fill="none" stroke="#5a5a5a" stroke-width="1.10"/>
<path d="M213.5,778.2 L213.5,795.7" fill="none" stroke="#444" stroke-width="1.00"/>
<path d="M207.0,803.4 C207.0,804.1 206.8,805.0 206.5,805.6 C206.1,806.3 205.6,806.9 205.0,807.3 C204.4,807.7 203.7,807.9 203.0,807.9 C202.3,807.9 201.6,807.7 201.0,807.3 C200.4,806.9 199.9,806.3 199.5,805.6 C199.2,805.0 199.0,804.1 199.0,803.4 C199.0,802.6 199.2,801.8 199.5,801.1 C199.9,800.5 200.4,799.9 201.0,799.5 C201.6,799.1 202.3,798.9 203.0,798.9 C203.7,798.9 204.4,799.1 205.0,799.5 C205.6,799.9 206.1,800.5 206.5,801.1 C206.8,801.8 207.0,802.6 207.0,803.4 Z" fill="none" stroke="#7c7c7c" stroke-width="1.05"/>
<path d="M184.0,810.0 C185.6,808.5 189.6,808.6 192.0,809.3 C194.4,810.0 197.3,811.7 198.2,814.0 C199.1,816.3 198.5,820.5 197.5,823.0 C196.5,825.5 194.1,828.2 192.0,828.7 C189.9,829.2 186.6,827.8 185.0,826.0 C183.4,824.2 182.9,820.7 182.7,818.0 C182.5,815.3 182.4,811.5 184.0,810.0 Z" fill="none" stroke="#7c7c7c" stroke-width="1.05"/>
<path d="M196.5,822.0 C196.5,822.6 196.2,823.3 195.7,823.8 C195.3,824.2 194.5,824.7 193.7,824.9 C193.0,825.0 192.0,825.0 191.3,824.9 C190.5,824.7 189.7,824.2 189.3,823.8 C188.8,823.3 188.5,822.6 188.5,822.0 C188.5,821.4 188.8,820.7 189.3,820.2 C189.7,819.8 190.5,819.3 191.3,819.1 C192.0,819.0 193.0,819.0 193.7,819.1 C194.5,819.3 195.3,819.8 195.7,820.2 C196.2,820.7 196.5,821.4 196.5,822.0 Z" fill="none" stroke="#9a9a9a" stroke-width="1.00"/>
<path d="M208.8,838.4 C208.8,839.2 208.5,840.1 208.1,840.8 C207.6,841.4 206.9,842.0 206.2,842.2 C205.5,842.4 204.5,842.4 203.8,842.2 C203.1,842.0 202.4,841.4 201.9,840.8 C201.5,840.1 201.2,839.2 201.2,838.4 C201.2,837.6 201.5,836.7 201.9,836.0 C202.4,835.4 203.1,834.8 203.8,834.6 C204.5,834.4 205.5,834.4 206.2,834.6 C206.9,834.8 207.6,835.4 208.1,836.0 C208.5,836.7 208.8,837.6 208.8,838.4 Z" fill="none" stroke="#7c7c7c" stroke-width="1.05"/>
<path d="M216.5,845.0 C216.5,845.6 216.3,846.3 215.9,846.8 C215.6,847.2 215.0,847.7 214.4,847.9 C213.9,848.0 213.1,848.0 212.6,847.9 C212.0,847.7 211.4,847.2 211.1,846.8 C210.7,846.3 210.5,845.6 210.5,845.0 C210.5,844.4 210.7,843.7 211.1,843.2 C211.4,842.8 212.0,842.3 212.6,842.1 C213.1,842.0 213.9,842.0 214.4,842.1 C215.0,842.3 215.6,842.8 215.9,843.2 C216.3,843.7 216.5,844.4 216.5,845.0 Z" fill="none" stroke="#9a9a9a" stroke-width="1.00"/>
<path d="M213.5,800.0 C212.9,802.5 210.2,810.0 210.0,815.0 C209.8,820.0 211.7,827.5 212.0,830.0" fill="none" stroke="#9a9a9a" stroke-width="1.00"/>
<path d="M152.0,812.0 C154.2,807.5 160.0,808.0 165.0,808.0 C170.0,808.0 177.8,808.3 182.0,812.0 C186.2,815.7 189.5,824.0 190.5,830.0 C191.5,836.0 190.6,843.7 188.0,848.0 C185.4,852.3 179.7,855.3 175.0,856.0 C170.3,856.7 163.9,855.5 160.0,852.0 C156.1,848.5 152.9,841.7 151.6,835.0 C150.3,828.3 149.8,816.5 152.0,812.0 Z" fill="none" stroke="#7c7c7c" stroke-width="1.05"/>
<path d="M152.0,800.0 C153.3,801.3 156.2,806.0 160.0,808.0 C163.8,810.0 172.5,811.3 175.0,812.0" fill="none" stroke="#9a9a9a" stroke-width="1.00"/>
<path d="M158.0,830.0 C159.7,831.7 164.0,837.3 168.0,840.0 C172.0,842.7 179.7,845.0 182.0,846.0" fill="none" stroke="#9a9a9a" stroke-width="1.00"/>
<path d="M213.5,853.9 C211.2,853.9 203.5,853.8 200.0,854.0 C196.5,854.2 193.6,853.7 192.4,855.0 C191.2,856.3 192.7,859.6 193.0,862.0 C193.3,864.4 190.9,868.1 194.3,869.4 C197.7,870.7 210.3,869.7 213.5,869.8" fill="none" stroke="#5a5a5a" stroke-width="1.05"/>
<path d="M206.0,857.0 L206.0,868.0" fill="none" stroke="#9a9a9a" stroke-width="1.00"/>
<path d="M213.5,720.0 C213.5,723.3 213.5,733.9 213.5,740.0 C213.5,746.1 213.5,754.1 213.5,756.9" fill="none" stroke="#7c7c7c" stroke-width="1.05"/>
<path d="M182.0,752.0 L213.5,757.0" fill="none" stroke="#9a9a9a" stroke-width="1.00"/>
<path d="M213.0,718.0 C212.6,720.0 211.8,726.8 210.5,730.3 C209.2,733.8 208.6,735.6 205.5,738.7 C202.4,741.8 196.8,746.0 192.0,748.8 C187.2,751.6 180.9,753.6 176.9,755.5 C172.9,757.4 169.5,759.2 168.0,760.0" fill="none" stroke="#7c7c7c" stroke-width="1.00"/>
<path d="M188.7,706.7 L175.2,729.0" fill="none" stroke="#9a9a9a" stroke-width="1.00"/>
<path d="M205.5,713.5 L175.2,729.0" fill="none" stroke="#9a9a9a" stroke-width="1.00"/>
<path d="M175.2,735.3 L205.5,735.3" fill="none" stroke="#9a9a9a" stroke-width="1.00"/>
<path d="M213.5,717.9 C214.4,717.0 216.8,714.0 219.0,712.3 C221.3,710.6 223.9,708.7 227.1,707.6 C230.3,706.5 232.6,705.9 238.1,705.8 C243.7,705.7 251.9,705.6 260.3,706.7 C268.6,707.8 279.5,709.7 288.0,712.5 C296.5,715.3 303.9,718.6 311.3,723.4 C318.8,728.2 327.2,735.5 332.9,741.1 C338.5,746.7 341.8,751.0 345.2,756.9 C348.7,762.8 351.7,770.4 353.7,776.4 C355.7,782.4 356.6,787.8 357.2,792.8 C357.8,797.7 358.0,800.4 357.4,806.3 C356.8,812.2 355.5,822.2 353.7,828.2 C351.9,834.3 349.7,838.0 346.5,842.8 C343.4,847.7 338.9,853.3 334.8,857.4 C330.6,861.5 326.6,864.8 321.8,867.2 C317.0,869.6 311.0,871.2 306.2,871.9 C301.4,872.6 296.8,872.0 293.1,871.2 C289.5,870.5 287.4,869.4 284.4,867.6 C281.3,865.7 278.0,862.0 274.8,860.0 C271.7,858.1 268.4,856.7 265.3,855.8 C262.2,854.9 259.0,854.5 256.0,854.5 C253.1,854.5 249.8,854.8 247.7,855.7 C245.5,856.6 245.1,858.7 243.2,860.0 C241.2,861.4 239.5,862.7 236.1,863.8 C232.7,864.9 226.5,865.9 222.8,866.4 C219.0,867.0 215.0,867.0 213.5,867.1" fill="none" stroke="#6e6e6e" stroke-width="1.15"/>
<path d="M263.1,706.9 L261.6,733.5" fill="none" stroke="#8a8a8a" stroke-width="0.90"/>
<path d="M253.2,706.1 L252.4,731.1" fill="none" stroke="#8a8a8a" stroke-width="0.90"/>
<path d="M240.6,705.9 L241.0,728.4" fill="none" stroke="#8a8a8a" stroke-width="0.90"/>
<path d="M288.0,712.5 L280.4,743.1" fill="none" stroke="#8a8a8a" stroke-width="0.90"/>
<path d="M311.3,723.4 L293.7,747.5" fill="none" stroke="#8a8a8a" stroke-width="0.90"/>
<path d="M332.9,741.1 L314.9,755.7" fill="none" stroke="#8a8a8a" stroke-width="0.90"/>
<path d="M345.2,756.9 L325.3,768.4" fill="none" stroke="#8a8a8a" stroke-width="0.90"/>
<path d="M354.2,780.1 L332.4,784.2" fill="none" stroke="#8a8a8a" stroke-width="0.90"/>
<path d="M357.2,792.8 L335.0,793.2" fill="none" stroke="#8a8a8a" stroke-width="0.90"/>
<path d="M357.3,801.4 L335.7,802.0" fill="none" stroke="#8a8a8a" stroke-width="0.90"/>
<path d="M356.2,811.2 L335.9,810.7" fill="none" stroke="#8a8a8a" stroke-width="0.90"/>
<path d="M354.3,820.3 L334.9,817.8" fill="none" stroke="#8a8a8a" stroke-width="0.90"/>
<path d="M348.4,838.7 L329.8,832.2" fill="none" stroke="#8a8a8a" stroke-width="0.90"/>
<path d="M334.8,857.4 L319.5,845.8" fill="none" stroke="#8a8a8a" stroke-width="0.90"/>
<path d="M321.8,867.2 L310.7,854.4" fill="none" stroke="#8a8a8a" stroke-width="0.90"/>
<path d="M237.4,737.5 L216.0,738.8" fill="none" stroke="#b0b0b0" stroke-width="0.90"/>
<path d="M213.6,717.9 C213.6,719.6 214.0,724.1 213.8,727.8 C213.6,731.5 212.0,736.4 212.5,740.1 C212.9,743.7 216.7,746.5 216.5,749.5 C216.3,752.4 212.2,756.5 211.4,757.9" fill="none" stroke="#7c7c7c" stroke-width="0.90"/>
<path d="M270.3,736.3 C268.6,735.4 263.9,732.1 260.3,731.1 C256.6,730.1 251.3,729.8 248.2,730.2 C245.1,730.6 242.9,731.7 241.7,733.5 C240.4,735.3 240.9,738.6 240.9,741.0 C240.9,743.3 241.5,746.5 241.7,747.6" fill="none" stroke="#5a5a5a" stroke-width="1.00"/>
<path d="M267.3,739.1 C265.8,738.4 261.3,735.7 258.2,734.9 C255.2,734.1 251.5,734.0 249.2,734.4 C246.9,734.8 245.5,735.8 244.7,737.2 C243.8,738.6 243.9,741.0 244.2,742.9 C244.4,744.8 245.8,747.6 246.2,748.5" fill="none" stroke="#9a9a9a" stroke-width="0.90"/>
<path d="M280.4,737.7 C278.4,737.6 272.3,736.8 268.3,737.0 C264.3,737.3 259.6,737.9 256.2,739.1 C252.9,740.3 250.7,742.6 248.2,744.3 C245.7,745.9 243.5,747.4 241.2,749.0 C238.8,750.6 235.3,752.9 234.1,753.7" fill="none" stroke="#a8a8a8" stroke-width="2.20"/>
<path d="M262.3,763.6 C260.9,763.0 257.2,761.2 254.2,760.3 C251.2,759.3 247.5,758.6 244.2,757.9 C240.8,757.3 235.8,756.8 234.1,756.5" fill="none" stroke="#7c7c7c" stroke-width="1.05"/>
<path d="M251.2,754.9 C249.7,754.5 244.8,754.2 242.2,754.4 C239.6,754.5 235.6,755.2 235.6,755.7 C235.6,756.2 239.6,757.1 242.2,757.3 C244.8,757.5 249.7,757.4 251.2,757.0 C252.7,756.6 252.7,755.4 251.2,754.9 Z" fill="#6a6a6a"/>
<path d="M280.4,773.9 C279.0,773.1 275.7,770.6 272.3,769.2 C269.0,767.8 264.3,766.2 260.3,765.5 C256.2,764.7 250.2,764.7 248.2,764.5" fill="none" stroke="#9a9a9a" stroke-width="1.00"/>
<path d="M314.0,856.2 C312.9,854.0 308.4,854.1 304.5,853.6 C300.6,853.0 294.6,852.5 290.4,853.0 C286.2,853.5 281.5,855.1 279.4,856.8 C277.2,858.4 276.4,861.0 277.6,862.9 C278.7,864.8 282.6,866.7 286.4,868.0 C290.2,869.4 296.5,871.1 300.5,870.9 C304.5,870.6 308.3,869.1 310.5,866.6 C312.8,864.2 315.0,858.4 314.0,856.2 Z" fill="none" stroke="#7c7c7c" stroke-width="1.05"/>
<path d="M316.6,841.7 C315.4,842.0 312.2,842.3 309.5,843.6 C306.8,844.8 302.8,847.0 300.5,849.2 C298.1,851.4 296.3,855.5 295.5,856.8" fill="none" stroke="#9a9a9a" stroke-width="1.00"/>
<path d="M307.5,852.0 C307.0,853.1 305.0,856.0 304.5,858.6 C304.0,861.3 304.5,866.5 304.5,868.0" fill="none" stroke="#9a9a9a" stroke-width="1.00"/>
<path d="M294.3,849.5 C294.5,850.0 295.1,850.4 295.8,850.6 C296.6,850.9 297.6,850.9 298.7,850.8 C299.8,850.7 301.1,850.4 302.3,850.1 C303.5,849.7 304.9,849.1 306.0,848.5 C307.1,847.8 308.2,847.1 308.9,846.4 C309.7,845.7 310.3,844.9 310.6,844.2 C310.9,843.5 310.9,842.8 310.7,842.4 C310.4,841.9 309.9,841.4 309.1,841.2 C308.4,841.0 307.4,840.9 306.3,841.0 C305.2,841.1 303.9,841.4 302.7,841.8 C301.4,842.2 300.1,842.8 299.0,843.4 C297.9,844.0 296.8,844.8 296.0,845.5 C295.3,846.2 294.7,847.0 294.4,847.7 C294.1,848.3 294.0,849.0 294.3,849.5 Z" fill="none" stroke="#9a9a9a" stroke-width="1.00"/>
<path d="M290.4,853.0 C289.9,854.2 287.6,857.7 287.4,860.5 C287.2,863.3 289.1,868.4 289.4,869.9" fill="none" stroke="#9a9a9a" stroke-width="1.00"/>
<path d="M252.1,731.0 C254.0,731.5 259.8,732.8 263.4,734.0 C267.1,735.2 270.8,736.9 273.7,738.5 C276.7,740.1 278.6,742.2 281.0,743.5 C283.3,744.8 284.4,745.0 287.9,746.0 C291.3,747.0 297.1,748.0 301.6,749.5 C306.0,751.0 310.2,751.7 314.4,755.2 C318.6,758.7 323.5,764.5 326.9,770.3 C330.3,776.1 333.2,783.7 334.7,790.0 C336.3,796.3 336.4,802.5 336.3,808.3 C336.1,814.1 335.7,819.7 333.9,825.0 C332.1,830.3 329.4,835.2 325.3,840.2 C321.3,845.2 314.9,851.0 309.7,855.3 C304.5,859.6 296.6,864.2 294.0,866.0" fill="none" stroke="#7c7c7c" stroke-width="1.00"/>
<path d="M251.5,733.1 C253.4,733.6 259.2,734.9 262.7,736.1 C266.2,737.3 269.8,738.9 272.6,740.4 C275.5,742.0 277.4,744.1 279.9,745.4 C282.3,746.7 283.7,747.1 287.2,748.1 C290.7,749.1 296.5,750.1 300.8,751.6 C305.1,753.0 308.9,753.6 313.0,756.9 C317.0,760.2 321.7,765.8 324.9,771.4 C328.2,777.0 331.0,784.4 332.5,790.5 C334.0,796.7 334.1,802.6 334.0,808.2 C333.9,813.9 333.5,819.2 331.7,824.3 C330.0,829.4 327.5,834.0 323.6,838.9 C319.6,843.7 313.4,849.4 308.2,853.6 C303.1,857.8 295.3,862.4 292.7,864.2" fill="none" stroke="#b8b8b8" stroke-width="3.00"/>
<path d="M281.5,750.3 C284.4,751.1 293.3,752.9 298.8,755.2 C304.3,757.5 310.0,760.2 314.4,764.3 C318.9,768.3 322.5,773.9 325.3,779.5 C328.2,785.1 330.7,791.1 331.6,797.7 C332.5,804.3 332.1,812.8 330.8,818.9 C329.5,825.0 327.3,829.3 323.8,834.1 C320.3,838.9 314.9,843.7 309.7,847.7 C304.5,851.8 297.2,855.4 292.5,858.4 C287.8,861.4 283.4,864.7 281.6,866.0" fill="none" stroke="#3c3c3c" stroke-width="2.00"/>
<path d="M280.7,753.0 C283.5,753.8 292.3,755.5 297.6,757.8 C302.9,760.0 308.3,762.5 312.4,766.3 C316.6,770.2 320.0,775.5 322.8,780.8 C325.5,786.0 327.9,791.8 328.8,798.1 C329.6,804.3 329.2,812.6 328.0,818.3 C326.8,824.1 324.8,827.9 321.4,832.5 C318.1,837.0 310.1,843.3 307.9,845.5" fill="none" stroke="#6a6a6a" stroke-width="0.90"/>
<path d="M330.8,818.9 C330.2,821.6 327.3,829.3 323.8,834.1 C320.3,838.9 314.9,843.7 309.7,847.7 C304.5,851.8 297.2,855.4 292.5,858.4 C287.8,861.4 283.8,864.7 281.6,866.0 C279.3,867.3 278.7,866.7 278.9,866.0 C279.1,865.3 279.8,864.2 283.0,861.8 C286.3,859.3 293.4,855.2 298.5,851.3 C303.5,847.4 309.4,842.3 313.4,838.2 C317.4,834.1 320.3,829.9 322.7,826.5 C325.0,823.1 326.1,819.3 327.5,818.0 C328.9,816.7 331.4,816.2 330.8,818.9 Z" fill="#606060"/>
<path d="M327.5,818.0 C326.7,819.4 325.0,823.1 322.7,826.5 C320.3,829.9 317.4,834.1 313.4,838.2 C309.4,842.3 303.5,847.4 298.5,851.3 C293.4,855.2 286.3,859.3 283.0,861.8 C279.8,864.2 279.6,865.3 278.9,866.0" fill="none" stroke="#444" stroke-width="1.00"/>
<path d="M333.2,820.0 C332.0,822.6 329.6,830.6 326.0,835.6 C322.3,840.6 316.7,845.6 311.4,849.7 C306.0,853.9 298.7,857.5 294.0,860.6 C289.3,863.6 284.9,866.9 283.1,868.1" fill="none" stroke="#555" stroke-width="1.00"/>
<path d="M280.0,755.1 C282.8,755.9 291.6,757.6 296.7,759.8 C301.9,761.9 306.9,764.3 310.9,767.9 C314.9,771.6 318.1,776.7 320.7,781.7 C323.3,786.8 325.7,792.3 326.5,798.4 C327.4,804.4 326.9,812.4 325.8,817.9 C324.6,823.4 322.8,826.9 319.6,831.2 C316.4,835.5 311.5,840.0 306.5,843.8 C301.5,847.6 292.4,852.5 289.6,854.2" fill="none" stroke="#7c7c7c" stroke-width="1.05"/>
<path d="M294.6,764.4 C296.8,765.6 303.8,768.3 307.4,771.6 C310.9,774.8 313.8,779.4 316.1,784.0 C318.5,788.5 320.7,793.6 321.4,799.0 C322.2,804.5 321.7,812.0 320.7,816.9 C319.7,821.7 318.3,824.5 315.4,828.3 C312.5,832.1 308.0,836.3 303.3,839.9 C298.5,843.5 289.5,848.4 286.8,850.1" fill="none" stroke="#7c7c7c" stroke-width="1.05"/>
<path d="M303.8,775.2 C305.1,777.1 309.4,782.1 311.5,786.2 C313.6,790.3 315.6,794.8 316.3,799.7 C317.0,804.6 316.5,811.6 315.7,815.8 C314.8,820.1 313.8,822.0 311.2,825.4 C308.6,828.8 301.9,834.2 300.0,836.0" fill="none" stroke="#9a9a9a" stroke-width="1.00"/>
<path d="M269.8,763.5 C272.0,765.1 278.8,770.0 283.1,773.4 C287.4,776.8 292.9,781.0 295.7,784.0 C298.4,787.0 298.8,788.3 299.6,791.6 C300.4,794.9 300.7,800.2 300.3,803.7 C299.9,807.2 299.0,810.0 297.2,812.8 C295.4,815.6 292.3,817.1 289.4,820.4 C286.5,823.7 282.6,827.8 280.0,832.6 C277.4,837.4 275.6,845.0 273.7,849.3 C271.9,853.6 269.9,856.9 269.1,858.4" fill="none" stroke="#333" stroke-width="2.20"/>
<path d="M269.2,762.3 C271.5,763.5 280.9,770.5 283.1,771.8 C285.4,773.1 282.7,769.5 282.7,770.0 C282.7,770.5 285.4,775.7 283.1,774.8 C280.9,773.9 271.5,766.8 269.2,764.7 C266.9,762.6 266.9,761.1 269.2,762.3 Z" fill="#333"/>
<path d="M291.8,783.0 C292.4,784.8 294.9,789.8 295.4,793.5 C295.8,797.2 295.8,801.8 294.5,805.5 C293.3,809.2 289.0,814.2 287.9,815.9" fill="none" stroke="#3a3a3a" stroke-width="1.80"/>
<path d="M280.5,776.5 C282.5,778.2 290.1,784.0 292.6,786.6 C295.1,789.3 295.0,789.7 295.6,792.5 C296.2,795.3 296.5,800.2 296.2,803.3 C295.9,806.3 295.4,808.2 293.7,810.7 C292.1,813.1 289.1,814.5 286.3,817.8 C283.4,821.2 279.1,825.7 276.4,830.7 C273.7,835.7 271.8,843.5 269.9,847.8 C268.1,852.1 266.2,855.2 265.4,856.6" fill="none" stroke="#9a9a9a" stroke-width="1.00"/>
<path d="M299.2,781.0 C300.0,782.6 303.2,786.7 304.1,790.6 C305.1,794.5 305.4,800.1 304.9,804.2 C304.4,808.3 303.1,812.0 301.1,815.2 C299.1,818.4 295.8,820.1 292.9,823.3 C290.1,826.5 286.6,830.1 284.1,834.7 C281.6,839.3 279.8,846.7 278.0,851.0 C276.2,855.3 274.1,858.8 273.3,860.4" fill="none" stroke="#7c7c7c" stroke-width="1.05"/>
<path d="M269.9,771.2 C271.5,773.5 276.6,780.0 279.6,784.7 C282.6,789.4 286.8,794.3 288.0,799.5 C289.1,804.7 287.8,810.5 286.6,815.7 C285.5,820.9 282.8,825.0 281.0,830.6 C279.1,836.2 277.1,845.0 275.5,849.5 C273.9,854.0 272.0,856.2 271.3,857.6" fill="none" stroke="#7c7c7c" stroke-width="1.05"/>
<path d="M270.6,799.0 C270.6,800.3 270.8,801.7 271.3,802.9 C271.8,804.1 272.6,805.2 273.5,806.0 C274.3,806.8 275.5,807.5 276.6,807.8 C277.6,808.1 278.9,808.1 280.0,807.8 C281.1,807.5 282.2,806.8 283.1,806.0 C284.0,805.2 284.8,804.1 285.2,802.9 C285.7,801.7 286.0,800.3 286.0,799.0 C286.0,797.7 285.7,796.3 285.2,795.1 C284.8,793.9 284.0,792.8 283.1,792.0 C282.2,791.2 281.1,790.5 280.0,790.2 C278.9,789.9 277.6,789.9 276.6,790.2 C275.5,790.5 274.3,791.2 273.5,792.0 C272.6,792.8 271.8,793.9 271.3,795.1 C270.8,796.3 270.6,797.7 270.6,799.0 Z" fill="none" stroke="#7c7c7c" stroke-width="1.05"/>
<path d="M238.8,830.6 C239.1,831.1 239.8,831.5 240.9,831.6 C241.9,831.6 243.2,831.5 244.8,831.1 C246.3,830.7 248.2,830.1 250.1,829.3 C252.0,828.6 254.1,827.5 256.2,826.4 C258.2,825.3 260.3,824.0 262.2,822.8 C264.1,821.5 266.0,820.1 267.6,818.7 C269.1,817.4 270.5,816.1 271.5,814.9 C272.6,813.7 273.3,812.5 273.7,811.6 C274.0,810.7 274.0,809.9 273.7,809.4 C273.4,808.9 272.6,808.5 271.6,808.4 C270.6,808.4 269.2,808.5 267.7,808.9 C266.1,809.3 264.3,809.9 262.4,810.7 C260.5,811.4 258.3,812.5 256.3,813.6 C254.3,814.7 252.2,816.0 250.2,817.2 C248.3,818.5 246.5,819.9 244.9,821.3 C243.4,822.6 241.9,823.9 240.9,825.1 C239.9,826.3 239.2,827.5 238.8,828.4 C238.4,829.3 238.4,830.1 238.8,830.6 Z" fill="none" stroke="#7c7c7c" stroke-width="1.05"/>
<path d="M242.8,845.1 C243.3,846.7 244.4,848.2 245.6,849.4 C246.9,850.6 248.5,851.6 250.2,852.3 C252.0,852.9 254.0,853.3 255.9,853.2 C257.9,853.2 260.0,852.9 261.8,852.2 C263.7,851.6 265.6,850.5 267.1,849.3 C268.5,848.1 269.9,846.6 270.8,845.0 C271.7,843.4 272.3,841.6 272.4,839.9 C272.6,838.2 272.4,836.4 271.8,834.9 C271.2,833.3 270.2,831.8 268.9,830.6 C267.7,829.4 266.0,828.4 264.3,827.7 C262.6,827.1 260.5,826.7 258.6,826.8 C256.7,826.8 254.5,827.1 252.7,827.8 C250.8,828.4 249.0,829.5 247.5,830.7 C246.0,831.9 244.7,833.4 243.8,835.0 C242.9,836.6 242.3,838.4 242.1,840.1 C241.9,841.8 242.2,843.6 242.8,845.1 Z" fill="none" stroke="#9a9a9a" stroke-width="1.00"/>
<path d="M272.7,764.0 C271.2,764.7 266.9,766.7 263.4,768.0 C260.0,769.3 254.0,771.3 252.1,772.0" fill="none" stroke="#9a9a9a" stroke-width="1.00"/>
<path d="M213.5,813.0 L222.3,832.0 L229.5,850.5" fill="none" stroke="#7c7c7c" stroke-width="1.05"/>
<path d="M213.5,838.0 C214.2,838.8 216.7,840.4 217.6,842.5 C218.5,844.6 218.6,849.2 218.8,850.5" fill="none" stroke="#9a9a9a" stroke-width="1.00"/>
<path d="M225.8,839.9 C226.2,840.4 227.0,840.6 228.1,840.6 C229.2,840.5 230.8,840.1 232.5,839.5 C234.2,838.9 236.3,837.9 238.3,836.8 C240.3,835.7 242.6,834.3 244.7,832.9 C246.7,831.5 248.8,829.9 250.6,828.5 C252.3,827.0 254.0,825.4 255.2,824.1 C256.3,822.7 257.3,821.4 257.7,820.4 C258.2,819.4 258.2,818.6 257.8,818.1 C257.5,817.6 256.7,817.4 255.5,817.4 C254.4,817.5 252.9,817.9 251.1,818.5 C249.4,819.1 247.4,820.1 245.3,821.2 C243.3,822.3 241.0,823.7 239.0,825.1 C236.9,826.5 234.8,828.1 233.1,829.5 C231.3,831.0 229.7,832.6 228.5,833.9 C227.3,835.3 226.4,836.6 225.9,837.6 C225.5,838.6 225.4,839.4 225.8,839.9 Z" fill="none" stroke="#7c7c7c" stroke-width="1.05"/>
<path d="M229.5,852.9 L213.5,852.9" fill="none" stroke="#9a9a9a" stroke-width="1.00"/>
<path d="M258.3,812.0 C256.6,813.0 251.4,815.7 248.0,818.0 C244.6,820.3 241.0,823.0 237.7,826.0 C234.4,829.0 230.0,834.3 228.4,836.0" fill="none" stroke="#9a9a9a" stroke-width="1.00"/>
<path d="M255.2,782.1 C254.6,780.1 253.8,773.5 251.6,770.0 C249.4,766.5 245.5,763.1 241.8,761.0 C238.1,758.9 234.0,758.0 229.3,757.3 C224.5,756.6 216.1,756.7 213.5,756.6" fill="none" stroke="#7c7c7c" stroke-width="1.05"/>
<path d="M243.3,780.0 C242.3,778.6 240.3,773.6 237.7,771.5 C235.1,769.4 231.4,768.4 227.4,767.5 C223.4,766.6 215.8,766.2 213.5,766.0" fill="none" stroke="#7c7c7c" stroke-width="1.05"/>
<path d="M233.6,782.0 C232.4,781.0 229.7,777.5 226.4,776.0 C223.0,774.5 215.6,773.5 213.5,773.0" fill="none" stroke="#9a9a9a" stroke-width="1.00"/>
<path d="M241.8,761.0 L234.6,772.0" fill="none" stroke="#9a9a9a" stroke-width="1.00"/>
<path d="M252.1,752.0 L241.8,761.0" fill="none" stroke="#9a9a9a" stroke-width="1.00"/>
<path d="M264.5,783.0 C262.9,781.8 258.8,781.0 256.2,781.5 C253.7,782.0 250.5,783.8 249.2,786.0 C247.9,788.2 248.0,791.9 248.5,795.0 C249.0,798.1 250.2,802.8 252.1,804.5 C254.0,806.2 257.7,806.5 259.8,805.4 C262.0,804.3 264.2,800.7 265.2,798.0 C266.2,795.3 265.8,791.5 265.7,789.0 C265.6,786.5 266.1,784.2 264.5,783.0 Z" fill="none" stroke="#7c7c7c" stroke-width="1.05"/>
<path d="M213.5,772.4 C214.6,772.6 218.3,772.7 220.2,773.5 C222.1,774.3 223.9,775.2 224.8,777.0 C225.8,778.8 225.7,782.8 225.9,784.0" fill="none" stroke="#7c7c7c" stroke-width="1.05"/>
<path d="M220.2,778.2 L213.5,778.2" fill="none" stroke="#5a5a5a" stroke-width="1.10"/>
<path d="M213.5,778.2 L213.5,795.7" fill="none" stroke="#444" stroke-width="1.00"/>
<path d="M220.2,803.4 C220.2,804.1 220.4,805.0 220.7,805.6 C221.1,806.3 221.7,806.9 222.3,807.3 C222.8,807.7 223.6,807.9 224.3,807.9 C225.0,807.9 225.8,807.7 226.4,807.3 C227.0,806.9 227.5,806.3 227.9,805.6 C228.2,805.0 228.4,804.1 228.4,803.4 C228.4,802.6 228.2,801.8 227.9,801.1 C227.5,800.5 227.0,799.9 226.4,799.5 C225.8,799.1 225.0,798.9 224.3,798.9 C223.6,798.9 222.8,799.1 222.3,799.5 C221.7,799.9 221.1,800.5 220.7,801.1 C220.4,801.8 220.2,802.6 220.2,803.4 Z" fill="none" stroke="#7c7c7c" stroke-width="1.05"/>
<path d="M243.9,810.0 C242.3,808.5 238.1,808.6 235.6,809.3 C233.2,810.0 230.2,811.7 229.3,814.0 C228.3,816.3 228.9,820.5 230.0,823.0 C231.0,825.5 233.5,828.2 235.6,828.7 C237.8,829.2 241.3,827.8 242.9,826.0 C244.4,824.2 245.0,820.7 245.2,818.0 C245.4,815.3 245.5,811.5 243.9,810.0 Z" fill="none" stroke="#7c7c7c" stroke-width="1.05"/>
<path d="M231.0,822.0 C231.0,822.6 231.3,823.3 231.8,823.8 C232.3,824.2 233.1,824.7 233.9,824.9 C234.6,825.0 235.6,825.0 236.4,824.9 C237.2,824.7 238.0,824.2 238.5,823.8 C238.9,823.3 239.2,822.6 239.2,822.0 C239.2,821.4 238.9,820.7 238.5,820.2 C238.0,819.8 237.2,819.3 236.4,819.1 C235.6,819.0 234.6,819.0 233.9,819.1 C233.1,819.3 232.3,819.8 231.8,820.2 C231.3,820.7 231.0,821.4 231.0,822.0 Z" fill="none" stroke="#9a9a9a" stroke-width="1.00"/>
<path d="M218.3,838.4 C218.3,839.2 218.6,840.1 219.1,840.8 C219.5,841.4 220.3,842.0 221.0,842.2 C221.8,842.4 222.7,842.4 223.5,842.2 C224.2,842.0 225.0,841.4 225.4,840.8 C225.9,840.1 226.2,839.2 226.2,838.4 C226.2,837.6 225.9,836.7 225.4,836.0 C225.0,835.4 224.2,834.8 223.5,834.6 C222.7,834.4 221.8,834.4 221.0,834.6 C220.3,834.8 219.5,835.4 219.1,836.0 C218.6,836.7 218.3,837.6 218.3,838.4 Z" fill="none" stroke="#7c7c7c" stroke-width="1.05"/>
<path d="M210.4,845.0 C210.4,845.6 210.6,846.3 211.0,846.8 C211.4,847.2 212.0,847.7 212.5,847.9 C213.1,848.0 213.9,848.0 214.5,847.9 C215.0,847.7 215.6,847.2 216.0,846.8 C216.4,846.3 216.6,845.6 216.6,845.0 C216.6,844.4 216.4,843.7 216.0,843.2 C215.6,842.8 215.0,842.3 214.5,842.1 C213.9,842.0 213.1,842.0 212.5,842.1 C212.0,842.3 211.4,842.8 211.0,843.2 C210.6,843.7 210.4,844.4 210.4,845.0 Z" fill="none" stroke="#9a9a9a" stroke-width="1.00"/>
<path d="M213.5,800.0 C214.1,802.5 216.8,810.0 217.1,815.0 C217.4,820.0 215.4,827.5 215.0,830.0" fill="none" stroke="#9a9a9a" stroke-width="1.00"/>
<path d="M276.8,812.0 C274.5,807.5 268.6,808.0 263.4,808.0 C258.3,808.0 250.3,808.3 245.9,812.0 C241.6,815.7 238.2,824.0 237.2,830.0 C236.2,836.0 237.1,843.7 239.8,848.0 C242.4,852.3 248.3,855.3 253.1,856.0 C258.0,856.7 264.6,855.5 268.6,852.0 C272.6,848.5 275.9,841.7 277.2,835.0 C278.6,828.3 279.1,816.5 276.8,812.0 Z" fill="none" stroke="#7c7c7c" stroke-width="1.05"/>
<path d="M276.8,800.0 C275.5,801.3 272.5,806.0 268.6,808.0 C264.6,810.0 255.7,811.3 253.1,812.0" fill="none" stroke="#9a9a9a" stroke-width="1.00"/>
<path d="M270.7,830.0 C268.9,831.7 264.5,837.3 260.4,840.0 C256.2,842.7 248.3,845.0 245.9,846.0" fill="none" stroke="#9a9a9a" stroke-width="1.00"/>
<path d="M213.5,853.9 C215.8,853.9 223.8,853.8 227.4,854.0 C231.0,854.2 234.0,853.7 235.2,855.0 C236.4,856.3 234.9,859.6 234.6,862.0 C234.3,864.4 236.8,868.1 233.3,869.4 C229.8,870.7 216.8,869.7 213.5,869.8" fill="none" stroke="#5a5a5a" stroke-width="1.05"/>
<path d="M221.2,857.0 L221.2,868.0" fill="none" stroke="#9a9a9a" stroke-width="1.00"/>
<path d="M213.5,720.0 C213.5,723.3 213.5,733.9 213.5,740.0 C213.5,746.1 213.5,754.1 213.5,756.9" fill="none" stroke="#7c7c7c" stroke-width="1.05"/>
<path d="M245.9,752.0 L213.5,757.0" fill="none" stroke="#9a9a9a" stroke-width="1.00"/>
<path d="M214.0,718.0 C214.4,720.0 215.3,726.8 216.6,730.3 C217.9,733.8 218.6,735.6 221.7,738.7 C224.9,741.8 230.7,746.0 235.6,748.8 C240.6,751.6 247.1,753.6 251.2,755.5 C255.3,757.4 258.8,759.2 260.4,760.0" fill="none" stroke="#7c7c7c" stroke-width="1.00"/>
<path d="M239.0,706.7 L252.9,729.0" fill="none" stroke="#9a9a9a" stroke-width="1.00"/>
<path d="M221.7,713.5 L252.9,729.0" fill="none" stroke="#9a9a9a" stroke-width="1.00"/>
<path d="M252.9,735.3 L221.7,735.3" fill="none" stroke="#9a9a9a" stroke-width="1.00"/>
<circle cx="131.1" cy="789.4" r="1.85" fill="#0a0a0a"/>
<circle cx="124.5" cy="796.8" r="1.85" fill="#0a0a0a"/>
<circle cx="109.7" cy="799.3" r="1.85" fill="#0a0a0a"/>
<circle cx="120.0" cy="805.6" r="1.85" fill="#0a0a0a"/>
<circle cx="114.4" cy="813.9" r="1.85" fill="#0a0a0a"/>
<circle cx="298.7" cy="789.0" r="1.85" fill="#0a0a0a"/>
<circle cx="294.8" cy="794.8" r="1.85" fill="#0a0a0a"/>
<circle cx="306.9" cy="801.7" r="1.85" fill="#0a0a0a"/>
<circle cx="292.5" cy="809.4" r="1.85" fill="#0a0a0a"/>
</g>
<g>
<path d="M531.4,716.8 C530.5,715.9 528.3,712.9 526.1,711.1 C523.9,709.4 521.5,707.5 518.4,706.4 C515.4,705.3 513.1,704.7 507.8,704.6 C502.5,704.5 494.6,704.4 486.7,705.5 C478.7,706.7 468.3,708.5 460.1,711.3 C452.0,714.1 445.0,717.5 437.8,722.3 C430.7,727.1 422.6,734.5 417.2,740.1 C411.8,745.8 408.7,750.1 405.4,756.1 C402.1,762.0 399.2,769.7 397.3,775.7 C395.4,781.7 394.5,787.2 394.0,792.2 C393.4,797.2 393.2,799.9 393.8,805.8 C394.3,811.8 395.6,821.8 397.3,827.9 C399.1,834.1 401.1,837.7 404.1,842.6 C407.2,847.5 411.5,853.2 415.4,857.3 C419.3,861.4 423.3,864.7 427.8,867.2 C432.4,869.6 438.2,871.2 442.7,871.9 C447.3,872.6 451.7,872.0 455.2,871.2 C458.7,870.5 460.7,869.4 463.6,867.5 C466.5,865.7 469.7,861.9 472.7,860.0 C475.8,858.0 478.9,856.6 481.9,855.7 C484.9,854.8 487.9,854.4 490.7,854.4 C493.5,854.4 496.6,854.7 498.7,855.6 C500.7,856.5 501.2,858.6 503.0,860.0 C504.9,861.3 506.5,862.7 509.8,863.8 C513.0,864.8 518.9,865.9 522.6,866.4 C526.2,867.0 529.9,867.0 531.4,867.1" fill="none" stroke="#6e6e6e" stroke-width="1.15"/>
<path d="M484.0,705.7 L485.5,734.5" fill="none" stroke="#8a8a8a" stroke-width="0.90"/>
<path d="M493.4,704.9 L494.2,729.2" fill="none" stroke="#8a8a8a" stroke-width="0.90"/>
<path d="M505.4,704.7 L505.1,727.3" fill="none" stroke="#8a8a8a" stroke-width="0.90"/>
<path d="M460.1,711.3 L467.2,741.5" fill="none" stroke="#8a8a8a" stroke-width="0.90"/>
<path d="M437.8,722.3 L456.4,749.0" fill="none" stroke="#8a8a8a" stroke-width="0.90"/>
<path d="M417.2,740.1 L436.9,757.0" fill="none" stroke="#8a8a8a" stroke-width="0.90"/>
<path d="M405.4,756.1 L423.6,767.2" fill="none" stroke="#8a8a8a" stroke-width="0.90"/>
<path d="M396.8,779.4 L414.9,783.0" fill="none" stroke="#8a8a8a" stroke-width="0.90"/>
<path d="M394.0,792.2 L412.8,792.5" fill="none" stroke="#8a8a8a" stroke-width="0.90"/>
<path d="M393.9,800.9 L412.1,801.4" fill="none" stroke="#8a8a8a" stroke-width="0.90"/>
<path d="M394.9,810.8 L412.3,810.3" fill="none" stroke="#8a8a8a" stroke-width="0.90"/>
<path d="M396.7,820.0 L413.2,817.7" fill="none" stroke="#8a8a8a" stroke-width="0.90"/>
<path d="M402.3,838.4 L418.1,832.7" fill="none" stroke="#8a8a8a" stroke-width="0.90"/>
<path d="M415.4,857.3 L428.3,847.0" fill="none" stroke="#8a8a8a" stroke-width="0.90"/>
<path d="M427.8,867.2 L437.5,855.4" fill="none" stroke="#8a8a8a" stroke-width="0.90"/>
<path d="M508.5,736.5 L529.0,737.9" fill="none" stroke="#b0b0b0" stroke-width="0.90"/>
<path d="M531.3,716.8 C531.3,718.5 530.9,723.1 531.1,726.8 C531.3,730.5 532.8,735.5 532.4,739.1 C531.9,742.7 528.3,745.6 528.5,748.6 C528.7,751.6 532.6,755.7 533.4,757.1" fill="none" stroke="#7c7c7c" stroke-width="0.90"/>
<path d="M477.1,735.3 C478.7,734.4 483.1,731.1 486.7,730.1 C490.2,729.1 495.3,728.8 498.2,729.1 C501.2,729.5 503.3,730.6 504.5,732.5 C505.6,734.3 505.2,737.7 505.2,740.0 C505.2,742.4 504.6,745.6 504.5,746.7" fill="none" stroke="#5a5a5a" stroke-width="1.00"/>
<path d="M479.9,738.2 C481.4,737.4 485.7,734.7 488.6,733.9 C491.5,733.1 495.1,733.0 497.3,733.4 C499.4,733.8 500.8,734.8 501.6,736.3 C502.4,737.7 502.3,740.0 502.1,741.9 C501.8,743.8 500.5,746.7 500.1,747.6" fill="none" stroke="#9a9a9a" stroke-width="0.90"/>
<path d="M467.4,736.7 C469.4,736.6 475.1,735.8 479.0,736.1 C482.8,736.3 487.3,736.9 490.5,738.2 C493.7,739.4 495.8,741.7 498.2,743.4 C500.6,745.0 502.7,746.5 504.9,748.1 C507.2,749.7 510.6,752.1 511.7,752.8" fill="none" stroke="#a8a8a8" stroke-width="2.20"/>
<path d="M484.8,762.8 C486.0,762.2 489.6,760.4 492.4,759.5 C495.3,758.5 498.9,757.7 502.1,757.1 C505.3,756.5 510.1,755.9 511.7,755.7" fill="none" stroke="#7c7c7c" stroke-width="1.05"/>
<path d="M495.3,754.1 C496.8,753.6 501.5,753.4 504.0,753.5 C506.5,753.6 510.2,754.3 510.2,754.8 C510.2,755.3 506.5,756.2 504.0,756.4 C501.5,756.7 496.8,756.6 495.3,756.2 C493.9,755.8 493.9,754.5 495.3,754.1 Z" fill="#6a6a6a"/>
<path d="M467.4,773.2 C468.7,772.4 471.9,769.9 475.1,768.5 C478.3,767.1 482.8,765.5 486.7,764.7 C490.5,763.9 496.3,763.9 498.2,763.7" fill="none" stroke="#9a9a9a" stroke-width="1.00"/>
<path d="M435.3,856.1 C436.3,853.9 440.6,854.0 444.4,853.4 C448.1,852.9 453.8,852.3 457.8,852.9 C461.8,853.4 466.3,855.0 468.4,856.6 C470.5,858.3 471.3,860.9 470.1,862.8 C469.0,864.7 465.3,866.7 461.7,868.0 C458.0,869.4 452.0,871.1 448.2,870.9 C444.4,870.6 440.7,869.1 438.6,866.6 C436.4,864.1 434.4,858.3 435.3,856.1 Z" fill="none" stroke="#7c7c7c" stroke-width="1.05"/>
<path d="M432.8,841.5 C433.9,841.8 437.0,842.1 439.5,843.4 C442.1,844.6 446.0,846.8 448.2,849.1 C450.4,851.3 452.2,855.4 453.0,856.6" fill="none" stroke="#9a9a9a" stroke-width="1.00"/>
<path d="M441.5,851.9 C441.9,853.0 443.9,855.9 444.4,858.5 C444.8,861.2 444.4,866.4 444.4,868.0" fill="none" stroke="#9a9a9a" stroke-width="1.00"/>
<path d="M454.1,849.3 C453.9,849.8 453.3,850.3 452.6,850.5 C451.9,850.7 450.9,850.8 449.9,850.7 C448.9,850.6 447.6,850.3 446.4,849.9 C445.3,849.5 444.0,848.9 442.9,848.3 C441.9,847.7 440.9,846.9 440.1,846.2 C439.4,845.5 438.8,844.7 438.5,844.0 C438.2,843.3 438.2,842.6 438.4,842.1 C438.7,841.6 439.2,841.2 439.9,841.0 C440.6,840.8 441.6,840.7 442.7,840.8 C443.7,840.9 445.0,841.2 446.1,841.6 C447.3,842.0 448.6,842.6 449.6,843.2 C450.7,843.8 451.7,844.6 452.4,845.3 C453.2,846.0 453.8,846.8 454.1,847.5 C454.3,848.2 454.4,848.9 454.1,849.3 Z" fill="none" stroke="#9a9a9a" stroke-width="1.00"/>
<path d="M457.8,852.9 C458.3,854.1 460.5,857.6 460.7,860.4 C460.9,863.3 459.1,868.3 458.8,869.9" fill="none" stroke="#9a9a9a" stroke-width="1.00"/>
<path d="M490.0,733.0 C488.0,733.7 482.0,735.5 478.0,737.0 C474.0,738.5 469.3,740.2 466.0,742.0 C462.7,743.8 460.5,746.3 458.0,748.0 C455.5,749.7 455.3,750.5 451.0,752.3 C446.7,754.1 437.4,755.5 432.2,758.6 C427.0,761.8 422.8,766.5 419.6,771.2 C416.5,775.9 414.6,781.1 413.3,786.9 C412.0,792.7 411.6,799.5 411.7,805.8 C411.8,812.1 412.5,819.1 414.1,824.6 C415.7,830.1 418.2,834.3 421.2,838.8 C424.2,843.3 428.3,847.7 432.2,851.4 C436.1,855.1 441.4,858.5 444.7,860.8 C448.0,863.1 450.8,864.3 452.0,865.0" fill="none" stroke="#7c7c7c" stroke-width="1.00"/>
<path d="M490.7,735.1 C488.7,735.7 482.7,737.6 478.8,739.1 C474.8,740.5 470.3,742.1 467.1,743.9 C463.8,745.7 461.8,748.1 459.2,749.8 C456.7,751.5 456.2,752.6 451.8,754.3 C447.5,756.1 438.4,757.5 433.3,760.5 C428.3,763.5 424.4,767.9 421.4,772.4 C418.4,776.9 416.7,781.8 415.4,787.4 C414.2,792.9 413.8,799.7 413.9,805.8 C414.0,811.9 414.7,818.7 416.2,824.0 C417.7,829.3 420.1,833.3 423.0,837.6 C425.9,841.9 429.9,846.2 433.7,849.8 C437.5,853.4 442.7,856.8 445.9,859.0 C449.2,861.2 451.9,862.4 453.1,863.1" fill="none" stroke="#b8b8b8" stroke-width="3.00"/>
<path d="M455.5,755.2 C452.4,756.6 441.8,759.8 436.9,763.3 C432.0,766.8 428.9,770.9 425.9,775.9 C422.9,780.9 420.2,787.4 418.8,793.2 C417.4,799.0 417.1,805.0 417.2,810.5 C417.3,816.0 417.9,821.5 419.6,826.2 C421.3,830.9 424.1,834.9 427.5,838.8 C430.9,842.7 436.1,846.4 440.0,849.8 C443.9,853.2 448.3,857.0 451.0,859.2 C453.7,861.4 455.2,862.4 456.0,863.0" fill="none" stroke="#3c3c3c" stroke-width="2.00"/>
<path d="M456.6,757.8 C453.6,759.1 443.2,762.3 438.5,765.6 C433.8,768.9 431.1,772.6 428.3,777.4 C425.5,782.1 422.9,788.4 421.5,793.9 C420.1,799.4 419.9,805.2 420.0,810.4 C420.1,815.7 420.6,820.8 422.2,825.2 C423.8,829.7 426.4,833.2 429.6,837.0 C432.9,840.7 439.8,845.9 441.8,847.7" fill="none" stroke="#6a6a6a" stroke-width="0.90"/>
<path d="M419.6,826.2 C420.7,828.0 424.1,834.9 427.5,838.8 C430.9,842.7 436.1,846.4 440.0,849.8 C443.9,853.2 448.3,857.0 451.0,859.2 C453.7,861.4 455.0,862.4 456.0,863.0 C457.0,863.6 457.4,863.4 457.0,863.0 C456.6,862.6 455.8,862.3 453.5,860.5 C451.2,858.7 446.7,855.3 443.0,852.3 C439.3,849.3 434.6,845.6 431.5,842.5 C428.4,839.4 425.9,835.9 424.2,833.5 C422.4,831.1 421.8,829.2 421.0,828.0 C420.2,826.8 418.5,824.4 419.6,826.2 Z" fill="#707070"/>
<path d="M421.0,828.0 C421.5,828.9 422.4,831.1 424.2,833.5 C425.9,835.9 428.4,839.4 431.5,842.5 C434.6,845.6 439.3,849.3 443.0,852.3 C446.7,855.3 451.2,858.7 453.5,860.5 C455.8,862.3 456.4,862.6 457.0,863.0" fill="none" stroke="#444" stroke-width="1.00"/>
<path d="M417.4,827.6 C418.8,829.7 422.0,836.5 425.5,840.5 C429.0,844.5 434.3,848.3 438.3,851.8 C442.3,855.2 446.7,859.0 449.3,861.2 C452.0,863.4 453.6,864.4 454.4,865.1" fill="none" stroke="#555" stroke-width="1.00"/>
<path d="M457.5,759.8 C454.5,761.1 444.3,764.3 439.8,767.4 C435.2,770.5 432.9,774.0 430.2,778.5 C427.5,783.0 425.0,789.1 423.6,794.4 C422.3,799.7 422.1,805.4 422.2,810.4 C422.3,815.4 422.8,820.3 424.3,824.5 C425.8,828.7 428.1,831.9 431.3,835.5 C434.4,839.1 439.5,842.7 443.3,846.0 C447.1,849.3 452.4,853.8 454.2,855.3" fill="none" stroke="#7c7c7c" stroke-width="1.05"/>
<path d="M442.6,771.5 C441.3,773.1 436.8,777.1 434.5,781.1 C432.1,785.1 429.7,790.8 428.5,795.6 C427.3,800.5 427.1,805.7 427.2,810.3 C427.3,814.8 427.7,819.1 429.0,822.8 C430.3,826.4 432.1,829.0 435.1,832.3 C438.0,835.5 442.8,839.0 446.6,842.2 C450.3,845.5 455.6,849.9 457.4,851.5" fill="none" stroke="#7c7c7c" stroke-width="1.05"/>
<path d="M438.7,783.7 C437.8,785.9 434.4,792.4 433.3,796.9 C432.3,801.3 432.1,806.1 432.2,810.1 C432.3,814.2 432.6,817.9 433.7,821.1 C434.8,824.2 436.2,826.1 438.8,829.0 C441.5,831.9 448.0,836.9 449.8,838.5" fill="none" stroke="#9a9a9a" stroke-width="1.00"/>
<path d="M474.6,767.2 C472.8,768.1 467.3,770.5 463.6,772.7 C459.9,774.9 455.2,778.0 452.6,780.6 C450.0,783.2 448.8,785.1 447.9,788.5 C447.0,791.9 446.6,797.3 447.1,801.0 C447.6,804.7 449.3,807.6 451.0,810.5 C452.7,813.4 454.9,814.6 457.3,818.3 C459.7,822.0 463.0,828.0 465.2,832.5 C467.4,837.0 469.4,841.7 470.7,845.1 C472.0,848.5 472.6,851.6 473.0,852.9" fill="none" stroke="#333" stroke-width="2.20"/>
<path d="M475.2,766.0 C473.3,766.5 465.6,770.2 463.6,771.1 C461.6,772.0 463.1,771.0 463.1,771.5 C463.1,772.0 461.6,774.6 463.6,774.1 C465.6,773.6 473.3,769.8 475.2,768.4 C477.1,767.1 477.1,765.5 475.2,766.0 Z" fill="#333"/>
<path d="M455.0,781.0 C454.4,782.8 452.0,788.2 451.5,792.0 C451.0,795.8 451.1,800.7 452.0,804.0 C452.9,807.3 456.2,810.7 457.0,812.0" fill="none" stroke="#3a3a3a" stroke-width="1.80"/>
<path d="M465.7,776.1 C464.0,777.3 457.8,781.2 455.4,783.4 C453.1,785.7 452.5,786.7 451.8,789.5 C451.0,792.4 450.6,797.3 451.1,800.4 C451.5,803.6 452.8,805.9 454.4,808.5 C456.0,811.1 458.3,812.4 460.7,816.1 C463.0,819.8 466.5,826.1 468.8,830.7 C471.1,835.3 473.1,840.2 474.4,843.7 C475.8,847.2 476.4,850.4 476.8,851.8" fill="none" stroke="#9a9a9a" stroke-width="1.00"/>
<path d="M449.4,777.4 C448.4,779.1 444.7,783.3 443.6,787.3 C442.4,791.4 442.0,797.4 442.6,801.6 C443.2,805.9 445.3,809.6 447.1,812.8 C448.9,816.0 451.2,817.1 453.5,820.7 C455.9,824.4 459.0,830.2 461.2,834.5 C463.3,838.8 465.2,843.4 466.5,846.7 C467.7,850.0 468.3,852.9 468.7,854.2" fill="none" stroke="#7c7c7c" stroke-width="1.05"/>
<path d="M530.8,717.5 C530.4,719.5 530.1,726.5 528.7,729.7 C527.3,732.9 526.2,734.1 522.6,736.7 C519.0,739.3 512.4,742.5 506.9,745.4 C501.4,748.3 493.6,751.8 489.5,754.1 C485.4,756.4 483.7,758.5 482.5,759.4" fill="none" stroke="#7c7c7c" stroke-width="1.00"/>
<path d="M512.2,705.2 L491.2,729.7" fill="none" stroke="#9a9a9a" stroke-width="1.00"/>
<path d="M522.6,712.2 L491.2,729.7" fill="none" stroke="#9a9a9a" stroke-width="1.00"/>
<path d="M531.4,749.1 C527.8,749.2 516.6,748.9 510.0,750.0 C503.4,751.1 496.7,753.0 492.0,755.5 C487.3,758.0 484.3,759.6 482.0,765.0 C479.7,770.4 478.6,780.5 478.3,788.0 C478.0,795.5 478.6,803.0 480.0,810.0 C481.4,817.0 484.2,824.0 487.0,830.0 C489.8,836.0 493.2,842.3 497.0,846.0 C500.8,849.7 507.8,851.0 510.0,852.0" fill="none" stroke="#7c7c7c" stroke-width="1.05"/>
<path d="M497.0,757.5 C499.4,756.0 505.5,756.6 510.0,756.9 C514.5,757.1 521.2,757.8 524.0,759.0 C526.8,760.2 527.1,761.8 526.8,764.0 C526.5,766.2 524.5,769.7 522.0,772.0 C519.5,774.3 515.7,776.3 512.0,778.0 C508.3,779.7 502.7,782.4 500.0,782.1 C497.3,781.8 496.6,778.7 495.8,776.0 C495.1,773.3 495.3,769.1 495.5,766.0 C495.7,762.9 494.6,759.0 497.0,757.5 Z" fill="none" stroke="#7c7c7c" stroke-width="1.05"/>
<path d="M531.4,772.0 C530.2,772.2 526.0,772.0 524.0,773.0 C522.0,774.0 520.3,776.0 519.5,778.0 C518.7,780.0 519.1,783.8 519.0,785.0" fill="none" stroke="#7c7c7c" stroke-width="1.05"/>
<path d="M525.0,778.0 L531.4,778.0" fill="none" stroke="#5a5a5a" stroke-width="1.00"/>
<path d="M531.4,776.3 L531.4,795.7" fill="none" stroke="#444" stroke-width="1.00"/>
<path d="M495.5,795.7 C495.5,797.1 495.2,798.6 494.7,799.8 C494.1,801.1 493.3,802.3 492.3,803.1 C491.3,804.0 490.1,804.7 488.9,805.0 C487.7,805.3 486.3,805.3 485.1,805.0 C483.9,804.7 482.7,804.0 481.7,803.1 C480.7,802.3 479.9,801.1 479.3,799.8 C478.8,798.6 478.5,797.1 478.5,795.7 C478.5,794.3 478.8,792.8 479.3,791.6 C479.9,790.3 480.7,789.1 481.7,788.3 C482.7,787.4 483.9,786.7 485.1,786.4 C486.3,786.1 487.7,786.1 488.9,786.4 C490.1,786.7 491.3,787.4 492.3,788.3 C493.3,789.1 494.1,790.3 494.7,791.6 C495.2,792.8 495.5,794.3 495.5,795.7 Z" fill="none" stroke="#7c7c7c" stroke-width="1.05"/>
<path d="M525.9,801.0 C525.6,801.9 525.2,802.9 524.6,803.6 C524.1,804.2 523.4,804.8 522.7,805.1 C522.0,805.4 521.2,805.5 520.6,805.3 C519.9,805.1 519.3,804.7 518.8,804.1 C518.4,803.5 518.1,802.6 517.9,801.8 C517.8,800.9 517.9,799.9 518.1,799.0 C518.4,798.1 518.8,797.1 519.4,796.4 C519.9,795.8 520.6,795.2 521.3,794.9 C522.0,794.6 522.8,794.5 523.4,794.7 C524.1,794.9 524.7,795.3 525.2,795.9 C525.6,796.5 525.9,797.4 526.1,798.2 C526.2,799.1 526.1,800.1 525.9,801.0 Z" fill="none" stroke="#7c7c7c" stroke-width="1.05"/>
<path d="M500.0,810.0 C502.0,808.4 506.8,807.8 510.0,808.5 C513.2,809.2 517.7,811.4 519.0,814.0 C520.3,816.6 519.5,821.5 518.0,824.0 C516.5,826.5 512.7,828.7 510.0,829.0 C507.3,829.3 504.0,827.8 502.0,826.0 C500.0,824.2 498.3,820.7 498.0,818.0 C497.7,815.3 498.0,811.6 500.0,810.0 Z" fill="none" stroke="#7c7c7c" stroke-width="1.05"/>
<path d="M513.0,823.0 C513.0,823.6 512.7,824.3 512.2,824.8 C511.8,825.2 511.0,825.7 510.2,825.9 C509.5,826.0 508.5,826.0 507.8,825.9 C507.0,825.7 506.2,825.2 505.8,824.8 C505.3,824.3 505.0,823.6 505.0,823.0 C505.0,822.4 505.3,821.7 505.8,821.2 C506.2,820.8 507.0,820.3 507.8,820.1 C508.5,820.0 509.5,820.0 510.2,820.1 C511.0,820.3 511.8,820.8 512.2,821.2 C512.7,821.7 513.0,822.4 513.0,823.0 Z" fill="none" stroke="#9a9a9a" stroke-width="1.00"/>
<path d="M531.4,800.0 C530.7,802.5 527.4,809.7 527.0,815.0 C526.6,820.3 528.7,829.2 529.0,832.0" fill="none" stroke="#9a9a9a" stroke-width="1.00"/>
<path d="M527.0,838.0 C527.0,838.9 526.7,839.9 526.2,840.6 C525.8,841.4 525.0,842.0 524.2,842.3 C523.5,842.6 522.5,842.6 521.8,842.3 C521.0,842.0 520.2,841.4 519.8,840.6 C519.3,839.9 519.0,838.9 519.0,838.0 C519.0,837.1 519.3,836.1 519.8,835.4 C520.2,834.6 521.0,834.0 521.8,833.7 C522.5,833.4 523.5,833.4 524.2,833.7 C525.0,834.0 525.8,834.6 526.2,835.4 C526.7,836.1 527.0,837.1 527.0,838.0 Z" fill="none" stroke="#9a9a9a" stroke-width="1.00"/>
<path d="M534.4,847.0 C534.4,847.7 534.2,848.5 533.8,849.1 C533.5,849.6 532.9,850.1 532.3,850.3 C531.8,850.5 531.0,850.5 530.5,850.3 C529.9,850.1 529.3,849.6 529.0,849.1 C528.6,848.5 528.4,847.7 528.4,847.0 C528.4,846.3 528.6,845.5 529.0,844.9 C529.3,844.4 529.9,843.9 530.5,843.7 C531.0,843.5 531.8,843.5 532.3,843.7 C532.9,843.9 533.5,844.4 533.8,844.9 C534.2,845.5 534.4,846.3 534.4,847.0 Z" fill="none" stroke="#9a9a9a" stroke-width="1.00"/>
<path d="M470.0,800.0 C471.3,802.0 475.3,807.8 478.0,812.0 C480.7,816.2 482.8,819.3 486.0,825.0 C489.2,830.7 495.2,842.5 497.0,846.0" fill="none" stroke="#9a9a9a" stroke-width="1.00"/>
<path d="M466.0,812.0 C468.0,815.0 473.7,824.5 478.0,830.0 C482.3,835.5 489.7,842.5 492.0,845.0" fill="none" stroke="#9a9a9a" stroke-width="1.00"/>
<path d="M531.4,855.8 C527.6,855.8 523.0,855.6 520.0,856.5 C517.0,857.4 513.9,859.3 513.2,861.0 C512.5,862.7 513.0,865.4 516.0,866.5 C519.0,867.6 526.3,867.5 531.4,867.5 C536.5,867.5 543.8,867.6 546.8,866.5 C549.8,865.4 550.3,862.7 549.6,861.0 C548.9,859.3 545.8,857.4 542.8,856.5 C539.8,855.6 535.2,855.8 531.4,855.8 Z" fill="none" stroke="#5a5a5a" stroke-width="1.05"/>
<path d="M476.4,772.5 C474.8,774.5 469.7,780.4 467.0,784.7 C464.3,789.0 461.3,793.2 460.2,798.2 C459.1,803.2 459.3,809.0 460.2,814.4 C461.1,819.8 463.8,825.2 465.6,830.6 C467.4,836.0 469.4,842.8 471.0,846.8 C472.6,850.8 474.3,853.5 475.0,854.9" fill="none" stroke="#7c7c7c" stroke-width="1.05"/>
<path d="M475.0,801.0 C475.0,802.1 474.7,803.3 474.3,804.3 C473.9,805.2 473.2,806.2 472.4,806.9 C471.6,807.5 470.5,808.1 469.6,808.3 C468.6,808.6 467.4,808.6 466.4,808.3 C465.5,808.1 464.4,807.5 463.6,806.9 C462.8,806.2 462.1,805.2 461.7,804.3 C461.3,803.3 461.0,802.1 461.0,801.0 C461.0,799.9 461.3,798.7 461.7,797.7 C462.1,796.8 462.8,795.8 463.6,795.1 C464.4,794.5 465.5,793.9 466.4,793.7 C467.4,793.4 468.6,793.4 469.6,793.7 C470.5,793.9 471.6,794.5 472.4,795.1 C473.2,795.8 473.9,796.8 474.3,797.7 C474.7,798.7 475.0,799.9 475.0,801.0 Z" fill="none" stroke="#7c7c7c" stroke-width="1.05"/>
<path d="M487.4,813.0 C487.4,813.6 487.0,814.2 486.3,814.7 C485.6,815.3 484.5,815.8 483.3,816.1 C482.0,816.5 480.4,816.8 478.8,816.9 C477.3,817.0 475.5,817.0 474.0,816.9 C472.4,816.8 470.8,816.5 469.5,816.1 C468.3,815.8 467.2,815.3 466.5,814.7 C465.8,814.2 465.4,813.6 465.4,813.0 C465.4,812.4 465.8,811.8 466.5,811.3 C467.2,810.7 468.3,810.2 469.5,809.9 C470.8,809.5 472.4,809.2 474.0,809.1 C475.5,809.0 477.3,809.0 478.8,809.1 C480.4,809.2 482.0,809.5 483.3,809.9 C484.5,810.2 485.6,810.7 486.3,811.3 C487.0,811.8 487.4,812.4 487.4,813.0 Z" fill="none" stroke="#7c7c7c" stroke-width="1.05"/>
<path d="M506.0,839.0 C506.0,841.0 505.5,843.2 504.7,845.1 C503.9,847.0 502.6,848.9 501.0,850.3 C499.5,851.8 497.5,853.0 495.5,853.8 C493.5,854.6 491.2,855.0 489.0,855.0 C486.8,855.0 484.5,854.6 482.5,853.8 C480.5,853.0 478.5,851.8 477.0,850.3 C475.4,848.9 474.1,847.0 473.3,845.1 C472.5,843.2 472.0,841.0 472.0,839.0 C472.0,837.0 472.5,834.8 473.3,832.9 C474.1,831.0 475.4,829.1 477.0,827.7 C478.5,826.2 480.5,825.0 482.5,824.2 C484.5,823.4 486.8,823.0 489.0,823.0 C491.2,823.0 493.5,823.4 495.5,824.2 C497.5,825.0 499.5,826.2 501.0,827.7 C502.6,829.1 503.9,831.0 504.7,832.9 C505.5,834.8 506.0,837.0 506.0,839.0 Z" fill="none" stroke="#7c7c7c" stroke-width="1.05"/>
<path d="M472.0,765.0 C473.3,765.8 477.0,768.2 480.0,770.0 C483.0,771.8 488.3,775.0 490.0,776.0" fill="none" stroke="#9a9a9a" stroke-width="1.00"/>
<path d="M531.4,830.0 L526.0,841.0 L521.0,852.0" fill="none" stroke="#7c7c7c" stroke-width="1.05"/>
<path d="M527.0,836.0 L527.0,852.0" fill="none" stroke="#9a9a9a" stroke-width="1.00"/>
<path d="M519.0,834.0 C519.8,833.5 521.9,831.7 524.0,831.0 C526.1,830.3 530.2,830.2 531.4,830.0" fill="none" stroke="#9a9a9a" stroke-width="1.00"/>
<path d="M519.6,837.0 C519.3,837.5 518.6,837.8 517.5,837.8 C516.5,837.8 515.0,837.6 513.4,837.1 C511.8,836.7 509.8,835.9 507.9,835.0 C505.9,834.2 503.7,833.0 501.8,831.9 C499.8,830.7 497.7,829.4 496.0,828.2 C494.2,826.9 492.6,825.6 491.4,824.4 C490.2,823.2 489.2,822.1 488.7,821.2 C488.2,820.3 488.1,819.5 488.4,819.0 C488.7,818.5 489.4,818.2 490.5,818.2 C491.5,818.2 493.0,818.4 494.6,818.9 C496.2,819.3 498.2,820.1 500.1,821.0 C502.1,821.8 504.3,823.0 506.2,824.1 C508.2,825.3 510.3,826.6 512.0,827.8 C513.8,829.1 515.4,830.4 516.6,831.6 C517.8,832.8 518.8,833.9 519.3,834.8 C519.8,835.7 519.9,836.5 519.6,837.0 Z" fill="none" stroke="#9a9a9a" stroke-width="1.00"/>
<path d="M531.4,720.0 C531.4,722.5 531.4,730.2 531.4,735.0 C531.4,739.8 531.4,746.7 531.4,749.0" fill="none" stroke="#7c7c7c" stroke-width="1.05"/>
<path d="M490.0,748.0 L531.0,749.0" fill="none" stroke="#9a9a9a" stroke-width="1.00"/>
<path d="M494.0,756.0 C492.7,754.2 488.3,748.0 486.0,745.0 C483.7,742.0 481.0,739.2 480.0,738.0" fill="none" stroke="#9a9a9a" stroke-width="1.00"/>
<path d="M495.5,755.0 C497.9,752.5 505.6,744.5 510.0,740.0 C514.4,735.5 518.8,731.2 522.0,728.0 C525.2,724.8 527.8,722.2 529.0,721.0" fill="none" stroke="#7c7c7c" stroke-width="1.05"/>
<path d="M531.4,716.8 C532.3,715.9 534.6,712.9 536.7,711.1 C538.9,709.4 541.4,707.5 544.5,706.4 C547.6,705.3 549.8,704.7 555.2,704.6 C560.5,704.5 568.5,704.4 576.5,705.5 C584.6,706.7 595.1,708.5 603.3,711.3 C611.6,714.1 618.6,717.5 625.9,722.3 C633.1,727.1 641.2,734.5 646.6,740.1 C652.1,745.8 655.2,750.1 658.6,756.1 C661.9,762.0 664.8,769.7 666.7,775.7 C668.7,781.7 669.5,787.2 670.1,792.2 C670.7,797.2 670.9,799.9 670.3,805.8 C669.8,811.8 668.5,821.8 666.7,827.9 C665.0,834.1 662.9,837.7 659.8,842.6 C656.8,847.5 652.5,853.2 648.5,857.3 C644.5,861.4 640.6,864.7 636.0,867.2 C631.4,869.6 625.5,871.2 620.9,871.9 C616.3,872.6 611.8,872.0 608.3,871.2 C604.8,870.5 602.8,869.4 599.8,867.5 C596.9,865.7 593.7,861.9 590.6,860.0 C587.5,858.0 584.4,856.6 581.4,855.7 C578.4,854.8 575.3,854.4 572.5,854.4 C569.6,854.4 566.5,854.7 564.4,855.6 C562.3,856.5 561.9,858.6 560.0,860.0 C558.2,861.3 556.5,862.7 553.2,863.8 C550.0,864.8 544.0,865.9 540.3,866.4 C536.7,867.0 532.9,867.0 531.4,867.1" fill="none" stroke="#6e6e6e" stroke-width="1.15"/>
<path d="M579.3,705.7 L577.8,734.5" fill="none" stroke="#8a8a8a" stroke-width="0.90"/>
<path d="M569.7,704.9 L569.0,729.2" fill="none" stroke="#8a8a8a" stroke-width="0.90"/>
<path d="M557.6,704.7 L557.9,727.3" fill="none" stroke="#8a8a8a" stroke-width="0.90"/>
<path d="M603.3,711.3 L596.2,741.5" fill="none" stroke="#8a8a8a" stroke-width="0.90"/>
<path d="M625.9,722.3 L607.1,749.0" fill="none" stroke="#8a8a8a" stroke-width="0.90"/>
<path d="M646.6,740.1 L626.8,757.0" fill="none" stroke="#8a8a8a" stroke-width="0.90"/>
<path d="M658.6,756.1 L640.2,767.2" fill="none" stroke="#8a8a8a" stroke-width="0.90"/>
<path d="M667.2,779.4 L649.0,783.0" fill="none" stroke="#8a8a8a" stroke-width="0.90"/>
<path d="M670.1,792.2 L651.1,792.5" fill="none" stroke="#8a8a8a" stroke-width="0.90"/>
<path d="M670.2,800.9 L651.8,801.4" fill="none" stroke="#8a8a8a" stroke-width="0.90"/>
<path d="M669.2,810.8 L651.6,810.3" fill="none" stroke="#8a8a8a" stroke-width="0.90"/>
<path d="M667.3,820.0 L650.7,817.7" fill="none" stroke="#8a8a8a" stroke-width="0.90"/>
<path d="M661.7,838.4 L645.7,832.7" fill="none" stroke="#8a8a8a" stroke-width="0.90"/>
<path d="M648.5,857.3 L635.4,847.0" fill="none" stroke="#8a8a8a" stroke-width="0.90"/>
<path d="M636.0,867.2 L626.2,855.4" fill="none" stroke="#8a8a8a" stroke-width="0.90"/>
<path d="M554.5,736.5 L533.8,737.9" fill="none" stroke="#b0b0b0" stroke-width="0.90"/>
<path d="M531.5,716.8 C531.5,718.5 531.9,723.1 531.7,726.8 C531.5,730.5 530.0,735.5 530.4,739.1 C530.9,742.7 534.5,745.6 534.3,748.6 C534.1,751.6 530.2,755.7 529.4,757.1" fill="none" stroke="#7c7c7c" stroke-width="0.90"/>
<path d="M586.3,735.3 C584.6,734.4 580.1,731.1 576.5,730.1 C573.0,729.1 567.9,728.8 564.9,729.1 C561.9,729.5 559.8,730.6 558.6,732.5 C557.4,734.3 557.8,737.7 557.8,740.0 C557.8,742.4 558.5,745.6 558.6,746.7" fill="none" stroke="#5a5a5a" stroke-width="1.00"/>
<path d="M583.3,738.2 C581.9,737.4 577.5,734.7 574.6,733.9 C571.7,733.1 568.0,733.0 565.9,733.4 C563.7,733.8 562.3,734.8 561.5,736.3 C560.7,737.7 560.8,740.0 561.0,741.9 C561.3,743.8 562.6,746.7 563.0,747.6" fill="none" stroke="#9a9a9a" stroke-width="0.90"/>
<path d="M596.0,736.7 C594.0,736.6 588.2,735.8 584.3,736.1 C580.4,736.3 575.9,736.9 572.7,738.2 C569.4,739.4 567.3,741.7 564.9,743.4 C562.5,745.0 560.4,746.5 558.1,748.1 C555.8,749.7 552.4,752.1 551.3,752.8" fill="none" stroke="#a8a8a8" stroke-width="2.20"/>
<path d="M578.5,762.8 C577.2,762.2 573.6,760.4 570.7,759.5 C567.8,758.5 564.2,757.7 561.0,757.1 C557.8,756.5 552.9,755.9 551.3,755.7" fill="none" stroke="#7c7c7c" stroke-width="1.05"/>
<path d="M567.8,754.1 C566.4,753.6 561.6,753.4 559.1,753.5 C556.6,753.6 552.8,754.3 552.8,754.8 C552.8,755.3 556.6,756.2 559.1,756.4 C561.6,756.7 566.4,756.6 567.8,756.2 C569.3,755.8 569.3,754.5 567.8,754.1 Z" fill="#6a6a6a"/>
<path d="M596.0,773.2 C594.7,772.4 591.4,769.9 588.2,768.5 C585.0,767.1 580.4,765.5 576.5,764.7 C572.7,763.9 566.8,763.9 564.9,763.7" fill="none" stroke="#9a9a9a" stroke-width="1.00"/>
<path d="M628.4,856.1 C627.4,853.9 623.0,854.0 619.3,853.4 C615.5,852.9 609.7,852.3 605.7,852.9 C601.6,853.4 597.1,855.0 595.0,856.6 C592.9,858.3 592.1,860.9 593.2,862.8 C594.4,864.7 598.1,866.7 601.8,868.0 C605.5,869.4 611.5,871.1 615.4,870.9 C619.3,870.6 622.9,869.1 625.1,866.6 C627.3,864.1 629.4,858.3 628.4,856.1 Z" fill="none" stroke="#7c7c7c" stroke-width="1.05"/>
<path d="M630.9,841.5 C629.8,841.8 626.7,842.1 624.1,843.4 C621.5,844.6 617.6,846.8 615.4,849.1 C613.1,851.3 611.3,855.4 610.5,856.6" fill="none" stroke="#9a9a9a" stroke-width="1.00"/>
<path d="M622.2,851.9 C621.7,853.0 619.7,855.9 619.3,858.5 C618.8,861.2 619.3,866.4 619.3,868.0" fill="none" stroke="#9a9a9a" stroke-width="1.00"/>
<path d="M609.4,849.3 C609.6,849.8 610.2,850.3 610.9,850.5 C611.6,850.7 612.6,850.8 613.7,850.7 C614.7,850.6 616.0,850.3 617.2,849.9 C618.3,849.5 619.6,848.9 620.7,848.3 C621.7,847.7 622.8,846.9 623.5,846.2 C624.3,845.5 624.9,844.7 625.2,844.0 C625.5,843.3 625.5,842.6 625.2,842.1 C625.0,841.6 624.5,841.2 623.7,841.0 C623.0,840.8 622.0,840.7 621.0,840.8 C619.9,840.9 618.7,841.2 617.5,841.6 C616.3,842.0 615.0,842.6 614.0,843.2 C612.9,843.8 611.8,844.6 611.1,845.3 C610.4,846.0 609.8,846.8 609.5,847.5 C609.2,848.2 609.2,848.9 609.4,849.3 Z" fill="none" stroke="#9a9a9a" stroke-width="1.00"/>
<path d="M605.7,852.9 C605.2,854.1 602.9,857.6 602.8,860.4 C602.6,863.3 604.4,868.3 604.7,869.9" fill="none" stroke="#9a9a9a" stroke-width="1.00"/>
<path d="M573.2,733.0 C575.2,733.7 581.3,735.5 585.3,737.0 C589.3,738.5 594.0,740.2 597.4,742.0 C600.8,743.8 603.0,746.3 605.5,748.0 C608.0,749.7 608.2,750.5 612.6,752.3 C616.9,754.1 626.2,755.5 631.5,758.6 C636.8,761.8 641.1,766.5 644.2,771.2 C647.4,775.9 649.3,781.1 650.6,786.9 C651.9,792.7 652.4,799.5 652.2,805.8 C652.1,812.1 651.4,819.1 649.8,824.6 C648.2,830.1 645.7,834.3 642.6,838.8 C639.6,843.3 635.5,847.7 631.5,851.4 C627.6,855.1 622.2,858.5 618.9,860.8 C615.6,863.1 612.8,864.3 611.5,865.0" fill="none" stroke="#7c7c7c" stroke-width="1.00"/>
<path d="M572.5,735.1 C574.5,735.7 580.5,737.6 584.5,739.1 C588.5,740.5 593.1,742.1 596.3,743.9 C599.6,745.7 601.7,748.1 604.2,749.8 C606.8,751.5 607.4,752.6 611.7,754.3 C616.1,756.1 625.3,757.5 630.4,760.5 C635.5,763.5 639.4,767.9 642.4,772.4 C645.4,776.9 647.2,781.8 648.4,787.4 C649.7,792.9 650.1,799.7 650.0,805.8 C649.9,811.9 649.2,818.7 647.7,824.0 C646.1,829.3 643.7,833.3 640.8,837.6 C637.9,841.9 633.9,846.2 630.0,849.8 C626.2,853.4 620.9,856.8 617.7,859.0 C614.4,861.2 611.6,862.4 610.4,863.1" fill="none" stroke="#b8b8b8" stroke-width="3.00"/>
<path d="M608.0,755.2 C611.1,756.6 621.8,759.8 626.8,763.3 C631.8,766.8 634.8,770.9 637.9,775.9 C640.9,780.9 643.6,787.4 645.1,793.2 C646.5,799.0 646.8,805.0 646.7,810.5 C646.5,816.0 646.0,821.5 644.2,826.2 C642.5,830.9 639.7,834.9 636.3,838.8 C632.8,842.7 627.6,846.4 623.7,849.8 C619.7,853.2 615.2,857.0 612.6,859.2 C609.9,861.4 608.3,862.4 607.5,863.0" fill="none" stroke="#3c3c3c" stroke-width="2.00"/>
<path d="M606.9,757.8 C609.9,759.1 620.4,762.3 625.2,765.6 C629.9,768.9 632.6,772.6 635.5,777.4 C638.3,782.1 640.9,788.4 642.3,793.9 C643.7,799.4 644.0,805.2 643.8,810.4 C643.7,815.7 643.2,820.8 641.6,825.2 C640.0,829.7 637.4,833.2 634.1,837.0 C630.8,840.7 623.9,845.9 621.8,847.7" fill="none" stroke="#6a6a6a" stroke-width="0.90"/>
<path d="M644.2,826.2 C643.2,828.0 639.7,834.9 636.3,838.8 C632.8,842.7 627.6,846.4 623.7,849.8 C619.7,853.2 615.2,857.0 612.6,859.2 C609.9,861.4 608.5,862.4 607.5,863.0 C606.5,863.6 606.1,863.4 606.5,863.0 C606.9,862.6 607.7,862.3 610.0,860.5 C612.4,858.7 616.9,855.3 620.6,852.3 C624.3,849.3 629.1,845.6 632.2,842.5 C635.4,839.4 637.8,835.9 639.6,833.5 C641.4,831.1 642.1,829.2 642.8,828.0 C643.6,826.8 645.3,824.4 644.2,826.2 Z" fill="#707070"/>
<path d="M642.8,828.0 C642.3,828.9 641.4,831.1 639.6,833.5 C637.8,835.9 635.4,839.4 632.2,842.5 C629.1,845.6 624.3,849.3 620.6,852.3 C616.9,855.3 612.4,858.7 610.0,860.5 C607.7,862.3 607.1,862.6 606.5,863.0" fill="none" stroke="#444" stroke-width="1.00"/>
<path d="M646.5,827.6 C645.1,829.7 641.8,836.5 638.3,840.5 C634.7,844.5 629.4,848.3 625.4,851.8 C621.4,855.2 616.9,859.0 614.2,861.2 C611.5,863.4 610.0,864.4 609.1,865.1" fill="none" stroke="#555" stroke-width="1.00"/>
<path d="M606.0,759.8 C609.0,761.1 619.3,764.3 623.9,767.4 C628.5,770.5 630.9,774.0 633.6,778.5 C636.3,783.0 638.8,789.1 640.2,794.4 C641.5,799.7 641.7,805.4 641.6,810.4 C641.5,815.4 641.0,820.3 639.5,824.5 C638.0,828.7 635.6,831.9 632.5,835.5 C629.3,839.1 624.2,842.7 620.3,846.0 C616.5,849.3 611.2,853.8 609.3,855.3" fill="none" stroke="#7c7c7c" stroke-width="1.05"/>
<path d="M621.0,771.5 C622.4,773.1 626.9,777.1 629.3,781.1 C631.6,785.1 634.0,790.8 635.3,795.6 C636.5,800.5 636.7,805.7 636.6,810.3 C636.5,814.8 636.1,819.1 634.8,822.8 C633.4,826.4 631.6,829.0 628.6,832.3 C625.7,835.5 620.8,839.0 617.0,842.2 C613.3,845.5 607.9,849.9 606.1,851.5" fill="none" stroke="#7c7c7c" stroke-width="1.05"/>
<path d="M624.9,783.7 C625.8,785.9 629.3,792.4 630.4,796.9 C631.5,801.3 631.6,806.1 631.5,810.1 C631.5,814.2 631.1,817.9 630.0,821.1 C628.9,824.2 627.5,826.1 624.8,829.0 C622.1,831.9 615.6,836.9 613.7,838.5" fill="none" stroke="#9a9a9a" stroke-width="1.00"/>
<path d="M588.7,767.2 C590.6,768.1 596.1,770.5 599.8,772.7 C603.5,774.9 608.3,778.0 610.9,780.6 C613.6,783.2 614.8,785.1 615.7,788.5 C616.6,791.9 617.0,797.3 616.5,801.0 C616.0,804.7 614.3,807.6 612.6,810.5 C610.8,813.4 608.6,814.6 606.2,818.3 C603.8,822.0 600.5,828.0 598.2,832.5 C596.0,837.0 594.0,841.7 592.7,845.1 C591.4,848.5 590.7,851.6 590.3,852.9" fill="none" stroke="#333" stroke-width="2.20"/>
<path d="M588.1,766.0 C590.1,766.5 597.8,770.2 599.8,771.1 C601.9,772.0 600.3,771.0 600.3,771.5 C600.3,772.0 601.9,774.6 599.8,774.1 C597.8,773.6 590.1,769.8 588.1,768.4 C586.2,767.1 586.2,765.5 588.1,766.0 Z" fill="#333"/>
<path d="M608.5,781.0 C609.1,782.8 611.5,788.2 612.0,792.0 C612.6,795.8 612.5,800.7 611.5,804.0 C610.6,807.3 607.3,810.7 606.5,812.0" fill="none" stroke="#3a3a3a" stroke-width="1.80"/>
<path d="M597.7,776.1 C599.5,777.3 605.7,781.2 608.1,783.4 C610.4,785.7 611.0,786.7 611.8,789.5 C612.5,792.4 612.9,797.3 612.5,800.4 C612.0,803.6 610.7,805.9 609.1,808.5 C607.5,811.1 605.2,812.4 602.8,816.1 C600.4,819.8 596.9,826.1 594.6,830.7 C592.3,835.3 590.3,840.2 588.9,843.7 C587.5,847.2 586.9,850.4 586.5,851.8" fill="none" stroke="#9a9a9a" stroke-width="1.00"/>
<path d="M614.2,777.4 C615.1,779.1 618.9,783.3 620.1,787.3 C621.2,791.4 621.6,797.4 621.0,801.6 C620.4,805.9 618.3,809.6 616.5,812.8 C614.6,816.0 612.4,817.1 610.0,820.7 C607.6,824.4 604.5,830.2 602.3,834.5 C600.1,838.8 598.2,843.4 596.9,846.7 C595.6,850.0 595.1,852.9 594.7,854.2" fill="none" stroke="#7c7c7c" stroke-width="1.05"/>
<path d="M532.0,717.5 C532.4,719.5 532.7,726.5 534.1,729.7 C535.5,732.9 536.6,734.1 540.3,736.7 C543.9,739.3 550.6,742.5 556.1,745.4 C561.7,748.3 569.6,751.8 573.7,754.1 C577.8,756.4 579.6,758.5 580.8,759.4" fill="none" stroke="#7c7c7c" stroke-width="1.00"/>
<path d="M550.8,705.2 L572.0,729.7" fill="none" stroke="#9a9a9a" stroke-width="1.00"/>
<path d="M540.3,712.2 L572.0,729.7" fill="none" stroke="#9a9a9a" stroke-width="1.00"/>
<path d="M531.4,749.1 C535.0,749.2 546.4,748.9 553.0,750.0 C559.6,751.1 566.5,753.0 571.2,755.5 C575.9,758.0 579.0,759.6 581.3,765.0 C583.6,770.4 584.7,780.5 585.0,788.0 C585.3,795.5 584.7,803.0 583.3,810.0 C581.8,817.0 579.1,824.0 576.2,830.0 C573.4,836.0 570.0,842.3 566.1,846.0 C562.3,849.7 555.2,851.0 553.0,852.0" fill="none" stroke="#7c7c7c" stroke-width="1.05"/>
<path d="M566.1,757.5 C563.7,756.0 557.5,756.6 553.0,756.9 C548.5,757.1 541.7,757.8 538.9,759.0 C536.0,760.2 535.7,761.8 536.0,764.0 C536.4,766.2 538.4,769.7 540.9,772.0 C543.4,774.3 547.3,776.3 551.0,778.0 C554.7,779.7 560.4,782.4 563.1,782.1 C565.8,781.8 566.6,778.7 567.3,776.0 C568.1,773.3 567.8,769.1 567.6,766.0 C567.4,762.9 568.6,759.0 566.1,757.5 Z" fill="none" stroke="#7c7c7c" stroke-width="1.05"/>
<path d="M531.4,772.0 C532.6,772.2 536.9,772.0 538.9,773.0 C540.9,774.0 542.6,776.0 543.4,778.0 C544.3,780.0 543.8,783.8 543.9,785.0" fill="none" stroke="#7c7c7c" stroke-width="1.05"/>
<path d="M537.9,778.0 L531.4,778.0" fill="none" stroke="#5a5a5a" stroke-width="1.00"/>
<path d="M531.4,776.3 L531.4,795.7" fill="none" stroke="#444" stroke-width="1.00"/>
<path d="M567.6,795.7 C567.6,797.1 567.9,798.6 568.5,799.8 C569.0,801.1 569.9,802.3 570.9,803.1 C571.8,804.0 573.1,804.7 574.3,805.0 C575.5,805.3 576.9,805.3 578.1,805.0 C579.3,804.7 580.6,804.0 581.6,803.1 C582.5,802.3 583.4,801.1 583.9,799.8 C584.5,798.6 584.8,797.1 584.8,795.7 C584.8,794.3 584.5,792.8 583.9,791.6 C583.4,790.3 582.5,789.1 581.6,788.3 C580.6,787.4 579.3,786.7 578.1,786.4 C576.9,786.1 575.5,786.1 574.3,786.4 C573.1,786.7 571.8,787.4 570.9,788.3 C569.9,789.1 569.0,790.3 568.5,791.6 C567.9,792.8 567.6,794.3 567.6,795.7 Z" fill="none" stroke="#7c7c7c" stroke-width="1.05"/>
<path d="M537.0,801.0 C537.2,801.9 537.7,802.9 538.2,803.6 C538.8,804.2 539.5,804.8 540.2,805.1 C540.9,805.4 541.7,805.5 542.3,805.3 C543.0,805.1 543.6,804.7 544.1,804.1 C544.5,803.5 544.9,802.6 545.0,801.8 C545.1,800.9 545.0,799.9 544.8,799.0 C544.5,798.1 544.1,797.1 543.5,796.4 C543.0,795.8 542.3,795.2 541.6,794.9 C540.9,794.6 540.1,794.5 539.5,794.7 C538.8,794.9 538.1,795.3 537.7,795.9 C537.3,796.5 536.9,797.4 536.8,798.2 C536.7,799.1 536.7,800.1 537.0,801.0 Z" fill="none" stroke="#7c7c7c" stroke-width="1.05"/>
<path d="M563.1,810.0 C561.1,808.4 556.2,807.8 553.0,808.5 C549.8,809.2 545.3,811.4 543.9,814.0 C542.6,816.6 543.4,821.5 544.9,824.0 C546.4,826.5 550.3,828.7 553.0,829.0 C555.7,829.3 559.1,827.8 561.1,826.0 C563.1,824.2 564.8,820.7 565.1,818.0 C565.4,815.3 565.1,811.6 563.1,810.0 Z" fill="none" stroke="#7c7c7c" stroke-width="1.05"/>
<path d="M550.0,823.0 C550.0,823.6 550.3,824.3 550.7,824.8 C551.2,825.2 552.0,825.7 552.8,825.9 C553.5,826.0 554.5,826.0 555.3,825.9 C556.0,825.7 556.8,825.2 557.3,824.8 C557.7,824.3 558.0,823.6 558.0,823.0 C558.0,822.4 557.7,821.7 557.3,821.2 C556.8,820.8 556.0,820.3 555.3,820.1 C554.5,820.0 553.5,820.0 552.8,820.1 C552.0,820.3 551.2,820.8 550.7,821.2 C550.3,821.7 550.0,822.4 550.0,823.0 Z" fill="none" stroke="#9a9a9a" stroke-width="1.00"/>
<path d="M531.4,800.0 C532.1,802.5 535.4,809.7 535.8,815.0 C536.2,820.3 534.2,829.2 533.8,832.0" fill="none" stroke="#9a9a9a" stroke-width="1.00"/>
<path d="M535.8,838.0 C535.8,838.9 536.1,839.9 536.6,840.6 C537.1,841.4 537.9,842.0 538.6,842.3 C539.4,842.6 540.4,842.6 541.1,842.3 C541.9,842.0 542.7,841.4 543.1,840.6 C543.6,839.9 543.9,838.9 543.9,838.0 C543.9,837.1 543.6,836.1 543.1,835.4 C542.7,834.6 541.9,834.0 541.1,833.7 C540.4,833.4 539.4,833.4 538.6,833.7 C537.9,834.0 537.1,834.6 536.6,835.4 C536.1,836.1 535.8,837.1 535.8,838.0 Z" fill="none" stroke="#9a9a9a" stroke-width="1.00"/>
<path d="M528.4,847.0 C528.4,847.7 528.6,848.5 529.0,849.1 C529.3,849.6 529.9,850.1 530.5,850.3 C531.0,850.5 531.8,850.5 532.3,850.3 C532.9,850.1 533.5,849.6 533.8,849.1 C534.2,848.5 534.4,847.7 534.4,847.0 C534.4,846.3 534.2,845.5 533.8,844.9 C533.5,844.4 532.9,843.9 532.3,843.7 C531.8,843.5 531.0,843.5 530.5,843.7 C529.9,843.9 529.3,844.4 529.0,844.9 C528.6,845.5 528.4,846.3 528.4,847.0 Z" fill="none" stroke="#9a9a9a" stroke-width="1.00"/>
<path d="M593.4,800.0 C592.0,802.0 588.0,807.8 585.3,812.0 C582.6,816.2 580.4,819.3 577.2,825.0 C574.0,830.7 568.0,842.5 566.1,846.0" fill="none" stroke="#9a9a9a" stroke-width="1.00"/>
<path d="M597.4,812.0 C595.4,815.0 589.7,824.5 585.3,830.0 C580.9,835.5 573.5,842.5 571.2,845.0" fill="none" stroke="#9a9a9a" stroke-width="1.00"/>
<path d="M531.4,855.8 C535.2,855.8 539.8,855.6 542.9,856.5 C546.0,857.4 549.1,859.3 549.8,861.0 C550.4,862.7 550.0,865.4 546.9,866.5 C543.9,867.6 536.6,867.5 531.4,867.5 C526.2,867.5 518.9,867.6 515.9,866.5 C512.8,865.4 512.4,862.7 513.0,861.0 C513.7,859.3 516.8,857.4 519.9,856.5 C523.0,855.6 527.6,855.8 531.4,855.8 Z" fill="none" stroke="#5a5a5a" stroke-width="1.05"/>
<path d="M586.9,772.5 C588.5,774.5 593.7,780.4 596.4,784.7 C599.1,789.0 602.1,793.2 603.3,798.2 C604.4,803.2 604.2,809.0 603.3,814.4 C602.4,819.8 599.6,825.2 597.8,830.6 C596.0,836.0 593.9,842.8 592.4,846.8 C590.8,850.8 589.0,853.5 588.3,854.9" fill="none" stroke="#7c7c7c" stroke-width="1.05"/>
<path d="M588.3,801.0 C588.3,802.1 588.6,803.3 589.0,804.3 C589.5,805.2 590.2,806.2 591.0,806.9 C591.8,807.5 592.8,808.1 593.8,808.3 C594.8,808.6 596.0,808.6 597.0,808.3 C598.0,808.1 599.0,807.5 599.8,806.9 C600.6,806.2 601.3,805.2 601.8,804.3 C602.2,803.3 602.5,802.1 602.5,801.0 C602.5,799.9 602.2,798.7 601.8,797.7 C601.3,796.8 600.6,795.8 599.8,795.1 C599.0,794.5 598.0,793.9 597.0,793.7 C596.0,793.4 594.8,793.4 593.8,793.7 C592.8,793.9 591.8,794.5 591.0,795.1 C590.2,795.8 589.5,796.8 589.0,797.7 C588.6,798.7 588.3,799.9 588.3,801.0 Z" fill="none" stroke="#7c7c7c" stroke-width="1.05"/>
<path d="M575.8,813.0 C575.8,813.6 576.2,814.2 576.9,814.7 C577.6,815.3 578.7,815.8 580.0,816.1 C581.2,816.5 582.9,816.8 584.4,816.9 C586.0,817.0 587.8,817.0 589.4,816.9 C591.0,816.8 592.6,816.5 593.8,816.1 C595.1,815.8 596.2,815.3 596.9,814.7 C597.6,814.2 598.0,813.6 598.0,813.0 C598.0,812.4 597.6,811.8 596.9,811.3 C596.2,810.7 595.1,810.2 593.8,809.9 C592.6,809.5 591.0,809.2 589.4,809.1 C587.8,809.0 586.0,809.0 584.4,809.1 C582.9,809.2 581.2,809.5 580.0,809.9 C578.7,810.2 577.6,810.7 576.9,811.3 C576.2,811.8 575.8,812.4 575.8,813.0 Z" fill="none" stroke="#7c7c7c" stroke-width="1.05"/>
<path d="M557.0,839.0 C557.0,841.0 557.5,843.2 558.3,845.1 C559.2,847.0 560.5,848.9 562.1,850.3 C563.6,851.8 565.6,853.0 567.6,853.8 C569.7,854.6 572.0,855.0 574.2,855.0 C576.4,855.0 578.7,854.6 580.8,853.8 C582.8,853.0 584.8,851.8 586.3,850.3 C587.9,848.9 589.2,847.0 590.1,845.1 C590.9,843.2 591.4,841.0 591.4,839.0 C591.4,837.0 590.9,834.8 590.1,832.9 C589.2,831.0 587.9,829.1 586.3,827.7 C584.8,826.2 582.8,825.0 580.8,824.2 C578.7,823.4 576.4,823.0 574.2,823.0 C572.0,823.0 569.7,823.4 567.6,824.2 C565.6,825.0 563.6,826.2 562.1,827.7 C560.5,829.1 559.2,831.0 558.3,832.9 C557.5,834.8 557.0,837.0 557.0,839.0 Z" fill="none" stroke="#7c7c7c" stroke-width="1.05"/>
<path d="M591.4,765.0 C590.0,765.8 586.3,768.2 583.3,770.0 C580.3,771.8 574.9,775.0 573.2,776.0" fill="none" stroke="#9a9a9a" stroke-width="1.00"/>
<path d="M531.4,830.0 L536.9,841.0 L541.9,852.0" fill="none" stroke="#7c7c7c" stroke-width="1.05"/>
<path d="M535.8,836.0 L535.8,852.0" fill="none" stroke="#9a9a9a" stroke-width="1.00"/>
<path d="M543.9,834.0 C543.1,833.5 541.0,831.7 538.9,831.0 C536.8,830.3 532.6,830.2 531.4,830.0" fill="none" stroke="#9a9a9a" stroke-width="1.00"/>
<path d="M543.3,837.0 C543.6,837.5 544.4,837.8 545.4,837.8 C546.4,837.8 547.9,837.6 549.5,837.1 C551.2,836.7 553.2,835.9 555.1,835.0 C557.1,834.2 559.3,833.0 561.3,831.9 C563.3,830.7 565.4,829.4 567.2,828.2 C568.9,826.9 570.6,825.6 571.8,824.4 C573.0,823.2 574.0,822.1 574.5,821.2 C575.0,820.3 575.1,819.5 574.8,819.0 C574.5,818.5 573.8,818.2 572.7,818.2 C571.7,818.2 570.2,818.4 568.6,818.9 C567.0,819.3 564.9,820.1 563.0,821.0 C561.0,821.8 558.8,823.0 556.8,824.1 C554.8,825.3 552.7,826.6 550.9,827.8 C549.2,829.1 547.5,830.4 546.3,831.6 C545.1,832.8 544.2,833.9 543.7,834.8 C543.2,835.7 543.0,836.5 543.3,837.0 Z" fill="none" stroke="#9a9a9a" stroke-width="1.00"/>
<path d="M531.4,720.0 C531.4,722.5 531.4,730.2 531.4,735.0 C531.4,739.8 531.4,746.7 531.4,749.0" fill="none" stroke="#7c7c7c" stroke-width="1.05"/>
<path d="M573.2,748.0 L531.8,749.0" fill="none" stroke="#9a9a9a" stroke-width="1.00"/>
<path d="M569.2,756.0 C570.5,754.2 574.9,748.0 577.2,745.0 C579.6,742.0 582.3,739.2 583.3,738.0" fill="none" stroke="#9a9a9a" stroke-width="1.00"/>
<path d="M567.6,755.0 C565.2,752.5 557.5,744.5 553.0,740.0 C548.5,735.5 544.1,731.2 540.9,728.0 C537.7,724.8 535.0,722.2 533.8,721.0" fill="none" stroke="#7c7c7c" stroke-width="1.05"/>
<circle cx="437.5" cy="794.4" r="1.85" fill="#0a0a0a"/>
<circle cx="444.8" cy="793.6" r="1.85" fill="#0a0a0a"/>
<circle cx="446.8" cy="802.1" r="1.85" fill="#0a0a0a"/>
<circle cx="437.9" cy="804.5" r="1.85" fill="#0a0a0a"/>
<circle cx="431.6" cy="807.6" r="1.85" fill="#0a0a0a"/>
<circle cx="444.5" cy="809.1" r="1.85" fill="#0a0a0a"/>
<circle cx="446.8" cy="815.3" r="1.85" fill="#0a0a0a"/>
<circle cx="430.9" cy="818.0" r="1.85" fill="#0a0a0a"/>
<circle cx="438.2" cy="819.2" r="1.85" fill="#0a0a0a"/>
<circle cx="604.8" cy="785.9" r="1.85" fill="#0a0a0a"/>
<circle cx="612.5" cy="785.9" r="1.85" fill="#0a0a0a"/>
<circle cx="602.0" cy="792.5" r="1.85" fill="#0a0a0a"/>
<circle cx="621.8" cy="795.0" r="1.85" fill="#0a0a0a"/>
<circle cx="610.2" cy="803.0" r="1.85" fill="#0a0a0a"/>
<circle cx="616.8" cy="801.8" r="1.85" fill="#0a0a0a"/>
<circle cx="614.8" cy="811.5" r="1.85" fill="#0a0a0a"/>
</g>
</g>
</svg>
</body></html>
